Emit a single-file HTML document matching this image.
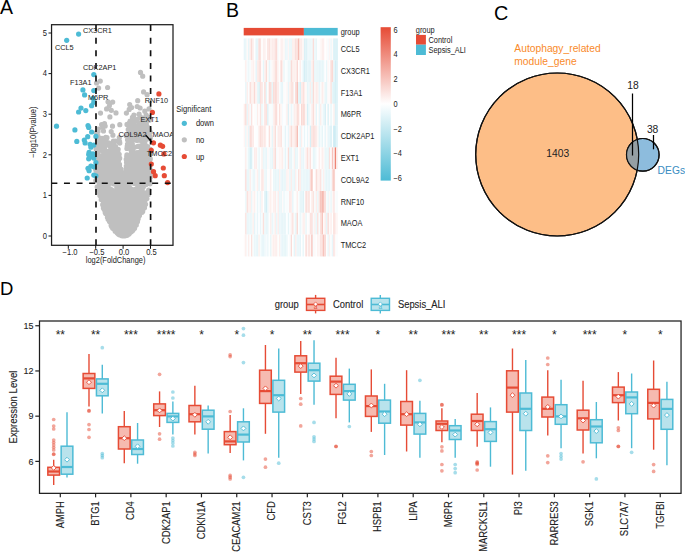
<!DOCTYPE html>
<html><head><meta charset="utf-8"><style>
html,body{margin:0;padding:0;background:#fff;overflow:hidden}
svg{display:block}
text{font-family:"Liberation Sans",sans-serif}
text[font-size="9.4"][fill="#222"],text[font-size="9"][fill="#222"],text[font-size="9.6"][fill="#222"]{stroke:#222;stroke-width:0.1px;paint-order:stroke}
</style></head><body><svg width="685" height="552" viewBox="0 0 685 552"><text x="0" y="14" font-size="19.5" font-family="Liberation Sans, sans-serif">A</text>
<text x="226" y="17" font-size="19.5" font-family="Liberation Sans, sans-serif">B</text>
<text x="494" y="19.7" font-size="19.8" font-family="Liberation Sans, sans-serif">C</text>
<text x="0" y="295" font-size="18.5" font-family="Liberation Sans, sans-serif">D</text>
<path d="M108.5,217.1a2.6,2.6 0 1,0 5.2,0a2.6,2.6 0 1,0 -5.2,0M122.2,234.6a2.6,2.6 0 1,0 5.2,0a2.6,2.6 0 1,0 -5.2,0M119.0,234.5a2.6,2.6 0 1,0 5.2,0a2.6,2.6 0 1,0 -5.2,0M120.5,203.1a2.6,2.6 0 1,0 5.2,0a2.6,2.6 0 1,0 -5.2,0M110.7,211.7a2.6,2.6 0 1,0 5.2,0a2.6,2.6 0 1,0 -5.2,0M118.6,230.7a2.6,2.6 0 1,0 5.2,0a2.6,2.6 0 1,0 -5.2,0M137.8,210.8a2.6,2.6 0 1,0 5.2,0a2.6,2.6 0 1,0 -5.2,0M126.0,219.1a2.6,2.6 0 1,0 5.2,0a2.6,2.6 0 1,0 -5.2,0M130.9,228.0a2.6,2.6 0 1,0 5.2,0a2.6,2.6 0 1,0 -5.2,0M129.4,218.5a2.6,2.6 0 1,0 5.2,0a2.6,2.6 0 1,0 -5.2,0M128.4,204.7a2.6,2.6 0 1,0 5.2,0a2.6,2.6 0 1,0 -5.2,0M118.9,229.3a2.6,2.6 0 1,0 5.2,0a2.6,2.6 0 1,0 -5.2,0M109.5,202.3a2.6,2.6 0 1,0 5.2,0a2.6,2.6 0 1,0 -5.2,0M129.1,213.7a2.6,2.6 0 1,0 5.2,0a2.6,2.6 0 1,0 -5.2,0M122.9,210.4a2.6,2.6 0 1,0 5.2,0a2.6,2.6 0 1,0 -5.2,0M127.3,191.1a2.6,2.6 0 1,0 5.2,0a2.6,2.6 0 1,0 -5.2,0M139.8,198.2a2.6,2.6 0 1,0 5.2,0a2.6,2.6 0 1,0 -5.2,0M120.8,227.9a2.6,2.6 0 1,0 5.2,0a2.6,2.6 0 1,0 -5.2,0M109.3,200.1a2.6,2.6 0 1,0 5.2,0a2.6,2.6 0 1,0 -5.2,0M128.4,215.6a2.6,2.6 0 1,0 5.2,0a2.6,2.6 0 1,0 -5.2,0M122.7,235.5a2.6,2.6 0 1,0 5.2,0a2.6,2.6 0 1,0 -5.2,0M122.3,234.9a2.6,2.6 0 1,0 5.2,0a2.6,2.6 0 1,0 -5.2,0M130.3,226.9a2.6,2.6 0 1,0 5.2,0a2.6,2.6 0 1,0 -5.2,0M118.3,218.7a2.6,2.6 0 1,0 5.2,0a2.6,2.6 0 1,0 -5.2,0M130.2,199.8a2.6,2.6 0 1,0 5.2,0a2.6,2.6 0 1,0 -5.2,0M100.2,184.4a2.6,2.6 0 1,0 5.2,0a2.6,2.6 0 1,0 -5.2,0M122.4,235.1a2.6,2.6 0 1,0 5.2,0a2.6,2.6 0 1,0 -5.2,0M104.8,217.3a2.6,2.6 0 1,0 5.2,0a2.6,2.6 0 1,0 -5.2,0M124.2,222.7a2.6,2.6 0 1,0 5.2,0a2.6,2.6 0 1,0 -5.2,0M122.7,228.9a2.6,2.6 0 1,0 5.2,0a2.6,2.6 0 1,0 -5.2,0M130.4,222.2a2.6,2.6 0 1,0 5.2,0a2.6,2.6 0 1,0 -5.2,0M117.8,233.6a2.6,2.6 0 1,0 5.2,0a2.6,2.6 0 1,0 -5.2,0M109.3,218.0a2.6,2.6 0 1,0 5.2,0a2.6,2.6 0 1,0 -5.2,0M121.2,214.1a2.6,2.6 0 1,0 5.2,0a2.6,2.6 0 1,0 -5.2,0M130.0,223.5a2.6,2.6 0 1,0 5.2,0a2.6,2.6 0 1,0 -5.2,0M126.9,231.5a2.6,2.6 0 1,0 5.2,0a2.6,2.6 0 1,0 -5.2,0M114.5,221.3a2.6,2.6 0 1,0 5.2,0a2.6,2.6 0 1,0 -5.2,0M129.4,198.0a2.6,2.6 0 1,0 5.2,0a2.6,2.6 0 1,0 -5.2,0M121.7,231.1a2.6,2.6 0 1,0 5.2,0a2.6,2.6 0 1,0 -5.2,0M107.9,217.0a2.6,2.6 0 1,0 5.2,0a2.6,2.6 0 1,0 -5.2,0M128.7,217.1a2.6,2.6 0 1,0 5.2,0a2.6,2.6 0 1,0 -5.2,0M120.4,228.0a2.6,2.6 0 1,0 5.2,0a2.6,2.6 0 1,0 -5.2,0M126.5,230.4a2.6,2.6 0 1,0 5.2,0a2.6,2.6 0 1,0 -5.2,0M124.0,225.3a2.6,2.6 0 1,0 5.2,0a2.6,2.6 0 1,0 -5.2,0M124.1,229.2a2.6,2.6 0 1,0 5.2,0a2.6,2.6 0 1,0 -5.2,0M132.7,189.4a2.6,2.6 0 1,0 5.2,0a2.6,2.6 0 1,0 -5.2,0M117.8,229.8a2.6,2.6 0 1,0 5.2,0a2.6,2.6 0 1,0 -5.2,0M129.3,189.3a2.6,2.6 0 1,0 5.2,0a2.6,2.6 0 1,0 -5.2,0M125.7,231.6a2.6,2.6 0 1,0 5.2,0a2.6,2.6 0 1,0 -5.2,0M121.3,231.8a2.6,2.6 0 1,0 5.2,0a2.6,2.6 0 1,0 -5.2,0M124.8,232.3a2.6,2.6 0 1,0 5.2,0a2.6,2.6 0 1,0 -5.2,0M106.5,214.8a2.6,2.6 0 1,0 5.2,0a2.6,2.6 0 1,0 -5.2,0M114.1,199.5a2.6,2.6 0 1,0 5.2,0a2.6,2.6 0 1,0 -5.2,0M118.1,223.7a2.6,2.6 0 1,0 5.2,0a2.6,2.6 0 1,0 -5.2,0M117.0,226.7a2.6,2.6 0 1,0 5.2,0a2.6,2.6 0 1,0 -5.2,0M126.0,230.9a2.6,2.6 0 1,0 5.2,0a2.6,2.6 0 1,0 -5.2,0M104.0,200.3a2.6,2.6 0 1,0 5.2,0a2.6,2.6 0 1,0 -5.2,0M113.5,192.7a2.6,2.6 0 1,0 5.2,0a2.6,2.6 0 1,0 -5.2,0M129.8,223.4a2.6,2.6 0 1,0 5.2,0a2.6,2.6 0 1,0 -5.2,0M120.4,229.9a2.6,2.6 0 1,0 5.2,0a2.6,2.6 0 1,0 -5.2,0M121.7,235.0a2.6,2.6 0 1,0 5.2,0a2.6,2.6 0 1,0 -5.2,0M127.3,215.4a2.6,2.6 0 1,0 5.2,0a2.6,2.6 0 1,0 -5.2,0M120.7,232.9a2.6,2.6 0 1,0 5.2,0a2.6,2.6 0 1,0 -5.2,0M127.5,211.7a2.6,2.6 0 1,0 5.2,0a2.6,2.6 0 1,0 -5.2,0M133.3,221.1a2.6,2.6 0 1,0 5.2,0a2.6,2.6 0 1,0 -5.2,0M113.1,224.8a2.6,2.6 0 1,0 5.2,0a2.6,2.6 0 1,0 -5.2,0M126.8,233.6a2.6,2.6 0 1,0 5.2,0a2.6,2.6 0 1,0 -5.2,0M112.9,230.6a2.6,2.6 0 1,0 5.2,0a2.6,2.6 0 1,0 -5.2,0M126.0,232.6a2.6,2.6 0 1,0 5.2,0a2.6,2.6 0 1,0 -5.2,0M126.3,224.3a2.6,2.6 0 1,0 5.2,0a2.6,2.6 0 1,0 -5.2,0M130.5,196.4a2.6,2.6 0 1,0 5.2,0a2.6,2.6 0 1,0 -5.2,0M129.9,228.6a2.6,2.6 0 1,0 5.2,0a2.6,2.6 0 1,0 -5.2,0M98.8,192.2a2.6,2.6 0 1,0 5.2,0a2.6,2.6 0 1,0 -5.2,0M113.3,230.8a2.6,2.6 0 1,0 5.2,0a2.6,2.6 0 1,0 -5.2,0M129.7,230.6a2.6,2.6 0 1,0 5.2,0a2.6,2.6 0 1,0 -5.2,0M136.6,185.1a2.6,2.6 0 1,0 5.2,0a2.6,2.6 0 1,0 -5.2,0M141.0,208.3a2.6,2.6 0 1,0 5.2,0a2.6,2.6 0 1,0 -5.2,0M138.6,203.6a2.6,2.6 0 1,0 5.2,0a2.6,2.6 0 1,0 -5.2,0M122.4,225.6a2.6,2.6 0 1,0 5.2,0a2.6,2.6 0 1,0 -5.2,0M126.7,187.4a2.6,2.6 0 1,0 5.2,0a2.6,2.6 0 1,0 -5.2,0M103.1,209.9a2.6,2.6 0 1,0 5.2,0a2.6,2.6 0 1,0 -5.2,0M106.5,198.3a2.6,2.6 0 1,0 5.2,0a2.6,2.6 0 1,0 -5.2,0M114.4,211.6a2.6,2.6 0 1,0 5.2,0a2.6,2.6 0 1,0 -5.2,0M125.8,223.1a2.6,2.6 0 1,0 5.2,0a2.6,2.6 0 1,0 -5.2,0M129.6,208.7a2.6,2.6 0 1,0 5.2,0a2.6,2.6 0 1,0 -5.2,0M118.0,226.9a2.6,2.6 0 1,0 5.2,0a2.6,2.6 0 1,0 -5.2,0M119.3,224.0a2.6,2.6 0 1,0 5.2,0a2.6,2.6 0 1,0 -5.2,0M122.0,212.3a2.6,2.6 0 1,0 5.2,0a2.6,2.6 0 1,0 -5.2,0M117.1,232.0a2.6,2.6 0 1,0 5.2,0a2.6,2.6 0 1,0 -5.2,0M131.1,223.1a2.6,2.6 0 1,0 5.2,0a2.6,2.6 0 1,0 -5.2,0M114.7,230.1a2.6,2.6 0 1,0 5.2,0a2.6,2.6 0 1,0 -5.2,0M121.7,205.7a2.6,2.6 0 1,0 5.2,0a2.6,2.6 0 1,0 -5.2,0M116.9,218.8a2.6,2.6 0 1,0 5.2,0a2.6,2.6 0 1,0 -5.2,0M103.0,190.1a2.6,2.6 0 1,0 5.2,0a2.6,2.6 0 1,0 -5.2,0M121.3,235.9a2.6,2.6 0 1,0 5.2,0a2.6,2.6 0 1,0 -5.2,0M131.7,196.1a2.6,2.6 0 1,0 5.2,0a2.6,2.6 0 1,0 -5.2,0M99.7,197.7a2.6,2.6 0 1,0 5.2,0a2.6,2.6 0 1,0 -5.2,0M138.0,197.8a2.6,2.6 0 1,0 5.2,0a2.6,2.6 0 1,0 -5.2,0M121.4,228.4a2.6,2.6 0 1,0 5.2,0a2.6,2.6 0 1,0 -5.2,0M115.1,225.9a2.6,2.6 0 1,0 5.2,0a2.6,2.6 0 1,0 -5.2,0M132.0,208.4a2.6,2.6 0 1,0 5.2,0a2.6,2.6 0 1,0 -5.2,0M108.7,211.6a2.6,2.6 0 1,0 5.2,0a2.6,2.6 0 1,0 -5.2,0M110.8,224.5a2.6,2.6 0 1,0 5.2,0a2.6,2.6 0 1,0 -5.2,0M119.8,213.8a2.6,2.6 0 1,0 5.2,0a2.6,2.6 0 1,0 -5.2,0M131.0,220.9a2.6,2.6 0 1,0 5.2,0a2.6,2.6 0 1,0 -5.2,0M121.1,231.1a2.6,2.6 0 1,0 5.2,0a2.6,2.6 0 1,0 -5.2,0M118.1,227.0a2.6,2.6 0 1,0 5.2,0a2.6,2.6 0 1,0 -5.2,0M121.7,207.6a2.6,2.6 0 1,0 5.2,0a2.6,2.6 0 1,0 -5.2,0M125.9,213.4a2.6,2.6 0 1,0 5.2,0a2.6,2.6 0 1,0 -5.2,0M135.4,207.8a2.6,2.6 0 1,0 5.2,0a2.6,2.6 0 1,0 -5.2,0M109.6,191.0a2.6,2.6 0 1,0 5.2,0a2.6,2.6 0 1,0 -5.2,0M124.0,200.5a2.6,2.6 0 1,0 5.2,0a2.6,2.6 0 1,0 -5.2,0M102.5,203.3a2.6,2.6 0 1,0 5.2,0a2.6,2.6 0 1,0 -5.2,0M135.1,203.2a2.6,2.6 0 1,0 5.2,0a2.6,2.6 0 1,0 -5.2,0M125.8,220.5a2.6,2.6 0 1,0 5.2,0a2.6,2.6 0 1,0 -5.2,0M122.1,235.2a2.6,2.6 0 1,0 5.2,0a2.6,2.6 0 1,0 -5.2,0M118.4,228.8a2.6,2.6 0 1,0 5.2,0a2.6,2.6 0 1,0 -5.2,0M120.1,229.4a2.6,2.6 0 1,0 5.2,0a2.6,2.6 0 1,0 -5.2,0M125.5,228.2a2.6,2.6 0 1,0 5.2,0a2.6,2.6 0 1,0 -5.2,0M125.3,221.4a2.6,2.6 0 1,0 5.2,0a2.6,2.6 0 1,0 -5.2,0M125.8,233.6a2.6,2.6 0 1,0 5.2,0a2.6,2.6 0 1,0 -5.2,0M117.5,225.5a2.6,2.6 0 1,0 5.2,0a2.6,2.6 0 1,0 -5.2,0M119.0,216.5a2.6,2.6 0 1,0 5.2,0a2.6,2.6 0 1,0 -5.2,0M108.2,215.8a2.6,2.6 0 1,0 5.2,0a2.6,2.6 0 1,0 -5.2,0M122.2,192.3a2.6,2.6 0 1,0 5.2,0a2.6,2.6 0 1,0 -5.2,0M126.1,216.8a2.6,2.6 0 1,0 5.2,0a2.6,2.6 0 1,0 -5.2,0M128.4,229.2a2.6,2.6 0 1,0 5.2,0a2.6,2.6 0 1,0 -5.2,0M130.2,201.6a2.6,2.6 0 1,0 5.2,0a2.6,2.6 0 1,0 -5.2,0M126.2,228.6a2.6,2.6 0 1,0 5.2,0a2.6,2.6 0 1,0 -5.2,0M122.0,217.9a2.6,2.6 0 1,0 5.2,0a2.6,2.6 0 1,0 -5.2,0M122.5,235.0a2.6,2.6 0 1,0 5.2,0a2.6,2.6 0 1,0 -5.2,0M115.4,210.3a2.6,2.6 0 1,0 5.2,0a2.6,2.6 0 1,0 -5.2,0M141.1,201.6a2.6,2.6 0 1,0 5.2,0a2.6,2.6 0 1,0 -5.2,0M112.6,231.3a2.6,2.6 0 1,0 5.2,0a2.6,2.6 0 1,0 -5.2,0M115.3,227.3a2.6,2.6 0 1,0 5.2,0a2.6,2.6 0 1,0 -5.2,0M104.1,188.8a2.6,2.6 0 1,0 5.2,0a2.6,2.6 0 1,0 -5.2,0M128.8,209.6a2.6,2.6 0 1,0 5.2,0a2.6,2.6 0 1,0 -5.2,0M141.1,194.8a2.6,2.6 0 1,0 5.2,0a2.6,2.6 0 1,0 -5.2,0M114.7,231.1a2.6,2.6 0 1,0 5.2,0a2.6,2.6 0 1,0 -5.2,0M104.9,209.4a2.6,2.6 0 1,0 5.2,0a2.6,2.6 0 1,0 -5.2,0M122.8,235.3a2.6,2.6 0 1,0 5.2,0a2.6,2.6 0 1,0 -5.2,0M132.6,222.8a2.6,2.6 0 1,0 5.2,0a2.6,2.6 0 1,0 -5.2,0M116.1,225.7a2.6,2.6 0 1,0 5.2,0a2.6,2.6 0 1,0 -5.2,0M132.5,217.6a2.6,2.6 0 1,0 5.2,0a2.6,2.6 0 1,0 -5.2,0M119.5,202.9a2.6,2.6 0 1,0 5.2,0a2.6,2.6 0 1,0 -5.2,0M134.1,209.8a2.6,2.6 0 1,0 5.2,0a2.6,2.6 0 1,0 -5.2,0M123.6,234.3a2.6,2.6 0 1,0 5.2,0a2.6,2.6 0 1,0 -5.2,0M97.6,190.8a2.6,2.6 0 1,0 5.2,0a2.6,2.6 0 1,0 -5.2,0M119.6,235.7a2.6,2.6 0 1,0 5.2,0a2.6,2.6 0 1,0 -5.2,0M124.0,228.2a2.6,2.6 0 1,0 5.2,0a2.6,2.6 0 1,0 -5.2,0M124.1,207.2a2.6,2.6 0 1,0 5.2,0a2.6,2.6 0 1,0 -5.2,0M111.6,223.5a2.6,2.6 0 1,0 5.2,0a2.6,2.6 0 1,0 -5.2,0M101.6,208.8a2.6,2.6 0 1,0 5.2,0a2.6,2.6 0 1,0 -5.2,0M134.0,208.8a2.6,2.6 0 1,0 5.2,0a2.6,2.6 0 1,0 -5.2,0M113.7,216.7a2.6,2.6 0 1,0 5.2,0a2.6,2.6 0 1,0 -5.2,0M133.9,216.1a2.6,2.6 0 1,0 5.2,0a2.6,2.6 0 1,0 -5.2,0M119.6,235.2a2.6,2.6 0 1,0 5.2,0a2.6,2.6 0 1,0 -5.2,0M124.1,200.6a2.6,2.6 0 1,0 5.2,0a2.6,2.6 0 1,0 -5.2,0M126.9,227.8a2.6,2.6 0 1,0 5.2,0a2.6,2.6 0 1,0 -5.2,0M130.7,213.0a2.6,2.6 0 1,0 5.2,0a2.6,2.6 0 1,0 -5.2,0M123.1,191.9a2.6,2.6 0 1,0 5.2,0a2.6,2.6 0 1,0 -5.2,0M123.1,233.2a2.6,2.6 0 1,0 5.2,0a2.6,2.6 0 1,0 -5.2,0M128.2,202.4a2.6,2.6 0 1,0 5.2,0a2.6,2.6 0 1,0 -5.2,0M121.0,236.0a2.6,2.6 0 1,0 5.2,0a2.6,2.6 0 1,0 -5.2,0M137.6,198.2a2.6,2.6 0 1,0 5.2,0a2.6,2.6 0 1,0 -5.2,0M122.9,231.4a2.6,2.6 0 1,0 5.2,0a2.6,2.6 0 1,0 -5.2,0M110.3,221.9a2.6,2.6 0 1,0 5.2,0a2.6,2.6 0 1,0 -5.2,0M126.2,229.9a2.6,2.6 0 1,0 5.2,0a2.6,2.6 0 1,0 -5.2,0M125.5,223.0a2.6,2.6 0 1,0 5.2,0a2.6,2.6 0 1,0 -5.2,0M132.7,207.4a2.6,2.6 0 1,0 5.2,0a2.6,2.6 0 1,0 -5.2,0M113.7,228.3a2.6,2.6 0 1,0 5.2,0a2.6,2.6 0 1,0 -5.2,0M120.0,213.3a2.6,2.6 0 1,0 5.2,0a2.6,2.6 0 1,0 -5.2,0M100.8,208.1a2.6,2.6 0 1,0 5.2,0a2.6,2.6 0 1,0 -5.2,0M129.2,215.1a2.6,2.6 0 1,0 5.2,0a2.6,2.6 0 1,0 -5.2,0M127.4,193.6a2.6,2.6 0 1,0 5.2,0a2.6,2.6 0 1,0 -5.2,0M117.9,219.7a2.6,2.6 0 1,0 5.2,0a2.6,2.6 0 1,0 -5.2,0M115.4,209.3a2.6,2.6 0 1,0 5.2,0a2.6,2.6 0 1,0 -5.2,0M128.4,229.4a2.6,2.6 0 1,0 5.2,0a2.6,2.6 0 1,0 -5.2,0M130.8,221.8a2.6,2.6 0 1,0 5.2,0a2.6,2.6 0 1,0 -5.2,0M119.0,231.8a2.6,2.6 0 1,0 5.2,0a2.6,2.6 0 1,0 -5.2,0M125.4,227.2a2.6,2.6 0 1,0 5.2,0a2.6,2.6 0 1,0 -5.2,0M108.0,221.7a2.6,2.6 0 1,0 5.2,0a2.6,2.6 0 1,0 -5.2,0M111.2,200.8a2.6,2.6 0 1,0 5.2,0a2.6,2.6 0 1,0 -5.2,0M130.1,229.1a2.6,2.6 0 1,0 5.2,0a2.6,2.6 0 1,0 -5.2,0M111.6,197.0a2.6,2.6 0 1,0 5.2,0a2.6,2.6 0 1,0 -5.2,0M119.5,234.9a2.6,2.6 0 1,0 5.2,0a2.6,2.6 0 1,0 -5.2,0M114.0,218.6a2.6,2.6 0 1,0 5.2,0a2.6,2.6 0 1,0 -5.2,0M126.9,228.8a2.6,2.6 0 1,0 5.2,0a2.6,2.6 0 1,0 -5.2,0M114.0,218.0a2.6,2.6 0 1,0 5.2,0a2.6,2.6 0 1,0 -5.2,0M122.4,222.1a2.6,2.6 0 1,0 5.2,0a2.6,2.6 0 1,0 -5.2,0M95.8,188.7a2.6,2.6 0 1,0 5.2,0a2.6,2.6 0 1,0 -5.2,0M113.2,224.9a2.6,2.6 0 1,0 5.2,0a2.6,2.6 0 1,0 -5.2,0M119.8,220.2a2.6,2.6 0 1,0 5.2,0a2.6,2.6 0 1,0 -5.2,0M119.2,184.0a2.6,2.6 0 1,0 5.2,0a2.6,2.6 0 1,0 -5.2,0M118.0,234.6a2.6,2.6 0 1,0 5.2,0a2.6,2.6 0 1,0 -5.2,0M127.7,183.3a2.6,2.6 0 1,0 5.2,0a2.6,2.6 0 1,0 -5.2,0M122.7,217.0a2.6,2.6 0 1,0 5.2,0a2.6,2.6 0 1,0 -5.2,0M118.2,226.6a2.6,2.6 0 1,0 5.2,0a2.6,2.6 0 1,0 -5.2,0M99.7,199.7a2.6,2.6 0 1,0 5.2,0a2.6,2.6 0 1,0 -5.2,0M140.8,186.8a2.6,2.6 0 1,0 5.2,0a2.6,2.6 0 1,0 -5.2,0M125.3,189.4a2.6,2.6 0 1,0 5.2,0a2.6,2.6 0 1,0 -5.2,0M124.9,218.5a2.6,2.6 0 1,0 5.2,0a2.6,2.6 0 1,0 -5.2,0M103.1,213.5a2.6,2.6 0 1,0 5.2,0a2.6,2.6 0 1,0 -5.2,0M117.8,234.8a2.6,2.6 0 1,0 5.2,0a2.6,2.6 0 1,0 -5.2,0M120.6,234.7a2.6,2.6 0 1,0 5.2,0a2.6,2.6 0 1,0 -5.2,0M124.2,229.6a2.6,2.6 0 1,0 5.2,0a2.6,2.6 0 1,0 -5.2,0M125.1,224.8a2.6,2.6 0 1,0 5.2,0a2.6,2.6 0 1,0 -5.2,0M125.5,231.2a2.6,2.6 0 1,0 5.2,0a2.6,2.6 0 1,0 -5.2,0M117.2,234.2a2.6,2.6 0 1,0 5.2,0a2.6,2.6 0 1,0 -5.2,0M110.4,207.2a2.6,2.6 0 1,0 5.2,0a2.6,2.6 0 1,0 -5.2,0M106.9,221.6a2.6,2.6 0 1,0 5.2,0a2.6,2.6 0 1,0 -5.2,0M109.0,198.0a2.6,2.6 0 1,0 5.2,0a2.6,2.6 0 1,0 -5.2,0M144.3,198.5a2.6,2.6 0 1,0 5.2,0a2.6,2.6 0 1,0 -5.2,0M142.3,200.9a2.6,2.6 0 1,0 5.2,0a2.6,2.6 0 1,0 -5.2,0M113.9,227.5a2.6,2.6 0 1,0 5.2,0a2.6,2.6 0 1,0 -5.2,0M125.9,223.9a2.6,2.6 0 1,0 5.2,0a2.6,2.6 0 1,0 -5.2,0M114.9,221.9a2.6,2.6 0 1,0 5.2,0a2.6,2.6 0 1,0 -5.2,0M130.9,212.2a2.6,2.6 0 1,0 5.2,0a2.6,2.6 0 1,0 -5.2,0M108.5,225.3a2.6,2.6 0 1,0 5.2,0a2.6,2.6 0 1,0 -5.2,0M104.4,183.6a2.6,2.6 0 1,0 5.2,0a2.6,2.6 0 1,0 -5.2,0M115.1,209.1a2.6,2.6 0 1,0 5.2,0a2.6,2.6 0 1,0 -5.2,0M134.6,192.8a2.6,2.6 0 1,0 5.2,0a2.6,2.6 0 1,0 -5.2,0M135.3,211.2a2.6,2.6 0 1,0 5.2,0a2.6,2.6 0 1,0 -5.2,0M135.0,214.3a2.6,2.6 0 1,0 5.2,0a2.6,2.6 0 1,0 -5.2,0M117.5,232.5a2.6,2.6 0 1,0 5.2,0a2.6,2.6 0 1,0 -5.2,0M104.0,203.6a2.6,2.6 0 1,0 5.2,0a2.6,2.6 0 1,0 -5.2,0M122.0,230.6a2.6,2.6 0 1,0 5.2,0a2.6,2.6 0 1,0 -5.2,0M121.4,234.9a2.6,2.6 0 1,0 5.2,0a2.6,2.6 0 1,0 -5.2,0M131.3,228.0a2.6,2.6 0 1,0 5.2,0a2.6,2.6 0 1,0 -5.2,0M111.6,205.4a2.6,2.6 0 1,0 5.2,0a2.6,2.6 0 1,0 -5.2,0M105.7,209.2a2.6,2.6 0 1,0 5.2,0a2.6,2.6 0 1,0 -5.2,0M102.8,205.5a2.6,2.6 0 1,0 5.2,0a2.6,2.6 0 1,0 -5.2,0M117.4,232.2a2.6,2.6 0 1,0 5.2,0a2.6,2.6 0 1,0 -5.2,0M140.1,211.4a2.6,2.6 0 1,0 5.2,0a2.6,2.6 0 1,0 -5.2,0M122.7,233.9a2.6,2.6 0 1,0 5.2,0a2.6,2.6 0 1,0 -5.2,0M119.0,222.6a2.6,2.6 0 1,0 5.2,0a2.6,2.6 0 1,0 -5.2,0M114.1,214.5a2.6,2.6 0 1,0 5.2,0a2.6,2.6 0 1,0 -5.2,0M110.1,223.0a2.6,2.6 0 1,0 5.2,0a2.6,2.6 0 1,0 -5.2,0M112.9,222.3a2.6,2.6 0 1,0 5.2,0a2.6,2.6 0 1,0 -5.2,0M123.1,230.0a2.6,2.6 0 1,0 5.2,0a2.6,2.6 0 1,0 -5.2,0M117.1,229.2a2.6,2.6 0 1,0 5.2,0a2.6,2.6 0 1,0 -5.2,0M115.8,233.5a2.6,2.6 0 1,0 5.2,0a2.6,2.6 0 1,0 -5.2,0M132.4,224.7a2.6,2.6 0 1,0 5.2,0a2.6,2.6 0 1,0 -5.2,0M125.8,225.6a2.6,2.6 0 1,0 5.2,0a2.6,2.6 0 1,0 -5.2,0M125.2,185.0a2.6,2.6 0 1,0 5.2,0a2.6,2.6 0 1,0 -5.2,0M120.7,235.0a2.6,2.6 0 1,0 5.2,0a2.6,2.6 0 1,0 -5.2,0M112.2,223.7a2.6,2.6 0 1,0 5.2,0a2.6,2.6 0 1,0 -5.2,0M117.9,234.5a2.6,2.6 0 1,0 5.2,0a2.6,2.6 0 1,0 -5.2,0M109.9,206.3a2.6,2.6 0 1,0 5.2,0a2.6,2.6 0 1,0 -5.2,0M118.3,228.1a2.6,2.6 0 1,0 5.2,0a2.6,2.6 0 1,0 -5.2,0M117.9,185.4a2.6,2.6 0 1,0 5.2,0a2.6,2.6 0 1,0 -5.2,0M129.5,199.8a2.6,2.6 0 1,0 5.2,0a2.6,2.6 0 1,0 -5.2,0M108.4,219.2a2.6,2.6 0 1,0 5.2,0a2.6,2.6 0 1,0 -5.2,0M133.0,219.5a2.6,2.6 0 1,0 5.2,0a2.6,2.6 0 1,0 -5.2,0M105.6,216.4a2.6,2.6 0 1,0 5.2,0a2.6,2.6 0 1,0 -5.2,0M123.7,211.8a2.6,2.6 0 1,0 5.2,0a2.6,2.6 0 1,0 -5.2,0M133.2,220.4a2.6,2.6 0 1,0 5.2,0a2.6,2.6 0 1,0 -5.2,0M117.6,235.0a2.6,2.6 0 1,0 5.2,0a2.6,2.6 0 1,0 -5.2,0M123.6,214.0a2.6,2.6 0 1,0 5.2,0a2.6,2.6 0 1,0 -5.2,0M124.6,231.0a2.6,2.6 0 1,0 5.2,0a2.6,2.6 0 1,0 -5.2,0M108.1,209.1a2.6,2.6 0 1,0 5.2,0a2.6,2.6 0 1,0 -5.2,0M117.7,219.7a2.6,2.6 0 1,0 5.2,0a2.6,2.6 0 1,0 -5.2,0M112.4,222.5a2.6,2.6 0 1,0 5.2,0a2.6,2.6 0 1,0 -5.2,0M117.0,196.9a2.6,2.6 0 1,0 5.2,0a2.6,2.6 0 1,0 -5.2,0M112.5,210.1a2.6,2.6 0 1,0 5.2,0a2.6,2.6 0 1,0 -5.2,0M123.5,234.5a2.6,2.6 0 1,0 5.2,0a2.6,2.6 0 1,0 -5.2,0M131.2,223.8a2.6,2.6 0 1,0 5.2,0a2.6,2.6 0 1,0 -5.2,0M118.5,220.9a2.6,2.6 0 1,0 5.2,0a2.6,2.6 0 1,0 -5.2,0M137.3,192.2a2.6,2.6 0 1,0 5.2,0a2.6,2.6 0 1,0 -5.2,0M123.2,235.5a2.6,2.6 0 1,0 5.2,0a2.6,2.6 0 1,0 -5.2,0M125.4,207.6a2.6,2.6 0 1,0 5.2,0a2.6,2.6 0 1,0 -5.2,0M118.0,223.4a2.6,2.6 0 1,0 5.2,0a2.6,2.6 0 1,0 -5.2,0M115.1,199.2a2.6,2.6 0 1,0 5.2,0a2.6,2.6 0 1,0 -5.2,0M128.2,220.5a2.6,2.6 0 1,0 5.2,0a2.6,2.6 0 1,0 -5.2,0M127.2,229.9a2.6,2.6 0 1,0 5.2,0a2.6,2.6 0 1,0 -5.2,0M104.8,198.8a2.6,2.6 0 1,0 5.2,0a2.6,2.6 0 1,0 -5.2,0M119.6,200.4a2.6,2.6 0 1,0 5.2,0a2.6,2.6 0 1,0 -5.2,0M123.7,230.6a2.6,2.6 0 1,0 5.2,0a2.6,2.6 0 1,0 -5.2,0M122.9,227.7a2.6,2.6 0 1,0 5.2,0a2.6,2.6 0 1,0 -5.2,0M127.1,229.9a2.6,2.6 0 1,0 5.2,0a2.6,2.6 0 1,0 -5.2,0M117.1,230.8a2.6,2.6 0 1,0 5.2,0a2.6,2.6 0 1,0 -5.2,0M124.4,187.3a2.6,2.6 0 1,0 5.2,0a2.6,2.6 0 1,0 -5.2,0M114.8,222.8a2.6,2.6 0 1,0 5.2,0a2.6,2.6 0 1,0 -5.2,0M146.1,190.1a2.6,2.6 0 1,0 5.2,0a2.6,2.6 0 1,0 -5.2,0M132.0,196.1a2.6,2.6 0 1,0 5.2,0a2.6,2.6 0 1,0 -5.2,0M131.1,216.1a2.6,2.6 0 1,0 5.2,0a2.6,2.6 0 1,0 -5.2,0M120.9,217.7a2.6,2.6 0 1,0 5.2,0a2.6,2.6 0 1,0 -5.2,0M117.1,215.2a2.6,2.6 0 1,0 5.2,0a2.6,2.6 0 1,0 -5.2,0M115.8,218.7a2.6,2.6 0 1,0 5.2,0a2.6,2.6 0 1,0 -5.2,0M120.9,192.4a2.6,2.6 0 1,0 5.2,0a2.6,2.6 0 1,0 -5.2,0M127.0,228.9a2.6,2.6 0 1,0 5.2,0a2.6,2.6 0 1,0 -5.2,0M115.9,199.9a2.6,2.6 0 1,0 5.2,0a2.6,2.6 0 1,0 -5.2,0M117.8,233.4a2.6,2.6 0 1,0 5.2,0a2.6,2.6 0 1,0 -5.2,0M116.1,217.3a2.6,2.6 0 1,0 5.2,0a2.6,2.6 0 1,0 -5.2,0M133.8,202.4a2.6,2.6 0 1,0 5.2,0a2.6,2.6 0 1,0 -5.2,0M100.1,186.7a2.6,2.6 0 1,0 5.2,0a2.6,2.6 0 1,0 -5.2,0M111.9,215.6a2.6,2.6 0 1,0 5.2,0a2.6,2.6 0 1,0 -5.2,0M140.1,208.4a2.6,2.6 0 1,0 5.2,0a2.6,2.6 0 1,0 -5.2,0M112.5,222.7a2.6,2.6 0 1,0 5.2,0a2.6,2.6 0 1,0 -5.2,0M118.7,216.4a2.6,2.6 0 1,0 5.2,0a2.6,2.6 0 1,0 -5.2,0M115.4,230.8a2.6,2.6 0 1,0 5.2,0a2.6,2.6 0 1,0 -5.2,0M125.5,230.7a2.6,2.6 0 1,0 5.2,0a2.6,2.6 0 1,0 -5.2,0M126.7,230.2a2.6,2.6 0 1,0 5.2,0a2.6,2.6 0 1,0 -5.2,0M116.8,233.8a2.6,2.6 0 1,0 5.2,0a2.6,2.6 0 1,0 -5.2,0M126.0,224.5a2.6,2.6 0 1,0 5.2,0a2.6,2.6 0 1,0 -5.2,0M140.3,184.4a2.6,2.6 0 1,0 5.2,0a2.6,2.6 0 1,0 -5.2,0M120.1,213.0a2.6,2.6 0 1,0 5.2,0a2.6,2.6 0 1,0 -5.2,0M113.6,212.8a2.6,2.6 0 1,0 5.2,0a2.6,2.6 0 1,0 -5.2,0M121.7,223.1a2.6,2.6 0 1,0 5.2,0a2.6,2.6 0 1,0 -5.2,0M118.0,208.8a2.6,2.6 0 1,0 5.2,0a2.6,2.6 0 1,0 -5.2,0M114.2,224.9a2.6,2.6 0 1,0 5.2,0a2.6,2.6 0 1,0 -5.2,0M105.9,191.1a2.6,2.6 0 1,0 5.2,0a2.6,2.6 0 1,0 -5.2,0M135.8,206.7a2.6,2.6 0 1,0 5.2,0a2.6,2.6 0 1,0 -5.2,0M109.3,218.8a2.6,2.6 0 1,0 5.2,0a2.6,2.6 0 1,0 -5.2,0M115.2,212.0a2.6,2.6 0 1,0 5.2,0a2.6,2.6 0 1,0 -5.2,0M119.9,235.0a2.6,2.6 0 1,0 5.2,0a2.6,2.6 0 1,0 -5.2,0M131.5,225.6a2.6,2.6 0 1,0 5.2,0a2.6,2.6 0 1,0 -5.2,0M127.7,230.8a2.6,2.6 0 1,0 5.2,0a2.6,2.6 0 1,0 -5.2,0M134.2,207.0a2.6,2.6 0 1,0 5.2,0a2.6,2.6 0 1,0 -5.2,0M120.7,234.4a2.6,2.6 0 1,0 5.2,0a2.6,2.6 0 1,0 -5.2,0M125.8,230.1a2.6,2.6 0 1,0 5.2,0a2.6,2.6 0 1,0 -5.2,0M123.8,235.4a2.6,2.6 0 1,0 5.2,0a2.6,2.6 0 1,0 -5.2,0M109.4,190.2a2.6,2.6 0 1,0 5.2,0a2.6,2.6 0 1,0 -5.2,0M131.9,215.1a2.6,2.6 0 1,0 5.2,0a2.6,2.6 0 1,0 -5.2,0M128.1,209.1a2.6,2.6 0 1,0 5.2,0a2.6,2.6 0 1,0 -5.2,0M112.3,222.2a2.6,2.6 0 1,0 5.2,0a2.6,2.6 0 1,0 -5.2,0M121.8,196.9a2.6,2.6 0 1,0 5.2,0a2.6,2.6 0 1,0 -5.2,0M116.4,215.1a2.6,2.6 0 1,0 5.2,0a2.6,2.6 0 1,0 -5.2,0M124.9,223.4a2.6,2.6 0 1,0 5.2,0a2.6,2.6 0 1,0 -5.2,0M137.2,209.0a2.6,2.6 0 1,0 5.2,0a2.6,2.6 0 1,0 -5.2,0M120.8,235.6a2.6,2.6 0 1,0 5.2,0a2.6,2.6 0 1,0 -5.2,0M121.7,210.6a2.6,2.6 0 1,0 5.2,0a2.6,2.6 0 1,0 -5.2,0M104.9,202.0a2.6,2.6 0 1,0 5.2,0a2.6,2.6 0 1,0 -5.2,0M116.5,230.2a2.6,2.6 0 1,0 5.2,0a2.6,2.6 0 1,0 -5.2,0M108.4,214.5a2.6,2.6 0 1,0 5.2,0a2.6,2.6 0 1,0 -5.2,0M98.6,199.4a2.6,2.6 0 1,0 5.2,0a2.6,2.6 0 1,0 -5.2,0M111.8,200.7a2.6,2.6 0 1,0 5.2,0a2.6,2.6 0 1,0 -5.2,0M118.7,234.5a2.6,2.6 0 1,0 5.2,0a2.6,2.6 0 1,0 -5.2,0M123.9,234.9a2.6,2.6 0 1,0 5.2,0a2.6,2.6 0 1,0 -5.2,0M112.8,223.7a2.6,2.6 0 1,0 5.2,0a2.6,2.6 0 1,0 -5.2,0M105.5,200.0a2.6,2.6 0 1,0 5.2,0a2.6,2.6 0 1,0 -5.2,0M124.1,226.4a2.6,2.6 0 1,0 5.2,0a2.6,2.6 0 1,0 -5.2,0M96.8,192.9a2.6,2.6 0 1,0 5.2,0a2.6,2.6 0 1,0 -5.2,0M124.8,204.0a2.6,2.6 0 1,0 5.2,0a2.6,2.6 0 1,0 -5.2,0M135.6,218.7a2.6,2.6 0 1,0 5.2,0a2.6,2.6 0 1,0 -5.2,0M127.2,210.2a2.6,2.6 0 1,0 5.2,0a2.6,2.6 0 1,0 -5.2,0M106.1,206.5a2.6,2.6 0 1,0 5.2,0a2.6,2.6 0 1,0 -5.2,0M124.2,235.3a2.6,2.6 0 1,0 5.2,0a2.6,2.6 0 1,0 -5.2,0M135.3,186.0a2.6,2.6 0 1,0 5.2,0a2.6,2.6 0 1,0 -5.2,0M110.2,222.2a2.6,2.6 0 1,0 5.2,0a2.6,2.6 0 1,0 -5.2,0M117.6,192.0a2.6,2.6 0 1,0 5.2,0a2.6,2.6 0 1,0 -5.2,0M122.5,235.8a2.6,2.6 0 1,0 5.2,0a2.6,2.6 0 1,0 -5.2,0M121.3,227.0a2.6,2.6 0 1,0 5.2,0a2.6,2.6 0 1,0 -5.2,0M118.8,232.0a2.6,2.6 0 1,0 5.2,0a2.6,2.6 0 1,0 -5.2,0M124.7,225.2a2.6,2.6 0 1,0 5.2,0a2.6,2.6 0 1,0 -5.2,0M104.5,212.8a2.6,2.6 0 1,0 5.2,0a2.6,2.6 0 1,0 -5.2,0M110.7,211.3a2.6,2.6 0 1,0 5.2,0a2.6,2.6 0 1,0 -5.2,0M129.7,226.3a2.6,2.6 0 1,0 5.2,0a2.6,2.6 0 1,0 -5.2,0M122.4,202.8a2.6,2.6 0 1,0 5.2,0a2.6,2.6 0 1,0 -5.2,0M112.6,217.2a2.6,2.6 0 1,0 5.2,0a2.6,2.6 0 1,0 -5.2,0M116.5,198.1a2.6,2.6 0 1,0 5.2,0a2.6,2.6 0 1,0 -5.2,0M101.6,209.5a2.6,2.6 0 1,0 5.2,0a2.6,2.6 0 1,0 -5.2,0M106.6,218.3a2.6,2.6 0 1,0 5.2,0a2.6,2.6 0 1,0 -5.2,0M123.1,183.9a2.6,2.6 0 1,0 5.2,0a2.6,2.6 0 1,0 -5.2,0M126.1,199.7a2.6,2.6 0 1,0 5.2,0a2.6,2.6 0 1,0 -5.2,0M110.2,211.6a2.6,2.6 0 1,0 5.2,0a2.6,2.6 0 1,0 -5.2,0M124.2,214.9a2.6,2.6 0 1,0 5.2,0a2.6,2.6 0 1,0 -5.2,0M128.9,229.7a2.6,2.6 0 1,0 5.2,0a2.6,2.6 0 1,0 -5.2,0M117.3,223.5a2.6,2.6 0 1,0 5.2,0a2.6,2.6 0 1,0 -5.2,0M123.7,219.8a2.6,2.6 0 1,0 5.2,0a2.6,2.6 0 1,0 -5.2,0M117.2,232.1a2.6,2.6 0 1,0 5.2,0a2.6,2.6 0 1,0 -5.2,0M118.2,190.2a2.6,2.6 0 1,0 5.2,0a2.6,2.6 0 1,0 -5.2,0M107.7,209.7a2.6,2.6 0 1,0 5.2,0a2.6,2.6 0 1,0 -5.2,0M112.8,219.4a2.6,2.6 0 1,0 5.2,0a2.6,2.6 0 1,0 -5.2,0M107.0,220.3a2.6,2.6 0 1,0 5.2,0a2.6,2.6 0 1,0 -5.2,0M109.0,226.6a2.6,2.6 0 1,0 5.2,0a2.6,2.6 0 1,0 -5.2,0M114.0,219.5a2.6,2.6 0 1,0 5.2,0a2.6,2.6 0 1,0 -5.2,0M124.3,211.7a2.6,2.6 0 1,0 5.2,0a2.6,2.6 0 1,0 -5.2,0M119.7,233.6a2.6,2.6 0 1,0 5.2,0a2.6,2.6 0 1,0 -5.2,0M123.9,231.6a2.6,2.6 0 1,0 5.2,0a2.6,2.6 0 1,0 -5.2,0M134.0,193.4a2.6,2.6 0 1,0 5.2,0a2.6,2.6 0 1,0 -5.2,0M98.5,185.4a2.6,2.6 0 1,0 5.2,0a2.6,2.6 0 1,0 -5.2,0M122.6,233.5a2.6,2.6 0 1,0 5.2,0a2.6,2.6 0 1,0 -5.2,0M147.4,183.8a2.6,2.6 0 1,0 5.2,0a2.6,2.6 0 1,0 -5.2,0M118.2,228.2a2.6,2.6 0 1,0 5.2,0a2.6,2.6 0 1,0 -5.2,0M129.5,203.2a2.6,2.6 0 1,0 5.2,0a2.6,2.6 0 1,0 -5.2,0M141.8,207.3a2.6,2.6 0 1,0 5.2,0a2.6,2.6 0 1,0 -5.2,0M119.9,219.3a2.6,2.6 0 1,0 5.2,0a2.6,2.6 0 1,0 -5.2,0M116.4,233.8a2.6,2.6 0 1,0 5.2,0a2.6,2.6 0 1,0 -5.2,0M139.7,184.7a2.6,2.6 0 1,0 5.2,0a2.6,2.6 0 1,0 -5.2,0M120.2,226.7a2.6,2.6 0 1,0 5.2,0a2.6,2.6 0 1,0 -5.2,0M105.2,209.8a2.6,2.6 0 1,0 5.2,0a2.6,2.6 0 1,0 -5.2,0M137.5,200.9a2.6,2.6 0 1,0 5.2,0a2.6,2.6 0 1,0 -5.2,0M118.9,234.9a2.6,2.6 0 1,0 5.2,0a2.6,2.6 0 1,0 -5.2,0M136.2,198.4a2.6,2.6 0 1,0 5.2,0a2.6,2.6 0 1,0 -5.2,0M116.4,226.5a2.6,2.6 0 1,0 5.2,0a2.6,2.6 0 1,0 -5.2,0M124.1,235.0a2.6,2.6 0 1,0 5.2,0a2.6,2.6 0 1,0 -5.2,0M120.8,228.4a2.6,2.6 0 1,0 5.2,0a2.6,2.6 0 1,0 -5.2,0M120.2,226.3a2.6,2.6 0 1,0 5.2,0a2.6,2.6 0 1,0 -5.2,0M112.0,226.9a2.6,2.6 0 1,0 5.2,0a2.6,2.6 0 1,0 -5.2,0M125.8,229.9a2.6,2.6 0 1,0 5.2,0a2.6,2.6 0 1,0 -5.2,0M110.9,199.2a2.6,2.6 0 1,0 5.2,0a2.6,2.6 0 1,0 -5.2,0M126.2,222.8a2.6,2.6 0 1,0 5.2,0a2.6,2.6 0 1,0 -5.2,0M119.4,229.8a2.6,2.6 0 1,0 5.2,0a2.6,2.6 0 1,0 -5.2,0M124.7,232.7a2.6,2.6 0 1,0 5.2,0a2.6,2.6 0 1,0 -5.2,0M127.0,233.2a2.6,2.6 0 1,0 5.2,0a2.6,2.6 0 1,0 -5.2,0M124.1,233.1a2.6,2.6 0 1,0 5.2,0a2.6,2.6 0 1,0 -5.2,0M127.0,208.4a2.6,2.6 0 1,0 5.2,0a2.6,2.6 0 1,0 -5.2,0M125.3,213.9a2.6,2.6 0 1,0 5.2,0a2.6,2.6 0 1,0 -5.2,0M127.0,232.8a2.6,2.6 0 1,0 5.2,0a2.6,2.6 0 1,0 -5.2,0M107.4,211.5a2.6,2.6 0 1,0 5.2,0a2.6,2.6 0 1,0 -5.2,0M125.8,198.5a2.6,2.6 0 1,0 5.2,0a2.6,2.6 0 1,0 -5.2,0M111.0,201.0a2.6,2.6 0 1,0 5.2,0a2.6,2.6 0 1,0 -5.2,0M117.4,229.0a2.6,2.6 0 1,0 5.2,0a2.6,2.6 0 1,0 -5.2,0M138.2,185.2a2.6,2.6 0 1,0 5.2,0a2.6,2.6 0 1,0 -5.2,0M140.0,203.0a2.6,2.6 0 1,0 5.2,0a2.6,2.6 0 1,0 -5.2,0M130.3,218.2a2.6,2.6 0 1,0 5.2,0a2.6,2.6 0 1,0 -5.2,0M136.5,207.4a2.6,2.6 0 1,0 5.2,0a2.6,2.6 0 1,0 -5.2,0M117.7,232.5a2.6,2.6 0 1,0 5.2,0a2.6,2.6 0 1,0 -5.2,0M107.9,191.6a2.6,2.6 0 1,0 5.2,0a2.6,2.6 0 1,0 -5.2,0M117.0,219.7a2.6,2.6 0 1,0 5.2,0a2.6,2.6 0 1,0 -5.2,0M128.9,228.9a2.6,2.6 0 1,0 5.2,0a2.6,2.6 0 1,0 -5.2,0M115.7,233.9a2.6,2.6 0 1,0 5.2,0a2.6,2.6 0 1,0 -5.2,0M122.0,232.2a2.6,2.6 0 1,0 5.2,0a2.6,2.6 0 1,0 -5.2,0M120.6,229.4a2.6,2.6 0 1,0 5.2,0a2.6,2.6 0 1,0 -5.2,0M110.2,224.9a2.6,2.6 0 1,0 5.2,0a2.6,2.6 0 1,0 -5.2,0M114.1,211.6a2.6,2.6 0 1,0 5.2,0a2.6,2.6 0 1,0 -5.2,0M103.7,185.7a2.6,2.6 0 1,0 5.2,0a2.6,2.6 0 1,0 -5.2,0M116.6,227.9a2.6,2.6 0 1,0 5.2,0a2.6,2.6 0 1,0 -5.2,0M118.1,203.2a2.6,2.6 0 1,0 5.2,0a2.6,2.6 0 1,0 -5.2,0M125.6,197.5a2.6,2.6 0 1,0 5.2,0a2.6,2.6 0 1,0 -5.2,0M118.2,227.7a2.6,2.6 0 1,0 5.2,0a2.6,2.6 0 1,0 -5.2,0M139.8,207.1a2.6,2.6 0 1,0 5.2,0a2.6,2.6 0 1,0 -5.2,0M141.2,208.0a2.6,2.6 0 1,0 5.2,0a2.6,2.6 0 1,0 -5.2,0M131.2,204.5a2.6,2.6 0 1,0 5.2,0a2.6,2.6 0 1,0 -5.2,0M124.7,226.6a2.6,2.6 0 1,0 5.2,0a2.6,2.6 0 1,0 -5.2,0M130.8,203.9a2.6,2.6 0 1,0 5.2,0a2.6,2.6 0 1,0 -5.2,0M120.2,225.7a2.6,2.6 0 1,0 5.2,0a2.6,2.6 0 1,0 -5.2,0M124.3,218.5a2.6,2.6 0 1,0 5.2,0a2.6,2.6 0 1,0 -5.2,0M117.3,232.6a2.6,2.6 0 1,0 5.2,0a2.6,2.6 0 1,0 -5.2,0M120.9,227.3a2.6,2.6 0 1,0 5.2,0a2.6,2.6 0 1,0 -5.2,0M104.4,210.7a2.6,2.6 0 1,0 5.2,0a2.6,2.6 0 1,0 -5.2,0M112.5,215.6a2.6,2.6 0 1,0 5.2,0a2.6,2.6 0 1,0 -5.2,0M123.0,214.8a2.6,2.6 0 1,0 5.2,0a2.6,2.6 0 1,0 -5.2,0M117.5,232.1a2.6,2.6 0 1,0 5.2,0a2.6,2.6 0 1,0 -5.2,0M107.3,211.8a2.6,2.6 0 1,0 5.2,0a2.6,2.6 0 1,0 -5.2,0M131.4,218.3a2.6,2.6 0 1,0 5.2,0a2.6,2.6 0 1,0 -5.2,0M108.3,212.6a2.6,2.6 0 1,0 5.2,0a2.6,2.6 0 1,0 -5.2,0M125.4,221.5a2.6,2.6 0 1,0 5.2,0a2.6,2.6 0 1,0 -5.2,0M107.7,216.4a2.6,2.6 0 1,0 5.2,0a2.6,2.6 0 1,0 -5.2,0M108.2,211.1a2.6,2.6 0 1,0 5.2,0a2.6,2.6 0 1,0 -5.2,0M116.2,225.4a2.6,2.6 0 1,0 5.2,0a2.6,2.6 0 1,0 -5.2,0M125.8,204.7a2.6,2.6 0 1,0 5.2,0a2.6,2.6 0 1,0 -5.2,0M130.8,221.9a2.6,2.6 0 1,0 5.2,0a2.6,2.6 0 1,0 -5.2,0M112.4,227.1a2.6,2.6 0 1,0 5.2,0a2.6,2.6 0 1,0 -5.2,0M132.3,204.4a2.6,2.6 0 1,0 5.2,0a2.6,2.6 0 1,0 -5.2,0M121.2,234.4a2.6,2.6 0 1,0 5.2,0a2.6,2.6 0 1,0 -5.2,0M121.8,235.0a2.6,2.6 0 1,0 5.2,0a2.6,2.6 0 1,0 -5.2,0M120.2,235.8a2.6,2.6 0 1,0 5.2,0a2.6,2.6 0 1,0 -5.2,0M116.7,230.6a2.6,2.6 0 1,0 5.2,0a2.6,2.6 0 1,0 -5.2,0M126.0,234.1a2.6,2.6 0 1,0 5.2,0a2.6,2.6 0 1,0 -5.2,0M114.7,233.1a2.6,2.6 0 1,0 5.2,0a2.6,2.6 0 1,0 -5.2,0M130.1,226.5a2.6,2.6 0 1,0 5.2,0a2.6,2.6 0 1,0 -5.2,0M114.7,224.9a2.6,2.6 0 1,0 5.2,0a2.6,2.6 0 1,0 -5.2,0M124.3,226.7a2.6,2.6 0 1,0 5.2,0a2.6,2.6 0 1,0 -5.2,0M130.9,220.4a2.6,2.6 0 1,0 5.2,0a2.6,2.6 0 1,0 -5.2,0M111.6,229.3a2.6,2.6 0 1,0 5.2,0a2.6,2.6 0 1,0 -5.2,0M120.8,216.6a2.6,2.6 0 1,0 5.2,0a2.6,2.6 0 1,0 -5.2,0M145.8,194.0a2.6,2.6 0 1,0 5.2,0a2.6,2.6 0 1,0 -5.2,0M123.3,233.3a2.6,2.6 0 1,0 5.2,0a2.6,2.6 0 1,0 -5.2,0M119.7,228.1a2.6,2.6 0 1,0 5.2,0a2.6,2.6 0 1,0 -5.2,0M118.6,187.2a2.6,2.6 0 1,0 5.2,0a2.6,2.6 0 1,0 -5.2,0M114.6,230.5a2.6,2.6 0 1,0 5.2,0a2.6,2.6 0 1,0 -5.2,0M109.9,202.1a2.6,2.6 0 1,0 5.2,0a2.6,2.6 0 1,0 -5.2,0M130.0,223.2a2.6,2.6 0 1,0 5.2,0a2.6,2.6 0 1,0 -5.2,0M105.6,206.9a2.6,2.6 0 1,0 5.2,0a2.6,2.6 0 1,0 -5.2,0M120.6,192.5a2.6,2.6 0 1,0 5.2,0a2.6,2.6 0 1,0 -5.2,0M94.6,186.9a2.6,2.6 0 1,0 5.2,0a2.6,2.6 0 1,0 -5.2,0M122.1,230.9a2.6,2.6 0 1,0 5.2,0a2.6,2.6 0 1,0 -5.2,0M118.1,217.4a2.6,2.6 0 1,0 5.2,0a2.6,2.6 0 1,0 -5.2,0M113.2,217.8a2.6,2.6 0 1,0 5.2,0a2.6,2.6 0 1,0 -5.2,0M116.3,218.8a2.6,2.6 0 1,0 5.2,0a2.6,2.6 0 1,0 -5.2,0M134.9,216.3a2.6,2.6 0 1,0 5.2,0a2.6,2.6 0 1,0 -5.2,0M109.7,191.5a2.6,2.6 0 1,0 5.2,0a2.6,2.6 0 1,0 -5.2,0M124.5,212.5a2.6,2.6 0 1,0 5.2,0a2.6,2.6 0 1,0 -5.2,0M126.6,232.1a2.6,2.6 0 1,0 5.2,0a2.6,2.6 0 1,0 -5.2,0M102.5,209.0a2.6,2.6 0 1,0 5.2,0a2.6,2.6 0 1,0 -5.2,0M115.4,216.7a2.6,2.6 0 1,0 5.2,0a2.6,2.6 0 1,0 -5.2,0M117.3,234.0a2.6,2.6 0 1,0 5.2,0a2.6,2.6 0 1,0 -5.2,0M130.3,194.9a2.6,2.6 0 1,0 5.2,0a2.6,2.6 0 1,0 -5.2,0M121.0,226.9a2.6,2.6 0 1,0 5.2,0a2.6,2.6 0 1,0 -5.2,0M105.7,215.5a2.6,2.6 0 1,0 5.2,0a2.6,2.6 0 1,0 -5.2,0M123.2,229.3a2.6,2.6 0 1,0 5.2,0a2.6,2.6 0 1,0 -5.2,0M126.7,207.2a2.6,2.6 0 1,0 5.2,0a2.6,2.6 0 1,0 -5.2,0M105.7,218.7a2.6,2.6 0 1,0 5.2,0a2.6,2.6 0 1,0 -5.2,0M141.9,207.8a2.6,2.6 0 1,0 5.2,0a2.6,2.6 0 1,0 -5.2,0M118.8,231.9a2.6,2.6 0 1,0 5.2,0a2.6,2.6 0 1,0 -5.2,0M124.0,233.5a2.6,2.6 0 1,0 5.2,0a2.6,2.6 0 1,0 -5.2,0M115.2,223.0a2.6,2.6 0 1,0 5.2,0a2.6,2.6 0 1,0 -5.2,0M123.6,235.5a2.6,2.6 0 1,0 5.2,0a2.6,2.6 0 1,0 -5.2,0M118.9,227.2a2.6,2.6 0 1,0 5.2,0a2.6,2.6 0 1,0 -5.2,0M127.9,230.8a2.6,2.6 0 1,0 5.2,0a2.6,2.6 0 1,0 -5.2,0M126.7,232.9a2.6,2.6 0 1,0 5.2,0a2.6,2.6 0 1,0 -5.2,0M135.1,199.3a2.6,2.6 0 1,0 5.2,0a2.6,2.6 0 1,0 -5.2,0M121.6,235.6a2.6,2.6 0 1,0 5.2,0a2.6,2.6 0 1,0 -5.2,0M102.6,209.5a2.6,2.6 0 1,0 5.2,0a2.6,2.6 0 1,0 -5.2,0M115.4,216.3a2.6,2.6 0 1,0 5.2,0a2.6,2.6 0 1,0 -5.2,0M114.2,187.7a2.6,2.6 0 1,0 5.2,0a2.6,2.6 0 1,0 -5.2,0M113.2,230.5a2.6,2.6 0 1,0 5.2,0a2.6,2.6 0 1,0 -5.2,0M138.6,205.3a2.6,2.6 0 1,0 5.2,0a2.6,2.6 0 1,0 -5.2,0M123.6,225.5a2.6,2.6 0 1,0 5.2,0a2.6,2.6 0 1,0 -5.2,0M113.5,193.1a2.6,2.6 0 1,0 5.2,0a2.6,2.6 0 1,0 -5.2,0M115.1,206.5a2.6,2.6 0 1,0 5.2,0a2.6,2.6 0 1,0 -5.2,0M127.3,209.0a2.6,2.6 0 1,0 5.2,0a2.6,2.6 0 1,0 -5.2,0M114.3,195.3a2.6,2.6 0 1,0 5.2,0a2.6,2.6 0 1,0 -5.2,0M127.6,228.6a2.6,2.6 0 1,0 5.2,0a2.6,2.6 0 1,0 -5.2,0M117.0,234.6a2.6,2.6 0 1,0 5.2,0a2.6,2.6 0 1,0 -5.2,0M108.6,194.1a2.6,2.6 0 1,0 5.2,0a2.6,2.6 0 1,0 -5.2,0M103.1,184.8a2.6,2.6 0 1,0 5.2,0a2.6,2.6 0 1,0 -5.2,0M110.1,206.2a2.6,2.6 0 1,0 5.2,0a2.6,2.6 0 1,0 -5.2,0M111.6,223.8a2.6,2.6 0 1,0 5.2,0a2.6,2.6 0 1,0 -5.2,0M130.7,207.8a2.6,2.6 0 1,0 5.2,0a2.6,2.6 0 1,0 -5.2,0M106.8,219.8a2.6,2.6 0 1,0 5.2,0a2.6,2.6 0 1,0 -5.2,0M123.5,233.2a2.6,2.6 0 1,0 5.2,0a2.6,2.6 0 1,0 -5.2,0M124.7,231.8a2.6,2.6 0 1,0 5.2,0a2.6,2.6 0 1,0 -5.2,0M123.1,233.7a2.6,2.6 0 1,0 5.2,0a2.6,2.6 0 1,0 -5.2,0M124.1,234.1a2.6,2.6 0 1,0 5.2,0a2.6,2.6 0 1,0 -5.2,0M125.0,221.1a2.6,2.6 0 1,0 5.2,0a2.6,2.6 0 1,0 -5.2,0M133.0,216.6a2.6,2.6 0 1,0 5.2,0a2.6,2.6 0 1,0 -5.2,0M123.1,217.8a2.6,2.6 0 1,0 5.2,0a2.6,2.6 0 1,0 -5.2,0M121.4,231.6a2.6,2.6 0 1,0 5.2,0a2.6,2.6 0 1,0 -5.2,0M106.2,212.4a2.6,2.6 0 1,0 5.2,0a2.6,2.6 0 1,0 -5.2,0M98.4,192.3a2.6,2.6 0 1,0 5.2,0a2.6,2.6 0 1,0 -5.2,0M113.8,228.3a2.6,2.6 0 1,0 5.2,0a2.6,2.6 0 1,0 -5.2,0M111.4,184.0a2.6,2.6 0 1,0 5.2,0a2.6,2.6 0 1,0 -5.2,0M121.3,190.5a2.6,2.6 0 1,0 5.2,0a2.6,2.6 0 1,0 -5.2,0M114.2,200.6a2.6,2.6 0 1,0 5.2,0a2.6,2.6 0 1,0 -5.2,0M129.8,222.0a2.6,2.6 0 1,0 5.2,0a2.6,2.6 0 1,0 -5.2,0M120.7,231.0a2.6,2.6 0 1,0 5.2,0a2.6,2.6 0 1,0 -5.2,0M120.5,193.1a2.6,2.6 0 1,0 5.2,0a2.6,2.6 0 1,0 -5.2,0M110.6,221.6a2.6,2.6 0 1,0 5.2,0a2.6,2.6 0 1,0 -5.2,0M108.1,218.1a2.6,2.6 0 1,0 5.2,0a2.6,2.6 0 1,0 -5.2,0M134.1,213.1a2.6,2.6 0 1,0 5.2,0a2.6,2.6 0 1,0 -5.2,0M132.2,220.7a2.6,2.6 0 1,0 5.2,0a2.6,2.6 0 1,0 -5.2,0M120.3,230.2a2.6,2.6 0 1,0 5.2,0a2.6,2.6 0 1,0 -5.2,0M97.2,193.0a2.6,2.6 0 1,0 5.2,0a2.6,2.6 0 1,0 -5.2,0M123.8,216.3a2.6,2.6 0 1,0 5.2,0a2.6,2.6 0 1,0 -5.2,0M134.2,217.2a2.6,2.6 0 1,0 5.2,0a2.6,2.6 0 1,0 -5.2,0M119.0,229.4a2.6,2.6 0 1,0 5.2,0a2.6,2.6 0 1,0 -5.2,0M121.4,236.0a2.6,2.6 0 1,0 5.2,0a2.6,2.6 0 1,0 -5.2,0M113.0,215.0a2.6,2.6 0 1,0 5.2,0a2.6,2.6 0 1,0 -5.2,0M134.9,201.7a2.6,2.6 0 1,0 5.2,0a2.6,2.6 0 1,0 -5.2,0M124.0,220.6a2.6,2.6 0 1,0 5.2,0a2.6,2.6 0 1,0 -5.2,0M112.9,208.1a2.6,2.6 0 1,0 5.2,0a2.6,2.6 0 1,0 -5.2,0M130.8,217.8a2.6,2.6 0 1,0 5.2,0a2.6,2.6 0 1,0 -5.2,0M118.0,229.7a2.6,2.6 0 1,0 5.2,0a2.6,2.6 0 1,0 -5.2,0M126.0,232.7a2.6,2.6 0 1,0 5.2,0a2.6,2.6 0 1,0 -5.2,0M119.6,235.4a2.6,2.6 0 1,0 5.2,0a2.6,2.6 0 1,0 -5.2,0M122.5,207.8a2.6,2.6 0 1,0 5.2,0a2.6,2.6 0 1,0 -5.2,0M136.0,197.1a2.6,2.6 0 1,0 5.2,0a2.6,2.6 0 1,0 -5.2,0M114.4,212.6a2.6,2.6 0 1,0 5.2,0a2.6,2.6 0 1,0 -5.2,0M129.5,230.0a2.6,2.6 0 1,0 5.2,0a2.6,2.6 0 1,0 -5.2,0M121.9,195.1a2.6,2.6 0 1,0 5.2,0a2.6,2.6 0 1,0 -5.2,0M125.4,231.4a2.6,2.6 0 1,0 5.2,0a2.6,2.6 0 1,0 -5.2,0M110.6,226.4a2.6,2.6 0 1,0 5.2,0a2.6,2.6 0 1,0 -5.2,0M130.7,190.7a2.6,2.6 0 1,0 5.2,0a2.6,2.6 0 1,0 -5.2,0M115.1,223.0a2.6,2.6 0 1,0 5.2,0a2.6,2.6 0 1,0 -5.2,0M125.6,230.4a2.6,2.6 0 1,0 5.2,0a2.6,2.6 0 1,0 -5.2,0M120.8,234.0a2.6,2.6 0 1,0 5.2,0a2.6,2.6 0 1,0 -5.2,0M105.7,184.7a2.6,2.6 0 1,0 5.2,0a2.6,2.6 0 1,0 -5.2,0M130.1,230.5a2.6,2.6 0 1,0 5.2,0a2.6,2.6 0 1,0 -5.2,0M129.1,228.8a2.6,2.6 0 1,0 5.2,0a2.6,2.6 0 1,0 -5.2,0M132.0,196.2a2.6,2.6 0 1,0 5.2,0a2.6,2.6 0 1,0 -5.2,0M122.5,201.5a2.6,2.6 0 1,0 5.2,0a2.6,2.6 0 1,0 -5.2,0M124.8,234.8a2.6,2.6 0 1,0 5.2,0a2.6,2.6 0 1,0 -5.2,0M119.4,207.3a2.6,2.6 0 1,0 5.2,0a2.6,2.6 0 1,0 -5.2,0M114.2,201.0a2.6,2.6 0 1,0 5.2,0a2.6,2.6 0 1,0 -5.2,0M130.8,226.7a2.6,2.6 0 1,0 5.2,0a2.6,2.6 0 1,0 -5.2,0M111.8,215.5a2.6,2.6 0 1,0 5.2,0a2.6,2.6 0 1,0 -5.2,0M123.1,207.0a2.6,2.6 0 1,0 5.2,0a2.6,2.6 0 1,0 -5.2,0M127.3,218.8a2.6,2.6 0 1,0 5.2,0a2.6,2.6 0 1,0 -5.2,0M112.1,221.7a2.6,2.6 0 1,0 5.2,0a2.6,2.6 0 1,0 -5.2,0M130.2,223.4a2.6,2.6 0 1,0 5.2,0a2.6,2.6 0 1,0 -5.2,0M139.5,212.3a2.6,2.6 0 1,0 5.2,0a2.6,2.6 0 1,0 -5.2,0M119.6,232.6a2.6,2.6 0 1,0 5.2,0a2.6,2.6 0 1,0 -5.2,0M114.9,230.9a2.6,2.6 0 1,0 5.2,0a2.6,2.6 0 1,0 -5.2,0M118.9,234.1a2.6,2.6 0 1,0 5.2,0a2.6,2.6 0 1,0 -5.2,0M107.5,213.2a2.6,2.6 0 1,0 5.2,0a2.6,2.6 0 1,0 -5.2,0M110.7,227.1a2.6,2.6 0 1,0 5.2,0a2.6,2.6 0 1,0 -5.2,0M121.6,212.2a2.6,2.6 0 1,0 5.2,0a2.6,2.6 0 1,0 -5.2,0M102.3,200.0a2.6,2.6 0 1,0 5.2,0a2.6,2.6 0 1,0 -5.2,0M115.1,223.9a2.6,2.6 0 1,0 5.2,0a2.6,2.6 0 1,0 -5.2,0M122.9,234.4a2.6,2.6 0 1,0 5.2,0a2.6,2.6 0 1,0 -5.2,0M118.3,229.9a2.6,2.6 0 1,0 5.2,0a2.6,2.6 0 1,0 -5.2,0M103.5,200.6a2.6,2.6 0 1,0 5.2,0a2.6,2.6 0 1,0 -5.2,0M141.2,194.3a2.6,2.6 0 1,0 5.2,0a2.6,2.6 0 1,0 -5.2,0M111.1,228.7a2.6,2.6 0 1,0 5.2,0a2.6,2.6 0 1,0 -5.2,0M115.3,226.1a2.6,2.6 0 1,0 5.2,0a2.6,2.6 0 1,0 -5.2,0M126.0,231.9a2.6,2.6 0 1,0 5.2,0a2.6,2.6 0 1,0 -5.2,0M118.9,231.8a2.6,2.6 0 1,0 5.2,0a2.6,2.6 0 1,0 -5.2,0M124.7,212.4a2.6,2.6 0 1,0 5.2,0a2.6,2.6 0 1,0 -5.2,0M130.3,199.4a2.6,2.6 0 1,0 5.2,0a2.6,2.6 0 1,0 -5.2,0M106.7,205.8a2.6,2.6 0 1,0 5.2,0a2.6,2.6 0 1,0 -5.2,0M122.4,235.8a2.6,2.6 0 1,0 5.2,0a2.6,2.6 0 1,0 -5.2,0M116.7,234.7a2.6,2.6 0 1,0 5.2,0a2.6,2.6 0 1,0 -5.2,0M137.4,203.4a2.6,2.6 0 1,0 5.2,0a2.6,2.6 0 1,0 -5.2,0M127.2,226.7a2.6,2.6 0 1,0 5.2,0a2.6,2.6 0 1,0 -5.2,0M125.5,232.0a2.6,2.6 0 1,0 5.2,0a2.6,2.6 0 1,0 -5.2,0M128.0,205.0a2.6,2.6 0 1,0 5.2,0a2.6,2.6 0 1,0 -5.2,0M122.9,203.7a2.6,2.6 0 1,0 5.2,0a2.6,2.6 0 1,0 -5.2,0M119.4,229.5a2.6,2.6 0 1,0 5.2,0a2.6,2.6 0 1,0 -5.2,0M109.6,203.7a2.6,2.6 0 1,0 5.2,0a2.6,2.6 0 1,0 -5.2,0M113.5,227.4a2.6,2.6 0 1,0 5.2,0a2.6,2.6 0 1,0 -5.2,0M140.3,207.9a2.6,2.6 0 1,0 5.2,0a2.6,2.6 0 1,0 -5.2,0M116.3,201.8a2.6,2.6 0 1,0 5.2,0a2.6,2.6 0 1,0 -5.2,0M126.9,209.2a2.6,2.6 0 1,0 5.2,0a2.6,2.6 0 1,0 -5.2,0M139.4,185.7a2.6,2.6 0 1,0 5.2,0a2.6,2.6 0 1,0 -5.2,0M115.4,232.1a2.6,2.6 0 1,0 5.2,0a2.6,2.6 0 1,0 -5.2,0M116.5,232.0a2.6,2.6 0 1,0 5.2,0a2.6,2.6 0 1,0 -5.2,0M128.1,214.1a2.6,2.6 0 1,0 5.2,0a2.6,2.6 0 1,0 -5.2,0M114.7,225.5a2.6,2.6 0 1,0 5.2,0a2.6,2.6 0 1,0 -5.2,0M117.5,231.8a2.6,2.6 0 1,0 5.2,0a2.6,2.6 0 1,0 -5.2,0M133.3,209.5a2.6,2.6 0 1,0 5.2,0a2.6,2.6 0 1,0 -5.2,0M122.4,226.4a2.6,2.6 0 1,0 5.2,0a2.6,2.6 0 1,0 -5.2,0M126.2,228.1a2.6,2.6 0 1,0 5.2,0a2.6,2.6 0 1,0 -5.2,0M110.9,227.9a2.6,2.6 0 1,0 5.2,0a2.6,2.6 0 1,0 -5.2,0M117.0,226.2a2.6,2.6 0 1,0 5.2,0a2.6,2.6 0 1,0 -5.2,0M138.1,188.4a2.6,2.6 0 1,0 5.2,0a2.6,2.6 0 1,0 -5.2,0M117.4,230.6a2.6,2.6 0 1,0 5.2,0a2.6,2.6 0 1,0 -5.2,0M125.2,229.7a2.6,2.6 0 1,0 5.2,0a2.6,2.6 0 1,0 -5.2,0M103.2,205.0a2.6,2.6 0 1,0 5.2,0a2.6,2.6 0 1,0 -5.2,0M126.1,205.6a2.6,2.6 0 1,0 5.2,0a2.6,2.6 0 1,0 -5.2,0M105.2,213.2a2.6,2.6 0 1,0 5.2,0a2.6,2.6 0 1,0 -5.2,0M107.0,218.8a2.6,2.6 0 1,0 5.2,0a2.6,2.6 0 1,0 -5.2,0M116.9,222.7a2.6,2.6 0 1,0 5.2,0a2.6,2.6 0 1,0 -5.2,0M118.8,220.7a2.6,2.6 0 1,0 5.2,0a2.6,2.6 0 1,0 -5.2,0M126.5,222.6a2.6,2.6 0 1,0 5.2,0a2.6,2.6 0 1,0 -5.2,0M124.1,228.0a2.6,2.6 0 1,0 5.2,0a2.6,2.6 0 1,0 -5.2,0M127.0,221.4a2.6,2.6 0 1,0 5.2,0a2.6,2.6 0 1,0 -5.2,0M119.7,230.4a2.6,2.6 0 1,0 5.2,0a2.6,2.6 0 1,0 -5.2,0M95.2,189.7a2.6,2.6 0 1,0 5.2,0a2.6,2.6 0 1,0 -5.2,0M124.4,233.4a2.6,2.6 0 1,0 5.2,0a2.6,2.6 0 1,0 -5.2,0M121.6,235.2a2.6,2.6 0 1,0 5.2,0a2.6,2.6 0 1,0 -5.2,0M125.8,226.4a2.6,2.6 0 1,0 5.2,0a2.6,2.6 0 1,0 -5.2,0M119.0,232.1a2.6,2.6 0 1,0 5.2,0a2.6,2.6 0 1,0 -5.2,0M106.1,199.2a2.6,2.6 0 1,0 5.2,0a2.6,2.6 0 1,0 -5.2,0M109.1,224.5a2.6,2.6 0 1,0 5.2,0a2.6,2.6 0 1,0 -5.2,0M122.2,233.8a2.6,2.6 0 1,0 5.2,0a2.6,2.6 0 1,0 -5.2,0M115.6,230.4a2.6,2.6 0 1,0 5.2,0a2.6,2.6 0 1,0 -5.2,0M97.3,195.4a2.6,2.6 0 1,0 5.2,0a2.6,2.6 0 1,0 -5.2,0M117.4,229.7a2.6,2.6 0 1,0 5.2,0a2.6,2.6 0 1,0 -5.2,0M112.2,223.5a2.6,2.6 0 1,0 5.2,0a2.6,2.6 0 1,0 -5.2,0M121.5,229.8a2.6,2.6 0 1,0 5.2,0a2.6,2.6 0 1,0 -5.2,0M131.0,210.2a2.6,2.6 0 1,0 5.2,0a2.6,2.6 0 1,0 -5.2,0M103.6,213.5a2.6,2.6 0 1,0 5.2,0a2.6,2.6 0 1,0 -5.2,0M120.5,233.8a2.6,2.6 0 1,0 5.2,0a2.6,2.6 0 1,0 -5.2,0M135.4,183.6a2.6,2.6 0 1,0 5.2,0a2.6,2.6 0 1,0 -5.2,0M122.0,235.2a2.6,2.6 0 1,0 5.2,0a2.6,2.6 0 1,0 -5.2,0M115.6,233.4a2.6,2.6 0 1,0 5.2,0a2.6,2.6 0 1,0 -5.2,0M118.8,235.2a2.6,2.6 0 1,0 5.2,0a2.6,2.6 0 1,0 -5.2,0M107.2,198.6a2.6,2.6 0 1,0 5.2,0a2.6,2.6 0 1,0 -5.2,0M115.9,232.8a2.6,2.6 0 1,0 5.2,0a2.6,2.6 0 1,0 -5.2,0M115.8,233.2a2.6,2.6 0 1,0 5.2,0a2.6,2.6 0 1,0 -5.2,0M135.4,204.5a2.6,2.6 0 1,0 5.2,0a2.6,2.6 0 1,0 -5.2,0M116.7,234.0a2.6,2.6 0 1,0 5.2,0a2.6,2.6 0 1,0 -5.2,0M117.5,229.4a2.6,2.6 0 1,0 5.2,0a2.6,2.6 0 1,0 -5.2,0M105.4,209.2a2.6,2.6 0 1,0 5.2,0a2.6,2.6 0 1,0 -5.2,0M124.2,231.7a2.6,2.6 0 1,0 5.2,0a2.6,2.6 0 1,0 -5.2,0M132.0,202.7a2.6,2.6 0 1,0 5.2,0a2.6,2.6 0 1,0 -5.2,0M109.8,206.2a2.6,2.6 0 1,0 5.2,0a2.6,2.6 0 1,0 -5.2,0M108.0,189.2a2.6,2.6 0 1,0 5.2,0a2.6,2.6 0 1,0 -5.2,0M119.3,234.8a2.6,2.6 0 1,0 5.2,0a2.6,2.6 0 1,0 -5.2,0M126.7,229.8a2.6,2.6 0 1,0 5.2,0a2.6,2.6 0 1,0 -5.2,0M128.9,214.2a2.6,2.6 0 1,0 5.2,0a2.6,2.6 0 1,0 -5.2,0M131.1,198.5a2.6,2.6 0 1,0 5.2,0a2.6,2.6 0 1,0 -5.2,0M124.9,235.0a2.6,2.6 0 1,0 5.2,0a2.6,2.6 0 1,0 -5.2,0M133.1,209.9a2.6,2.6 0 1,0 5.2,0a2.6,2.6 0 1,0 -5.2,0M117.2,192.1a2.6,2.6 0 1,0 5.2,0a2.6,2.6 0 1,0 -5.2,0M136.3,211.8a2.6,2.6 0 1,0 5.2,0a2.6,2.6 0 1,0 -5.2,0M111.6,226.7a2.6,2.6 0 1,0 5.2,0a2.6,2.6 0 1,0 -5.2,0M122.3,228.7a2.6,2.6 0 1,0 5.2,0a2.6,2.6 0 1,0 -5.2,0M121.8,234.4a2.6,2.6 0 1,0 5.2,0a2.6,2.6 0 1,0 -5.2,0M113.1,224.9a2.6,2.6 0 1,0 5.2,0a2.6,2.6 0 1,0 -5.2,0M128.6,231.0a2.6,2.6 0 1,0 5.2,0a2.6,2.6 0 1,0 -5.2,0M124.5,235.2a2.6,2.6 0 1,0 5.2,0a2.6,2.6 0 1,0 -5.2,0M124.9,231.0a2.6,2.6 0 1,0 5.2,0a2.6,2.6 0 1,0 -5.2,0M121.0,214.9a2.6,2.6 0 1,0 5.2,0a2.6,2.6 0 1,0 -5.2,0M106.8,221.1a2.6,2.6 0 1,0 5.2,0a2.6,2.6 0 1,0 -5.2,0M120.5,232.6a2.6,2.6 0 1,0 5.2,0a2.6,2.6 0 1,0 -5.2,0M129.6,216.6a2.6,2.6 0 1,0 5.2,0a2.6,2.6 0 1,0 -5.2,0M118.9,234.1a2.6,2.6 0 1,0 5.2,0a2.6,2.6 0 1,0 -5.2,0M122.1,234.6a2.6,2.6 0 1,0 5.2,0a2.6,2.6 0 1,0 -5.2,0M118.3,215.7a2.6,2.6 0 1,0 5.2,0a2.6,2.6 0 1,0 -5.2,0M123.9,231.0a2.6,2.6 0 1,0 5.2,0a2.6,2.6 0 1,0 -5.2,0M123.9,227.6a2.6,2.6 0 1,0 5.2,0a2.6,2.6 0 1,0 -5.2,0M123.0,235.2a2.6,2.6 0 1,0 5.2,0a2.6,2.6 0 1,0 -5.2,0M102.6,212.5a2.6,2.6 0 1,0 5.2,0a2.6,2.6 0 1,0 -5.2,0M137.2,200.5a2.6,2.6 0 1,0 5.2,0a2.6,2.6 0 1,0 -5.2,0M114.9,227.3a2.6,2.6 0 1,0 5.2,0a2.6,2.6 0 1,0 -5.2,0M105.8,205.7a2.6,2.6 0 1,0 5.2,0a2.6,2.6 0 1,0 -5.2,0M125.8,229.9a2.6,2.6 0 1,0 5.2,0a2.6,2.6 0 1,0 -5.2,0M112.5,221.9a2.6,2.6 0 1,0 5.2,0a2.6,2.6 0 1,0 -5.2,0M144.3,192.6a2.6,2.6 0 1,0 5.2,0a2.6,2.6 0 1,0 -5.2,0M132.5,225.8a2.6,2.6 0 1,0 5.2,0a2.6,2.6 0 1,0 -5.2,0M124.9,224.8a2.6,2.6 0 1,0 5.2,0a2.6,2.6 0 1,0 -5.2,0M109.9,224.1a2.6,2.6 0 1,0 5.2,0a2.6,2.6 0 1,0 -5.2,0M109.8,217.1a2.6,2.6 0 1,0 5.2,0a2.6,2.6 0 1,0 -5.2,0M127.5,227.0a2.6,2.6 0 1,0 5.2,0a2.6,2.6 0 1,0 -5.2,0M132.0,228.2a2.6,2.6 0 1,0 5.2,0a2.6,2.6 0 1,0 -5.2,0M115.7,226.2a2.6,2.6 0 1,0 5.2,0a2.6,2.6 0 1,0 -5.2,0M120.7,232.6a2.6,2.6 0 1,0 5.2,0a2.6,2.6 0 1,0 -5.2,0M123.4,228.1a2.6,2.6 0 1,0 5.2,0a2.6,2.6 0 1,0 -5.2,0M121.8,233.7a2.6,2.6 0 1,0 5.2,0a2.6,2.6 0 1,0 -5.2,0M130.7,211.2a2.6,2.6 0 1,0 5.2,0a2.6,2.6 0 1,0 -5.2,0M124.8,187.8a2.6,2.6 0 1,0 5.2,0a2.6,2.6 0 1,0 -5.2,0M117.0,200.9a2.6,2.6 0 1,0 5.2,0a2.6,2.6 0 1,0 -5.2,0M131.3,217.5a2.6,2.6 0 1,0 5.2,0a2.6,2.6 0 1,0 -5.2,0M98.9,197.2a2.6,2.6 0 1,0 5.2,0a2.6,2.6 0 1,0 -5.2,0M128.3,200.6a2.6,2.6 0 1,0 5.2,0a2.6,2.6 0 1,0 -5.2,0M112.4,227.6a2.6,2.6 0 1,0 5.2,0a2.6,2.6 0 1,0 -5.2,0M115.9,231.6a2.6,2.6 0 1,0 5.2,0a2.6,2.6 0 1,0 -5.2,0M124.9,231.8a2.6,2.6 0 1,0 5.2,0a2.6,2.6 0 1,0 -5.2,0M104.6,208.0a2.6,2.6 0 1,0 5.2,0a2.6,2.6 0 1,0 -5.2,0M128.2,226.3a2.6,2.6 0 1,0 5.2,0a2.6,2.6 0 1,0 -5.2,0M128.0,231.5a2.6,2.6 0 1,0 5.2,0a2.6,2.6 0 1,0 -5.2,0M116.9,190.7a2.6,2.6 0 1,0 5.2,0a2.6,2.6 0 1,0 -5.2,0M127.5,223.8a2.6,2.6 0 1,0 5.2,0a2.6,2.6 0 1,0 -5.2,0M108.3,198.6a2.6,2.6 0 1,0 5.2,0a2.6,2.6 0 1,0 -5.2,0M117.2,189.5a2.6,2.6 0 1,0 5.2,0a2.6,2.6 0 1,0 -5.2,0M139.6,207.8a2.6,2.6 0 1,0 5.2,0a2.6,2.6 0 1,0 -5.2,0M114.8,212.7a2.6,2.6 0 1,0 5.2,0a2.6,2.6 0 1,0 -5.2,0M103.1,196.3a2.6,2.6 0 1,0 5.2,0a2.6,2.6 0 1,0 -5.2,0M100.5,193.0a2.6,2.6 0 1,0 5.2,0a2.6,2.6 0 1,0 -5.2,0M126.3,204.7a2.6,2.6 0 1,0 5.2,0a2.6,2.6 0 1,0 -5.2,0M116.7,214.8a2.6,2.6 0 1,0 5.2,0a2.6,2.6 0 1,0 -5.2,0M117.0,225.4a2.6,2.6 0 1,0 5.2,0a2.6,2.6 0 1,0 -5.2,0M103.4,205.5a2.6,2.6 0 1,0 5.2,0a2.6,2.6 0 1,0 -5.2,0M119.0,233.9a2.6,2.6 0 1,0 5.2,0a2.6,2.6 0 1,0 -5.2,0M113.5,231.7a2.6,2.6 0 1,0 5.2,0a2.6,2.6 0 1,0 -5.2,0M128.2,202.6a2.6,2.6 0 1,0 5.2,0a2.6,2.6 0 1,0 -5.2,0M119.8,228.6a2.6,2.6 0 1,0 5.2,0a2.6,2.6 0 1,0 -5.2,0M103.8,195.7a2.6,2.6 0 1,0 5.2,0a2.6,2.6 0 1,0 -5.2,0M108.9,204.9a2.6,2.6 0 1,0 5.2,0a2.6,2.6 0 1,0 -5.2,0M124.9,220.6a2.6,2.6 0 1,0 5.2,0a2.6,2.6 0 1,0 -5.2,0M120.7,236.0a2.6,2.6 0 1,0 5.2,0a2.6,2.6 0 1,0 -5.2,0M137.1,202.0a2.6,2.6 0 1,0 5.2,0a2.6,2.6 0 1,0 -5.2,0M131.4,214.6a2.6,2.6 0 1,0 5.2,0a2.6,2.6 0 1,0 -5.2,0M112.4,222.9a2.6,2.6 0 1,0 5.2,0a2.6,2.6 0 1,0 -5.2,0M112.6,225.3a2.6,2.6 0 1,0 5.2,0a2.6,2.6 0 1,0 -5.2,0M128.5,192.3a2.6,2.6 0 1,0 5.2,0a2.6,2.6 0 1,0 -5.2,0M110.6,221.4a2.6,2.6 0 1,0 5.2,0a2.6,2.6 0 1,0 -5.2,0M128.2,218.8a2.6,2.6 0 1,0 5.2,0a2.6,2.6 0 1,0 -5.2,0M127.8,224.2a2.6,2.6 0 1,0 5.2,0a2.6,2.6 0 1,0 -5.2,0M123.9,235.3a2.6,2.6 0 1,0 5.2,0a2.6,2.6 0 1,0 -5.2,0M126.1,230.4a2.6,2.6 0 1,0 5.2,0a2.6,2.6 0 1,0 -5.2,0M127.4,230.7a2.6,2.6 0 1,0 5.2,0a2.6,2.6 0 1,0 -5.2,0M121.8,234.1a2.6,2.6 0 1,0 5.2,0a2.6,2.6 0 1,0 -5.2,0M120.3,234.9a2.6,2.6 0 1,0 5.2,0a2.6,2.6 0 1,0 -5.2,0M120.7,209.7a2.6,2.6 0 1,0 5.2,0a2.6,2.6 0 1,0 -5.2,0M129.1,228.0a2.6,2.6 0 1,0 5.2,0a2.6,2.6 0 1,0 -5.2,0M112.1,223.5a2.6,2.6 0 1,0 5.2,0a2.6,2.6 0 1,0 -5.2,0M130.8,219.6a2.6,2.6 0 1,0 5.2,0a2.6,2.6 0 1,0 -5.2,0M127.3,225.1a2.6,2.6 0 1,0 5.2,0a2.6,2.6 0 1,0 -5.2,0M136.6,203.8a2.6,2.6 0 1,0 5.2,0a2.6,2.6 0 1,0 -5.2,0M128.7,231.8a2.6,2.6 0 1,0 5.2,0a2.6,2.6 0 1,0 -5.2,0M132.3,210.6a2.6,2.6 0 1,0 5.2,0a2.6,2.6 0 1,0 -5.2,0M124.6,223.4a2.6,2.6 0 1,0 5.2,0a2.6,2.6 0 1,0 -5.2,0M116.8,194.7a2.6,2.6 0 1,0 5.2,0a2.6,2.6 0 1,0 -5.2,0M124.4,234.7a2.6,2.6 0 1,0 5.2,0a2.6,2.6 0 1,0 -5.2,0M139.7,189.9a2.6,2.6 0 1,0 5.2,0a2.6,2.6 0 1,0 -5.2,0M127.8,203.5a2.6,2.6 0 1,0 5.2,0a2.6,2.6 0 1,0 -5.2,0M120.1,235.5a2.6,2.6 0 1,0 5.2,0a2.6,2.6 0 1,0 -5.2,0M115.3,217.5a2.6,2.6 0 1,0 5.2,0a2.6,2.6 0 1,0 -5.2,0M119.4,233.7a2.6,2.6 0 1,0 5.2,0a2.6,2.6 0 1,0 -5.2,0M128.1,229.0a2.6,2.6 0 1,0 5.2,0a2.6,2.6 0 1,0 -5.2,0M144.7,192.8a2.6,2.6 0 1,0 5.2,0a2.6,2.6 0 1,0 -5.2,0M123.7,209.2a2.6,2.6 0 1,0 5.2,0a2.6,2.6 0 1,0 -5.2,0M114.8,232.4a2.6,2.6 0 1,0 5.2,0a2.6,2.6 0 1,0 -5.2,0M111.7,205.1a2.6,2.6 0 1,0 5.2,0a2.6,2.6 0 1,0 -5.2,0M108.9,214.3a2.6,2.6 0 1,0 5.2,0a2.6,2.6 0 1,0 -5.2,0M136.0,215.3a2.6,2.6 0 1,0 5.2,0a2.6,2.6 0 1,0 -5.2,0M143.0,204.3a2.6,2.6 0 1,0 5.2,0a2.6,2.6 0 1,0 -5.2,0M124.3,229.2a2.6,2.6 0 1,0 5.2,0a2.6,2.6 0 1,0 -5.2,0M133.2,194.0a2.6,2.6 0 1,0 5.2,0a2.6,2.6 0 1,0 -5.2,0M121.4,230.6a2.6,2.6 0 1,0 5.2,0a2.6,2.6 0 1,0 -5.2,0M116.4,222.3a2.6,2.6 0 1,0 5.2,0a2.6,2.6 0 1,0 -5.2,0M126.7,217.1a2.6,2.6 0 1,0 5.2,0a2.6,2.6 0 1,0 -5.2,0M107.8,207.9a2.6,2.6 0 1,0 5.2,0a2.6,2.6 0 1,0 -5.2,0M130.1,213.9a2.6,2.6 0 1,0 5.2,0a2.6,2.6 0 1,0 -5.2,0M121.6,235.6a2.6,2.6 0 1,0 5.2,0a2.6,2.6 0 1,0 -5.2,0M116.9,221.4a2.6,2.6 0 1,0 5.2,0a2.6,2.6 0 1,0 -5.2,0M132.2,220.5a2.6,2.6 0 1,0 5.2,0a2.6,2.6 0 1,0 -5.2,0M119.3,235.7a2.6,2.6 0 1,0 5.2,0a2.6,2.6 0 1,0 -5.2,0M124.5,232.6a2.6,2.6 0 1,0 5.2,0a2.6,2.6 0 1,0 -5.2,0M121.0,236.0a2.6,2.6 0 1,0 5.2,0a2.6,2.6 0 1,0 -5.2,0M118.2,234.7a2.6,2.6 0 1,0 5.2,0a2.6,2.6 0 1,0 -5.2,0M110.1,224.6a2.6,2.6 0 1,0 5.2,0a2.6,2.6 0 1,0 -5.2,0M121.5,202.5a2.6,2.6 0 1,0 5.2,0a2.6,2.6 0 1,0 -5.2,0M124.2,222.9a2.6,2.6 0 1,0 5.2,0a2.6,2.6 0 1,0 -5.2,0M127.3,206.2a2.6,2.6 0 1,0 5.2,0a2.6,2.6 0 1,0 -5.2,0M121.4,230.1a2.6,2.6 0 1,0 5.2,0a2.6,2.6 0 1,0 -5.2,0M111.2,214.2a2.6,2.6 0 1,0 5.2,0a2.6,2.6 0 1,0 -5.2,0M119.8,231.1a2.6,2.6 0 1,0 5.2,0a2.6,2.6 0 1,0 -5.2,0M132.9,213.8a2.6,2.6 0 1,0 5.2,0a2.6,2.6 0 1,0 -5.2,0M134.9,221.6a2.6,2.6 0 1,0 5.2,0a2.6,2.6 0 1,0 -5.2,0M136.0,200.6a2.6,2.6 0 1,0 5.2,0a2.6,2.6 0 1,0 -5.2,0M122.8,234.7a2.6,2.6 0 1,0 5.2,0a2.6,2.6 0 1,0 -5.2,0M127.0,224.1a2.6,2.6 0 1,0 5.2,0a2.6,2.6 0 1,0 -5.2,0M128.8,207.6a2.6,2.6 0 1,0 5.2,0a2.6,2.6 0 1,0 -5.2,0M119.2,217.4a2.6,2.6 0 1,0 5.2,0a2.6,2.6 0 1,0 -5.2,0M123.6,228.8a2.6,2.6 0 1,0 5.2,0a2.6,2.6 0 1,0 -5.2,0M124.2,229.3a2.6,2.6 0 1,0 5.2,0a2.6,2.6 0 1,0 -5.2,0M126.3,230.7a2.6,2.6 0 1,0 5.2,0a2.6,2.6 0 1,0 -5.2,0M108.5,201.0a2.6,2.6 0 1,0 5.2,0a2.6,2.6 0 1,0 -5.2,0M131.9,195.5a2.6,2.6 0 1,0 5.2,0a2.6,2.6 0 1,0 -5.2,0M130.9,223.3a2.6,2.6 0 1,0 5.2,0a2.6,2.6 0 1,0 -5.2,0M129.7,217.9a2.6,2.6 0 1,0 5.2,0a2.6,2.6 0 1,0 -5.2,0M133.7,219.9a2.6,2.6 0 1,0 5.2,0a2.6,2.6 0 1,0 -5.2,0M99.1,192.6a2.6,2.6 0 1,0 5.2,0a2.6,2.6 0 1,0 -5.2,0M118.9,203.7a2.6,2.6 0 1,0 5.2,0a2.6,2.6 0 1,0 -5.2,0M117.4,228.0a2.6,2.6 0 1,0 5.2,0a2.6,2.6 0 1,0 -5.2,0M137.6,207.0a2.6,2.6 0 1,0 5.2,0a2.6,2.6 0 1,0 -5.2,0M110.1,228.2a2.6,2.6 0 1,0 5.2,0a2.6,2.6 0 1,0 -5.2,0M124.5,234.6a2.6,2.6 0 1,0 5.2,0a2.6,2.6 0 1,0 -5.2,0M107.1,191.7a2.6,2.6 0 1,0 5.2,0a2.6,2.6 0 1,0 -5.2,0M130.9,215.2a2.6,2.6 0 1,0 5.2,0a2.6,2.6 0 1,0 -5.2,0M122.7,233.7a2.6,2.6 0 1,0 5.2,0a2.6,2.6 0 1,0 -5.2,0M137.3,197.3a2.6,2.6 0 1,0 5.2,0a2.6,2.6 0 1,0 -5.2,0M138.8,194.2a2.6,2.6 0 1,0 5.2,0a2.6,2.6 0 1,0 -5.2,0M119.8,235.6a2.6,2.6 0 1,0 5.2,0a2.6,2.6 0 1,0 -5.2,0M117.9,233.2a2.6,2.6 0 1,0 5.2,0a2.6,2.6 0 1,0 -5.2,0M122.5,218.2a2.6,2.6 0 1,0 5.2,0a2.6,2.6 0 1,0 -5.2,0M107.3,221.8a2.6,2.6 0 1,0 5.2,0a2.6,2.6 0 1,0 -5.2,0M110.9,197.1a2.6,2.6 0 1,0 5.2,0a2.6,2.6 0 1,0 -5.2,0M114.2,192.5a2.6,2.6 0 1,0 5.2,0a2.6,2.6 0 1,0 -5.2,0M126.4,234.0a2.6,2.6 0 1,0 5.2,0a2.6,2.6 0 1,0 -5.2,0M120.5,222.5a2.6,2.6 0 1,0 5.2,0a2.6,2.6 0 1,0 -5.2,0M131.4,213.1a2.6,2.6 0 1,0 5.2,0a2.6,2.6 0 1,0 -5.2,0M106.1,208.1a2.6,2.6 0 1,0 5.2,0a2.6,2.6 0 1,0 -5.2,0M123.7,231.9a2.6,2.6 0 1,0 5.2,0a2.6,2.6 0 1,0 -5.2,0M126.7,202.3a2.6,2.6 0 1,0 5.2,0a2.6,2.6 0 1,0 -5.2,0M113.2,204.1a2.6,2.6 0 1,0 5.2,0a2.6,2.6 0 1,0 -5.2,0M121.5,221.9a2.6,2.6 0 1,0 5.2,0a2.6,2.6 0 1,0 -5.2,0M120.6,197.1a2.6,2.6 0 1,0 5.2,0a2.6,2.6 0 1,0 -5.2,0M134.6,219.5a2.6,2.6 0 1,0 5.2,0a2.6,2.6 0 1,0 -5.2,0M118.5,228.6a2.6,2.6 0 1,0 5.2,0a2.6,2.6 0 1,0 -5.2,0M126.2,200.8a2.6,2.6 0 1,0 5.2,0a2.6,2.6 0 1,0 -5.2,0M134.0,214.9a2.6,2.6 0 1,0 5.2,0a2.6,2.6 0 1,0 -5.2,0M108.2,220.5a2.6,2.6 0 1,0 5.2,0a2.6,2.6 0 1,0 -5.2,0M119.7,207.4a2.6,2.6 0 1,0 5.2,0a2.6,2.6 0 1,0 -5.2,0M107.4,193.7a2.6,2.6 0 1,0 5.2,0a2.6,2.6 0 1,0 -5.2,0M128.5,219.9a2.6,2.6 0 1,0 5.2,0a2.6,2.6 0 1,0 -5.2,0M119.7,234.2a2.6,2.6 0 1,0 5.2,0a2.6,2.6 0 1,0 -5.2,0M116.5,231.9a2.6,2.6 0 1,0 5.2,0a2.6,2.6 0 1,0 -5.2,0M118.4,234.9a2.6,2.6 0 1,0 5.2,0a2.6,2.6 0 1,0 -5.2,0M108.8,218.7a2.6,2.6 0 1,0 5.2,0a2.6,2.6 0 1,0 -5.2,0M120.9,235.1a2.6,2.6 0 1,0 5.2,0a2.6,2.6 0 1,0 -5.2,0M121.6,226.1a2.6,2.6 0 1,0 5.2,0a2.6,2.6 0 1,0 -5.2,0M123.0,218.9a2.6,2.6 0 1,0 5.2,0a2.6,2.6 0 1,0 -5.2,0M125.3,214.3a2.6,2.6 0 1,0 5.2,0a2.6,2.6 0 1,0 -5.2,0M122.3,214.5a2.6,2.6 0 1,0 5.2,0a2.6,2.6 0 1,0 -5.2,0M130.1,225.2a2.6,2.6 0 1,0 5.2,0a2.6,2.6 0 1,0 -5.2,0M112.4,195.1a2.6,2.6 0 1,0 5.2,0a2.6,2.6 0 1,0 -5.2,0M121.8,226.6a2.6,2.6 0 1,0 5.2,0a2.6,2.6 0 1,0 -5.2,0M118.8,215.9a2.6,2.6 0 1,0 5.2,0a2.6,2.6 0 1,0 -5.2,0M117.0,224.9a2.6,2.6 0 1,0 5.2,0a2.6,2.6 0 1,0 -5.2,0M123.5,234.3a2.6,2.6 0 1,0 5.2,0a2.6,2.6 0 1,0 -5.2,0M114.9,195.0a2.6,2.6 0 1,0 5.2,0a2.6,2.6 0 1,0 -5.2,0M109.2,210.4a2.6,2.6 0 1,0 5.2,0a2.6,2.6 0 1,0 -5.2,0M132.5,199.6a2.6,2.6 0 1,0 5.2,0a2.6,2.6 0 1,0 -5.2,0M110.9,222.6a2.6,2.6 0 1,0 5.2,0a2.6,2.6 0 1,0 -5.2,0M113.4,222.9a2.6,2.6 0 1,0 5.2,0a2.6,2.6 0 1,0 -5.2,0M120.6,236.0a2.6,2.6 0 1,0 5.2,0a2.6,2.6 0 1,0 -5.2,0M114.9,221.6a2.6,2.6 0 1,0 5.2,0a2.6,2.6 0 1,0 -5.2,0M106.4,209.9a2.6,2.6 0 1,0 5.2,0a2.6,2.6 0 1,0 -5.2,0M118.7,233.1a2.6,2.6 0 1,0 5.2,0a2.6,2.6 0 1,0 -5.2,0M139.9,202.3a2.6,2.6 0 1,0 5.2,0a2.6,2.6 0 1,0 -5.2,0M124.4,228.0a2.6,2.6 0 1,0 5.2,0a2.6,2.6 0 1,0 -5.2,0M143.5,184.6a2.6,2.6 0 1,0 5.2,0a2.6,2.6 0 1,0 -5.2,0M101.9,207.3a2.6,2.6 0 1,0 5.2,0a2.6,2.6 0 1,0 -5.2,0M125.9,231.4a2.6,2.6 0 1,0 5.2,0a2.6,2.6 0 1,0 -5.2,0M122.4,206.0a2.6,2.6 0 1,0 5.2,0a2.6,2.6 0 1,0 -5.2,0M107.2,196.1a2.6,2.6 0 1,0 5.2,0a2.6,2.6 0 1,0 -5.2,0M126.0,232.7a2.6,2.6 0 1,0 5.2,0a2.6,2.6 0 1,0 -5.2,0M120.4,231.6a2.6,2.6 0 1,0 5.2,0a2.6,2.6 0 1,0 -5.2,0M103.9,203.4a2.6,2.6 0 1,0 5.2,0a2.6,2.6 0 1,0 -5.2,0M122.9,191.7a2.6,2.6 0 1,0 5.2,0a2.6,2.6 0 1,0 -5.2,0M134.3,215.8a2.6,2.6 0 1,0 5.2,0a2.6,2.6 0 1,0 -5.2,0M117.1,215.5a2.6,2.6 0 1,0 5.2,0a2.6,2.6 0 1,0 -5.2,0M123.6,235.0a2.6,2.6 0 1,0 5.2,0a2.6,2.6 0 1,0 -5.2,0M110.4,228.0a2.6,2.6 0 1,0 5.2,0a2.6,2.6 0 1,0 -5.2,0M128.4,214.1a2.6,2.6 0 1,0 5.2,0a2.6,2.6 0 1,0 -5.2,0M111.0,219.6a2.6,2.6 0 1,0 5.2,0a2.6,2.6 0 1,0 -5.2,0M114.8,203.7a2.6,2.6 0 1,0 5.2,0a2.6,2.6 0 1,0 -5.2,0M122.0,235.5a2.6,2.6 0 1,0 5.2,0a2.6,2.6 0 1,0 -5.2,0M121.7,209.1a2.6,2.6 0 1,0 5.2,0a2.6,2.6 0 1,0 -5.2,0M123.1,232.6a2.6,2.6 0 1,0 5.2,0a2.6,2.6 0 1,0 -5.2,0M119.0,224.1a2.6,2.6 0 1,0 5.2,0a2.6,2.6 0 1,0 -5.2,0M117.9,233.5a2.6,2.6 0 1,0 5.2,0a2.6,2.6 0 1,0 -5.2,0M125.0,206.7a2.6,2.6 0 1,0 5.2,0a2.6,2.6 0 1,0 -5.2,0M127.2,211.3a2.6,2.6 0 1,0 5.2,0a2.6,2.6 0 1,0 -5.2,0M126.7,207.9a2.6,2.6 0 1,0 5.2,0a2.6,2.6 0 1,0 -5.2,0M115.0,230.6a2.6,2.6 0 1,0 5.2,0a2.6,2.6 0 1,0 -5.2,0M122.2,234.6a2.6,2.6 0 1,0 5.2,0a2.6,2.6 0 1,0 -5.2,0M120.1,230.6a2.6,2.6 0 1,0 5.2,0a2.6,2.6 0 1,0 -5.2,0M132.9,213.6a2.6,2.6 0 1,0 5.2,0a2.6,2.6 0 1,0 -5.2,0M124.0,230.7a2.6,2.6 0 1,0 5.2,0a2.6,2.6 0 1,0 -5.2,0M130.4,227.1a2.6,2.6 0 1,0 5.2,0a2.6,2.6 0 1,0 -5.2,0M130.9,217.5a2.6,2.6 0 1,0 5.2,0a2.6,2.6 0 1,0 -5.2,0M99.3,188.2a2.6,2.6 0 1,0 5.2,0a2.6,2.6 0 1,0 -5.2,0M130.3,195.5a2.6,2.6 0 1,0 5.2,0a2.6,2.6 0 1,0 -5.2,0M120.6,226.1a2.6,2.6 0 1,0 5.2,0a2.6,2.6 0 1,0 -5.2,0M116.3,190.4a2.6,2.6 0 1,0 5.2,0a2.6,2.6 0 1,0 -5.2,0M122.3,219.7a2.6,2.6 0 1,0 5.2,0a2.6,2.6 0 1,0 -5.2,0M121.2,229.9a2.6,2.6 0 1,0 5.2,0a2.6,2.6 0 1,0 -5.2,0M122.4,224.0a2.6,2.6 0 1,0 5.2,0a2.6,2.6 0 1,0 -5.2,0M128.6,222.0a2.6,2.6 0 1,0 5.2,0a2.6,2.6 0 1,0 -5.2,0M135.9,197.7a2.6,2.6 0 1,0 5.2,0a2.6,2.6 0 1,0 -5.2,0M124.2,194.8a2.6,2.6 0 1,0 5.2,0a2.6,2.6 0 1,0 -5.2,0M114.2,219.5a2.6,2.6 0 1,0 5.2,0a2.6,2.6 0 1,0 -5.2,0M117.4,211.8a2.6,2.6 0 1,0 5.2,0a2.6,2.6 0 1,0 -5.2,0M113.7,191.2a2.6,2.6 0 1,0 5.2,0a2.6,2.6 0 1,0 -5.2,0M109.7,202.3a2.6,2.6 0 1,0 5.2,0a2.6,2.6 0 1,0 -5.2,0M116.3,214.2a2.6,2.6 0 1,0 5.2,0a2.6,2.6 0 1,0 -5.2,0M115.0,229.7a2.6,2.6 0 1,0 5.2,0a2.6,2.6 0 1,0 -5.2,0M129.0,224.1a2.6,2.6 0 1,0 5.2,0a2.6,2.6 0 1,0 -5.2,0M126.1,215.4a2.6,2.6 0 1,0 5.2,0a2.6,2.6 0 1,0 -5.2,0M120.3,188.5a2.6,2.6 0 1,0 5.2,0a2.6,2.6 0 1,0 -5.2,0M127.3,231.6a2.6,2.6 0 1,0 5.2,0a2.6,2.6 0 1,0 -5.2,0M125.5,232.6a2.6,2.6 0 1,0 5.2,0a2.6,2.6 0 1,0 -5.2,0M130.3,219.4a2.6,2.6 0 1,0 5.2,0a2.6,2.6 0 1,0 -5.2,0M113.2,227.4a2.6,2.6 0 1,0 5.2,0a2.6,2.6 0 1,0 -5.2,0M119.4,225.4a2.6,2.6 0 1,0 5.2,0a2.6,2.6 0 1,0 -5.2,0M122.8,230.3a2.6,2.6 0 1,0 5.2,0a2.6,2.6 0 1,0 -5.2,0M116.6,200.0a2.6,2.6 0 1,0 5.2,0a2.6,2.6 0 1,0 -5.2,0M106.8,194.5a2.6,2.6 0 1,0 5.2,0a2.6,2.6 0 1,0 -5.2,0M128.6,227.7a2.6,2.6 0 1,0 5.2,0a2.6,2.6 0 1,0 -5.2,0M121.0,234.8a2.6,2.6 0 1,0 5.2,0a2.6,2.6 0 1,0 -5.2,0M145.8,194.5a2.6,2.6 0 1,0 5.2,0a2.6,2.6 0 1,0 -5.2,0M120.6,220.0a2.6,2.6 0 1,0 5.2,0a2.6,2.6 0 1,0 -5.2,0M123.5,218.8a2.6,2.6 0 1,0 5.2,0a2.6,2.6 0 1,0 -5.2,0M141.2,208.2a2.6,2.6 0 1,0 5.2,0a2.6,2.6 0 1,0 -5.2,0M126.6,227.9a2.6,2.6 0 1,0 5.2,0a2.6,2.6 0 1,0 -5.2,0M116.3,208.1a2.6,2.6 0 1,0 5.2,0a2.6,2.6 0 1,0 -5.2,0M108.3,212.3a2.6,2.6 0 1,0 5.2,0a2.6,2.6 0 1,0 -5.2,0M121.7,234.6a2.6,2.6 0 1,0 5.2,0a2.6,2.6 0 1,0 -5.2,0M119.6,225.3a2.6,2.6 0 1,0 5.2,0a2.6,2.6 0 1,0 -5.2,0M129.7,226.4a2.6,2.6 0 1,0 5.2,0a2.6,2.6 0 1,0 -5.2,0M121.1,236.0a2.6,2.6 0 1,0 5.2,0a2.6,2.6 0 1,0 -5.2,0M137.7,194.1a2.6,2.6 0 1,0 5.2,0a2.6,2.6 0 1,0 -5.2,0M107.6,221.8a2.6,2.6 0 1,0 5.2,0a2.6,2.6 0 1,0 -5.2,0M141.6,184.7a2.6,2.6 0 1,0 5.2,0a2.6,2.6 0 1,0 -5.2,0M131.7,225.8a2.6,2.6 0 1,0 5.2,0a2.6,2.6 0 1,0 -5.2,0M122.3,230.6a2.6,2.6 0 1,0 5.2,0a2.6,2.6 0 1,0 -5.2,0M129.3,223.2a2.6,2.6 0 1,0 5.2,0a2.6,2.6 0 1,0 -5.2,0M133.9,220.6a2.6,2.6 0 1,0 5.2,0a2.6,2.6 0 1,0 -5.2,0M115.7,229.4a2.6,2.6 0 1,0 5.2,0a2.6,2.6 0 1,0 -5.2,0M121.5,234.7a2.6,2.6 0 1,0 5.2,0a2.6,2.6 0 1,0 -5.2,0M122.7,233.8a2.6,2.6 0 1,0 5.2,0a2.6,2.6 0 1,0 -5.2,0M119.7,230.0a2.6,2.6 0 1,0 5.2,0a2.6,2.6 0 1,0 -5.2,0M134.0,212.3a2.6,2.6 0 1,0 5.2,0a2.6,2.6 0 1,0 -5.2,0M118.0,228.5a2.6,2.6 0 1,0 5.2,0a2.6,2.6 0 1,0 -5.2,0M141.8,195.0a2.6,2.6 0 1,0 5.2,0a2.6,2.6 0 1,0 -5.2,0M119.8,233.2a2.6,2.6 0 1,0 5.2,0a2.6,2.6 0 1,0 -5.2,0M119.5,200.1a2.6,2.6 0 1,0 5.2,0a2.6,2.6 0 1,0 -5.2,0M118.8,235.4a2.6,2.6 0 1,0 5.2,0a2.6,2.6 0 1,0 -5.2,0M102.4,202.2a2.6,2.6 0 1,0 5.2,0a2.6,2.6 0 1,0 -5.2,0M118.5,198.4a2.6,2.6 0 1,0 5.2,0a2.6,2.6 0 1,0 -5.2,0M129.7,205.3a2.6,2.6 0 1,0 5.2,0a2.6,2.6 0 1,0 -5.2,0M120.5,215.6a2.6,2.6 0 1,0 5.2,0a2.6,2.6 0 1,0 -5.2,0M135.1,190.6a2.6,2.6 0 1,0 5.2,0a2.6,2.6 0 1,0 -5.2,0M99.1,198.4a2.6,2.6 0 1,0 5.2,0a2.6,2.6 0 1,0 -5.2,0M115.9,232.5a2.6,2.6 0 1,0 5.2,0a2.6,2.6 0 1,0 -5.2,0M118.5,234.0a2.6,2.6 0 1,0 5.2,0a2.6,2.6 0 1,0 -5.2,0M132.1,183.5a2.6,2.6 0 1,0 5.2,0a2.6,2.6 0 1,0 -5.2,0M110.0,212.9a2.6,2.6 0 1,0 5.2,0a2.6,2.6 0 1,0 -5.2,0M109.1,211.5a2.6,2.6 0 1,0 5.2,0a2.6,2.6 0 1,0 -5.2,0M126.8,230.7a2.6,2.6 0 1,0 5.2,0a2.6,2.6 0 1,0 -5.2,0M125.8,224.3a2.6,2.6 0 1,0 5.2,0a2.6,2.6 0 1,0 -5.2,0M114.7,210.7a2.6,2.6 0 1,0 5.2,0a2.6,2.6 0 1,0 -5.2,0M122.1,229.3a2.6,2.6 0 1,0 5.2,0a2.6,2.6 0 1,0 -5.2,0M122.0,221.8a2.6,2.6 0 1,0 5.2,0a2.6,2.6 0 1,0 -5.2,0M126.0,191.9a2.6,2.6 0 1,0 5.2,0a2.6,2.6 0 1,0 -5.2,0M117.0,229.4a2.6,2.6 0 1,0 5.2,0a2.6,2.6 0 1,0 -5.2,0M130.2,214.4a2.6,2.6 0 1,0 5.2,0a2.6,2.6 0 1,0 -5.2,0M115.7,232.6a2.6,2.6 0 1,0 5.2,0a2.6,2.6 0 1,0 -5.2,0M108.9,224.5a2.6,2.6 0 1,0 5.2,0a2.6,2.6 0 1,0 -5.2,0M114.0,228.1a2.6,2.6 0 1,0 5.2,0a2.6,2.6 0 1,0 -5.2,0M122.3,220.7a2.6,2.6 0 1,0 5.2,0a2.6,2.6 0 1,0 -5.2,0M121.3,218.7a2.6,2.6 0 1,0 5.2,0a2.6,2.6 0 1,0 -5.2,0M105.8,211.5a2.6,2.6 0 1,0 5.2,0a2.6,2.6 0 1,0 -5.2,0M127.8,224.4a2.6,2.6 0 1,0 5.2,0a2.6,2.6 0 1,0 -5.2,0M121.3,216.7a2.6,2.6 0 1,0 5.2,0a2.6,2.6 0 1,0 -5.2,0M122.6,234.1a2.6,2.6 0 1,0 5.2,0a2.6,2.6 0 1,0 -5.2,0M104.4,191.3a2.6,2.6 0 1,0 5.2,0a2.6,2.6 0 1,0 -5.2,0M128.3,210.9a2.6,2.6 0 1,0 5.2,0a2.6,2.6 0 1,0 -5.2,0M116.9,217.5a2.6,2.6 0 1,0 5.2,0a2.6,2.6 0 1,0 -5.2,0M105.2,208.4a2.6,2.6 0 1,0 5.2,0a2.6,2.6 0 1,0 -5.2,0M113.7,215.5a2.6,2.6 0 1,0 5.2,0a2.6,2.6 0 1,0 -5.2,0M133.7,224.9a2.6,2.6 0 1,0 5.2,0a2.6,2.6 0 1,0 -5.2,0M126.8,229.4a2.6,2.6 0 1,0 5.2,0a2.6,2.6 0 1,0 -5.2,0M108.5,208.8a2.6,2.6 0 1,0 5.2,0a2.6,2.6 0 1,0 -5.2,0M121.9,222.5a2.6,2.6 0 1,0 5.2,0a2.6,2.6 0 1,0 -5.2,0M125.0,234.5a2.6,2.6 0 1,0 5.2,0a2.6,2.6 0 1,0 -5.2,0M112.7,223.4a2.6,2.6 0 1,0 5.2,0a2.6,2.6 0 1,0 -5.2,0M129.6,215.6a2.6,2.6 0 1,0 5.2,0a2.6,2.6 0 1,0 -5.2,0M125.3,213.4a2.6,2.6 0 1,0 5.2,0a2.6,2.6 0 1,0 -5.2,0M113.8,225.2a2.6,2.6 0 1,0 5.2,0a2.6,2.6 0 1,0 -5.2,0M120.7,233.8a2.6,2.6 0 1,0 5.2,0a2.6,2.6 0 1,0 -5.2,0M130.7,229.4a2.6,2.6 0 1,0 5.2,0a2.6,2.6 0 1,0 -5.2,0M115.1,217.2a2.6,2.6 0 1,0 5.2,0a2.6,2.6 0 1,0 -5.2,0M121.5,220.3a2.6,2.6 0 1,0 5.2,0a2.6,2.6 0 1,0 -5.2,0M112.7,221.9a2.6,2.6 0 1,0 5.2,0a2.6,2.6 0 1,0 -5.2,0M119.7,232.3a2.6,2.6 0 1,0 5.2,0a2.6,2.6 0 1,0 -5.2,0M124.7,233.0a2.6,2.6 0 1,0 5.2,0a2.6,2.6 0 1,0 -5.2,0M120.5,235.7a2.6,2.6 0 1,0 5.2,0a2.6,2.6 0 1,0 -5.2,0M114.5,205.0a2.6,2.6 0 1,0 5.2,0a2.6,2.6 0 1,0 -5.2,0M106.3,214.6a2.6,2.6 0 1,0 5.2,0a2.6,2.6 0 1,0 -5.2,0M119.6,235.8a2.6,2.6 0 1,0 5.2,0a2.6,2.6 0 1,0 -5.2,0M118.9,226.0a2.6,2.6 0 1,0 5.2,0a2.6,2.6 0 1,0 -5.2,0M118.1,233.3a2.6,2.6 0 1,0 5.2,0a2.6,2.6 0 1,0 -5.2,0M108.6,222.4a2.6,2.6 0 1,0 5.2,0a2.6,2.6 0 1,0 -5.2,0M125.7,189.7a2.6,2.6 0 1,0 5.2,0a2.6,2.6 0 1,0 -5.2,0M132.0,206.2a2.6,2.6 0 1,0 5.2,0a2.6,2.6 0 1,0 -5.2,0M119.1,220.5a2.6,2.6 0 1,0 5.2,0a2.6,2.6 0 1,0 -5.2,0M130.9,224.0a2.6,2.6 0 1,0 5.2,0a2.6,2.6 0 1,0 -5.2,0M112.3,210.9a2.6,2.6 0 1,0 5.2,0a2.6,2.6 0 1,0 -5.2,0M114.8,227.7a2.6,2.6 0 1,0 5.2,0a2.6,2.6 0 1,0 -5.2,0M125.2,218.2a2.6,2.6 0 1,0 5.2,0a2.6,2.6 0 1,0 -5.2,0M118.7,235.3a2.6,2.6 0 1,0 5.2,0a2.6,2.6 0 1,0 -5.2,0M120.7,231.5a2.6,2.6 0 1,0 5.2,0a2.6,2.6 0 1,0 -5.2,0M119.6,231.5a2.6,2.6 0 1,0 5.2,0a2.6,2.6 0 1,0 -5.2,0M134.6,221.9a2.6,2.6 0 1,0 5.2,0a2.6,2.6 0 1,0 -5.2,0M118.8,235.3a2.6,2.6 0 1,0 5.2,0a2.6,2.6 0 1,0 -5.2,0M114.9,212.6a2.6,2.6 0 1,0 5.2,0a2.6,2.6 0 1,0 -5.2,0M119.7,187.5a2.6,2.6 0 1,0 5.2,0a2.6,2.6 0 1,0 -5.2,0M118.3,228.6a2.6,2.6 0 1,0 5.2,0a2.6,2.6 0 1,0 -5.2,0M123.2,223.6a2.6,2.6 0 1,0 5.2,0a2.6,2.6 0 1,0 -5.2,0M133.6,219.8a2.6,2.6 0 1,0 5.2,0a2.6,2.6 0 1,0 -5.2,0M114.6,227.5a2.6,2.6 0 1,0 5.2,0a2.6,2.6 0 1,0 -5.2,0M121.6,234.4a2.6,2.6 0 1,0 5.2,0a2.6,2.6 0 1,0 -5.2,0M123.7,195.3a2.6,2.6 0 1,0 5.2,0a2.6,2.6 0 1,0 -5.2,0M136.9,215.4a2.6,2.6 0 1,0 5.2,0a2.6,2.6 0 1,0 -5.2,0M119.8,227.9a2.6,2.6 0 1,0 5.2,0a2.6,2.6 0 1,0 -5.2,0M122.3,190.9a2.6,2.6 0 1,0 5.2,0a2.6,2.6 0 1,0 -5.2,0M120.1,234.0a2.6,2.6 0 1,0 5.2,0a2.6,2.6 0 1,0 -5.2,0M129.7,229.3a2.6,2.6 0 1,0 5.2,0a2.6,2.6 0 1,0 -5.2,0M123.8,190.7a2.6,2.6 0 1,0 5.2,0a2.6,2.6 0 1,0 -5.2,0M113.0,223.3a2.6,2.6 0 1,0 5.2,0a2.6,2.6 0 1,0 -5.2,0M118.2,204.0a2.6,2.6 0 1,0 5.2,0a2.6,2.6 0 1,0 -5.2,0M111.7,194.3a2.6,2.6 0 1,0 5.2,0a2.6,2.6 0 1,0 -5.2,0M106.0,190.5a2.6,2.6 0 1,0 5.2,0a2.6,2.6 0 1,0 -5.2,0M125.0,214.8a2.6,2.6 0 1,0 5.2,0a2.6,2.6 0 1,0 -5.2,0M104.6,205.8a2.6,2.6 0 1,0 5.2,0a2.6,2.6 0 1,0 -5.2,0M120.5,234.3a2.6,2.6 0 1,0 5.2,0a2.6,2.6 0 1,0 -5.2,0M128.3,219.9a2.6,2.6 0 1,0 5.2,0a2.6,2.6 0 1,0 -5.2,0M122.6,233.0a2.6,2.6 0 1,0 5.2,0a2.6,2.6 0 1,0 -5.2,0M116.9,233.8a2.6,2.6 0 1,0 5.2,0a2.6,2.6 0 1,0 -5.2,0M125.7,233.0a2.6,2.6 0 1,0 5.2,0a2.6,2.6 0 1,0 -5.2,0M113.6,216.4a2.6,2.6 0 1,0 5.2,0a2.6,2.6 0 1,0 -5.2,0M130.1,220.8a2.6,2.6 0 1,0 5.2,0a2.6,2.6 0 1,0 -5.2,0M106.9,218.3a2.6,2.6 0 1,0 5.2,0a2.6,2.6 0 1,0 -5.2,0M119.6,234.4a2.6,2.6 0 1,0 5.2,0a2.6,2.6 0 1,0 -5.2,0M105.5,219.3a2.6,2.6 0 1,0 5.2,0a2.6,2.6 0 1,0 -5.2,0M130.0,225.2a2.6,2.6 0 1,0 5.2,0a2.6,2.6 0 1,0 -5.2,0M114.2,229.2a2.6,2.6 0 1,0 5.2,0a2.6,2.6 0 1,0 -5.2,0M120.5,218.7a2.6,2.6 0 1,0 5.2,0a2.6,2.6 0 1,0 -5.2,0M128.4,223.4a2.6,2.6 0 1,0 5.2,0a2.6,2.6 0 1,0 -5.2,0M117.7,230.6a2.6,2.6 0 1,0 5.2,0a2.6,2.6 0 1,0 -5.2,0M110.7,223.6a2.6,2.6 0 1,0 5.2,0a2.6,2.6 0 1,0 -5.2,0M114.4,224.6a2.6,2.6 0 1,0 5.2,0a2.6,2.6 0 1,0 -5.2,0M120.9,231.5a2.6,2.6 0 1,0 5.2,0a2.6,2.6 0 1,0 -5.2,0M124.3,217.5a2.6,2.6 0 1,0 5.2,0a2.6,2.6 0 1,0 -5.2,0M118.0,231.9a2.6,2.6 0 1,0 5.2,0a2.6,2.6 0 1,0 -5.2,0M100.1,204.7a2.6,2.6 0 1,0 5.2,0a2.6,2.6 0 1,0 -5.2,0M131.7,217.6a2.6,2.6 0 1,0 5.2,0a2.6,2.6 0 1,0 -5.2,0M119.0,229.3a2.6,2.6 0 1,0 5.2,0a2.6,2.6 0 1,0 -5.2,0M111.3,225.5a2.6,2.6 0 1,0 5.2,0a2.6,2.6 0 1,0 -5.2,0M117.8,233.8a2.6,2.6 0 1,0 5.2,0a2.6,2.6 0 1,0 -5.2,0M113.1,215.9a2.6,2.6 0 1,0 5.2,0a2.6,2.6 0 1,0 -5.2,0M114.9,226.0a2.6,2.6 0 1,0 5.2,0a2.6,2.6 0 1,0 -5.2,0M123.1,232.0a2.6,2.6 0 1,0 5.2,0a2.6,2.6 0 1,0 -5.2,0M129.5,214.7a2.6,2.6 0 1,0 5.2,0a2.6,2.6 0 1,0 -5.2,0M111.6,219.5a2.6,2.6 0 1,0 5.2,0a2.6,2.6 0 1,0 -5.2,0M100.7,203.3a2.6,2.6 0 1,0 5.2,0a2.6,2.6 0 1,0 -5.2,0M119.6,231.1a2.6,2.6 0 1,0 5.2,0a2.6,2.6 0 1,0 -5.2,0M128.9,214.6a2.6,2.6 0 1,0 5.2,0a2.6,2.6 0 1,0 -5.2,0M141.4,184.8a2.6,2.6 0 1,0 5.2,0a2.6,2.6 0 1,0 -5.2,0M124.6,232.2a2.6,2.6 0 1,0 5.2,0a2.6,2.6 0 1,0 -5.2,0M127.0,211.9a2.6,2.6 0 1,0 5.2,0a2.6,2.6 0 1,0 -5.2,0M117.8,198.9a2.6,2.6 0 1,0 5.2,0a2.6,2.6 0 1,0 -5.2,0M134.8,208.9a2.6,2.6 0 1,0 5.2,0a2.6,2.6 0 1,0 -5.2,0M133.5,201.7a2.6,2.6 0 1,0 5.2,0a2.6,2.6 0 1,0 -5.2,0M115.7,205.4a2.6,2.6 0 1,0 5.2,0a2.6,2.6 0 1,0 -5.2,0M122.2,212.7a2.6,2.6 0 1,0 5.2,0a2.6,2.6 0 1,0 -5.2,0M116.4,201.8a2.6,2.6 0 1,0 5.2,0a2.6,2.6 0 1,0 -5.2,0M128.5,203.9a2.6,2.6 0 1,0 5.2,0a2.6,2.6 0 1,0 -5.2,0M106.8,214.2a2.6,2.6 0 1,0 5.2,0a2.6,2.6 0 1,0 -5.2,0M122.0,206.5a2.6,2.6 0 1,0 5.2,0a2.6,2.6 0 1,0 -5.2,0M116.7,227.9a2.6,2.6 0 1,0 5.2,0a2.6,2.6 0 1,0 -5.2,0M126.1,229.0a2.6,2.6 0 1,0 5.2,0a2.6,2.6 0 1,0 -5.2,0M118.1,184.7a2.6,2.6 0 1,0 5.2,0a2.6,2.6 0 1,0 -5.2,0M110.8,206.6a2.6,2.6 0 1,0 5.2,0a2.6,2.6 0 1,0 -5.2,0M126.8,206.9a2.6,2.6 0 1,0 5.2,0a2.6,2.6 0 1,0 -5.2,0M118.1,227.9a2.6,2.6 0 1,0 5.2,0a2.6,2.6 0 1,0 -5.2,0M115.6,227.1a2.6,2.6 0 1,0 5.2,0a2.6,2.6 0 1,0 -5.2,0M123.1,232.5a2.6,2.6 0 1,0 5.2,0a2.6,2.6 0 1,0 -5.2,0M110.0,225.2a2.6,2.6 0 1,0 5.2,0a2.6,2.6 0 1,0 -5.2,0M123.6,221.4a2.6,2.6 0 1,0 5.2,0a2.6,2.6 0 1,0 -5.2,0M121.3,235.8a2.6,2.6 0 1,0 5.2,0a2.6,2.6 0 1,0 -5.2,0M119.8,223.5a2.6,2.6 0 1,0 5.2,0a2.6,2.6 0 1,0 -5.2,0M110.6,209.4a2.6,2.6 0 1,0 5.2,0a2.6,2.6 0 1,0 -5.2,0M111.5,202.5a2.6,2.6 0 1,0 5.2,0a2.6,2.6 0 1,0 -5.2,0M120.7,234.4a2.6,2.6 0 1,0 5.2,0a2.6,2.6 0 1,0 -5.2,0M127.8,228.0a2.6,2.6 0 1,0 5.2,0a2.6,2.6 0 1,0 -5.2,0M95.7,169.0a2.6,2.6 0 1,0 5.2,0a2.6,2.6 0 1,0 -5.2,0M110.3,143.2a2.6,2.6 0 1,0 5.2,0a2.6,2.6 0 1,0 -5.2,0M112.1,150.0a2.6,2.6 0 1,0 5.2,0a2.6,2.6 0 1,0 -5.2,0M133.4,165.2a2.6,2.6 0 1,0 5.2,0a2.6,2.6 0 1,0 -5.2,0M104.4,137.7a2.6,2.6 0 1,0 5.2,0a2.6,2.6 0 1,0 -5.2,0M129.1,142.0a2.6,2.6 0 1,0 5.2,0a2.6,2.6 0 1,0 -5.2,0M101.9,166.1a2.6,2.6 0 1,0 5.2,0a2.6,2.6 0 1,0 -5.2,0M134.2,166.9a2.6,2.6 0 1,0 5.2,0a2.6,2.6 0 1,0 -5.2,0M141.4,177.9a2.6,2.6 0 1,0 5.2,0a2.6,2.6 0 1,0 -5.2,0M97.7,179.7a2.6,2.6 0 1,0 5.2,0a2.6,2.6 0 1,0 -5.2,0M127.1,169.9a2.6,2.6 0 1,0 5.2,0a2.6,2.6 0 1,0 -5.2,0M93.6,175.6a2.6,2.6 0 1,0 5.2,0a2.6,2.6 0 1,0 -5.2,0M121.3,180.9a2.6,2.6 0 1,0 5.2,0a2.6,2.6 0 1,0 -5.2,0M102.0,151.6a2.6,2.6 0 1,0 5.2,0a2.6,2.6 0 1,0 -5.2,0M103.1,137.3a2.6,2.6 0 1,0 5.2,0a2.6,2.6 0 1,0 -5.2,0M103.2,154.3a2.6,2.6 0 1,0 5.2,0a2.6,2.6 0 1,0 -5.2,0M95.6,141.0a2.6,2.6 0 1,0 5.2,0a2.6,2.6 0 1,0 -5.2,0M101.6,143.5a2.6,2.6 0 1,0 5.2,0a2.6,2.6 0 1,0 -5.2,0M126.6,156.4a2.6,2.6 0 1,0 5.2,0a2.6,2.6 0 1,0 -5.2,0M102.0,162.6a2.6,2.6 0 1,0 5.2,0a2.6,2.6 0 1,0 -5.2,0M133.9,169.9a2.6,2.6 0 1,0 5.2,0a2.6,2.6 0 1,0 -5.2,0M105.2,163.8a2.6,2.6 0 1,0 5.2,0a2.6,2.6 0 1,0 -5.2,0M104.1,171.4a2.6,2.6 0 1,0 5.2,0a2.6,2.6 0 1,0 -5.2,0M140.3,177.2a2.6,2.6 0 1,0 5.2,0a2.6,2.6 0 1,0 -5.2,0M136.8,163.8a2.6,2.6 0 1,0 5.2,0a2.6,2.6 0 1,0 -5.2,0M114.8,155.7a2.6,2.6 0 1,0 5.2,0a2.6,2.6 0 1,0 -5.2,0M104.6,159.5a2.6,2.6 0 1,0 5.2,0a2.6,2.6 0 1,0 -5.2,0M128.9,151.5a2.6,2.6 0 1,0 5.2,0a2.6,2.6 0 1,0 -5.2,0M97.5,170.8a2.6,2.6 0 1,0 5.2,0a2.6,2.6 0 1,0 -5.2,0M107.6,183.2a2.6,2.6 0 1,0 5.2,0a2.6,2.6 0 1,0 -5.2,0M131.8,175.6a2.6,2.6 0 1,0 5.2,0a2.6,2.6 0 1,0 -5.2,0M99.3,172.6a2.6,2.6 0 1,0 5.2,0a2.6,2.6 0 1,0 -5.2,0M136.9,161.1a2.6,2.6 0 1,0 5.2,0a2.6,2.6 0 1,0 -5.2,0M116.5,168.5a2.6,2.6 0 1,0 5.2,0a2.6,2.6 0 1,0 -5.2,0M94.1,155.8a2.6,2.6 0 1,0 5.2,0a2.6,2.6 0 1,0 -5.2,0M94.9,175.2a2.6,2.6 0 1,0 5.2,0a2.6,2.6 0 1,0 -5.2,0M145.8,165.1a2.6,2.6 0 1,0 5.2,0a2.6,2.6 0 1,0 -5.2,0M130.6,183.1a2.6,2.6 0 1,0 5.2,0a2.6,2.6 0 1,0 -5.2,0M145.7,154.3a2.6,2.6 0 1,0 5.2,0a2.6,2.6 0 1,0 -5.2,0M94.9,143.8a2.6,2.6 0 1,0 5.2,0a2.6,2.6 0 1,0 -5.2,0M99.7,144.2a2.6,2.6 0 1,0 5.2,0a2.6,2.6 0 1,0 -5.2,0M103.1,143.2a2.6,2.6 0 1,0 5.2,0a2.6,2.6 0 1,0 -5.2,0M133.2,176.3a2.6,2.6 0 1,0 5.2,0a2.6,2.6 0 1,0 -5.2,0M134.1,135.9a2.6,2.6 0 1,0 5.2,0a2.6,2.6 0 1,0 -5.2,0M106.2,161.2a2.6,2.6 0 1,0 5.2,0a2.6,2.6 0 1,0 -5.2,0M126.4,176.7a2.6,2.6 0 1,0 5.2,0a2.6,2.6 0 1,0 -5.2,0M100.3,180.1a2.6,2.6 0 1,0 5.2,0a2.6,2.6 0 1,0 -5.2,0M108.9,180.8a2.6,2.6 0 1,0 5.2,0a2.6,2.6 0 1,0 -5.2,0M114.7,156.9a2.6,2.6 0 1,0 5.2,0a2.6,2.6 0 1,0 -5.2,0M131.8,157.3a2.6,2.6 0 1,0 5.2,0a2.6,2.6 0 1,0 -5.2,0M113.9,148.6a2.6,2.6 0 1,0 5.2,0a2.6,2.6 0 1,0 -5.2,0M99.7,155.8a2.6,2.6 0 1,0 5.2,0a2.6,2.6 0 1,0 -5.2,0M135.8,162.7a2.6,2.6 0 1,0 5.2,0a2.6,2.6 0 1,0 -5.2,0M112.5,177.5a2.6,2.6 0 1,0 5.2,0a2.6,2.6 0 1,0 -5.2,0M103.0,151.7a2.6,2.6 0 1,0 5.2,0a2.6,2.6 0 1,0 -5.2,0M96.8,183.1a2.6,2.6 0 1,0 5.2,0a2.6,2.6 0 1,0 -5.2,0M130.1,155.7a2.6,2.6 0 1,0 5.2,0a2.6,2.6 0 1,0 -5.2,0M94.1,177.4a2.6,2.6 0 1,0 5.2,0a2.6,2.6 0 1,0 -5.2,0M146.5,177.6a2.6,2.6 0 1,0 5.2,0a2.6,2.6 0 1,0 -5.2,0M110.8,141.1a2.6,2.6 0 1,0 5.2,0a2.6,2.6 0 1,0 -5.2,0M132.1,139.7a2.6,2.6 0 1,0 5.2,0a2.6,2.6 0 1,0 -5.2,0M134.5,152.5a2.6,2.6 0 1,0 5.2,0a2.6,2.6 0 1,0 -5.2,0M125.9,175.0a2.6,2.6 0 1,0 5.2,0a2.6,2.6 0 1,0 -5.2,0M100.7,165.0a2.6,2.6 0 1,0 5.2,0a2.6,2.6 0 1,0 -5.2,0M138.4,170.3a2.6,2.6 0 1,0 5.2,0a2.6,2.6 0 1,0 -5.2,0M98.0,179.1a2.6,2.6 0 1,0 5.2,0a2.6,2.6 0 1,0 -5.2,0M114.5,174.7a2.6,2.6 0 1,0 5.2,0a2.6,2.6 0 1,0 -5.2,0M130.3,181.2a2.6,2.6 0 1,0 5.2,0a2.6,2.6 0 1,0 -5.2,0M128.9,136.5a2.6,2.6 0 1,0 5.2,0a2.6,2.6 0 1,0 -5.2,0M126.6,174.7a2.6,2.6 0 1,0 5.2,0a2.6,2.6 0 1,0 -5.2,0M123.6,168.6a2.6,2.6 0 1,0 5.2,0a2.6,2.6 0 1,0 -5.2,0M123.1,174.3a2.6,2.6 0 1,0 5.2,0a2.6,2.6 0 1,0 -5.2,0M115.4,156.2a2.6,2.6 0 1,0 5.2,0a2.6,2.6 0 1,0 -5.2,0M132.7,160.6a2.6,2.6 0 1,0 5.2,0a2.6,2.6 0 1,0 -5.2,0M97.9,149.9a2.6,2.6 0 1,0 5.2,0a2.6,2.6 0 1,0 -5.2,0M107.0,182.8a2.6,2.6 0 1,0 5.2,0a2.6,2.6 0 1,0 -5.2,0M124.8,175.9a2.6,2.6 0 1,0 5.2,0a2.6,2.6 0 1,0 -5.2,0M110.1,158.9a2.6,2.6 0 1,0 5.2,0a2.6,2.6 0 1,0 -5.2,0M143.2,160.0a2.6,2.6 0 1,0 5.2,0a2.6,2.6 0 1,0 -5.2,0M124.6,146.4a2.6,2.6 0 1,0 5.2,0a2.6,2.6 0 1,0 -5.2,0M94.5,180.5a2.6,2.6 0 1,0 5.2,0a2.6,2.6 0 1,0 -5.2,0M101.4,169.3a2.6,2.6 0 1,0 5.2,0a2.6,2.6 0 1,0 -5.2,0M127.9,167.9a2.6,2.6 0 1,0 5.2,0a2.6,2.6 0 1,0 -5.2,0M106.9,163.0a2.6,2.6 0 1,0 5.2,0a2.6,2.6 0 1,0 -5.2,0M93.2,170.1a2.6,2.6 0 1,0 5.2,0a2.6,2.6 0 1,0 -5.2,0M143.6,151.6a2.6,2.6 0 1,0 5.2,0a2.6,2.6 0 1,0 -5.2,0M131.6,179.6a2.6,2.6 0 1,0 5.2,0a2.6,2.6 0 1,0 -5.2,0M115.1,181.2a2.6,2.6 0 1,0 5.2,0a2.6,2.6 0 1,0 -5.2,0M108.4,171.7a2.6,2.6 0 1,0 5.2,0a2.6,2.6 0 1,0 -5.2,0M101.3,180.1a2.6,2.6 0 1,0 5.2,0a2.6,2.6 0 1,0 -5.2,0M110.3,168.4a2.6,2.6 0 1,0 5.2,0a2.6,2.6 0 1,0 -5.2,0M143.4,159.9a2.6,2.6 0 1,0 5.2,0a2.6,2.6 0 1,0 -5.2,0M141.8,180.3a2.6,2.6 0 1,0 5.2,0a2.6,2.6 0 1,0 -5.2,0M99.6,165.4a2.6,2.6 0 1,0 5.2,0a2.6,2.6 0 1,0 -5.2,0M107.9,161.0a2.6,2.6 0 1,0 5.2,0a2.6,2.6 0 1,0 -5.2,0M115.9,160.5a2.6,2.6 0 1,0 5.2,0a2.6,2.6 0 1,0 -5.2,0M97.7,182.2a2.6,2.6 0 1,0 5.2,0a2.6,2.6 0 1,0 -5.2,0M111.1,149.4a2.6,2.6 0 1,0 5.2,0a2.6,2.6 0 1,0 -5.2,0M115.4,152.4a2.6,2.6 0 1,0 5.2,0a2.6,2.6 0 1,0 -5.2,0M130.4,172.3a2.6,2.6 0 1,0 5.2,0a2.6,2.6 0 1,0 -5.2,0M138.9,164.9a2.6,2.6 0 1,0 5.2,0a2.6,2.6 0 1,0 -5.2,0M106.1,151.4a2.6,2.6 0 1,0 5.2,0a2.6,2.6 0 1,0 -5.2,0M126.8,145.8a2.6,2.6 0 1,0 5.2,0a2.6,2.6 0 1,0 -5.2,0M94.5,174.3a2.6,2.6 0 1,0 5.2,0a2.6,2.6 0 1,0 -5.2,0M110.7,149.6a2.6,2.6 0 1,0 5.2,0a2.6,2.6 0 1,0 -5.2,0M138.7,167.0a2.6,2.6 0 1,0 5.2,0a2.6,2.6 0 1,0 -5.2,0M128.8,137.9a2.6,2.6 0 1,0 5.2,0a2.6,2.6 0 1,0 -5.2,0M96.0,143.0a2.6,2.6 0 1,0 5.2,0a2.6,2.6 0 1,0 -5.2,0M117.0,169.8a2.6,2.6 0 1,0 5.2,0a2.6,2.6 0 1,0 -5.2,0M117.0,169.8a2.6,2.6 0 1,0 5.2,0a2.6,2.6 0 1,0 -5.2,0M116.9,164.3a2.6,2.6 0 1,0 5.2,0a2.6,2.6 0 1,0 -5.2,0M126.1,137.4a2.6,2.6 0 1,0 5.2,0a2.6,2.6 0 1,0 -5.2,0M118.4,178.2a2.6,2.6 0 1,0 5.2,0a2.6,2.6 0 1,0 -5.2,0M99.8,161.3a2.6,2.6 0 1,0 5.2,0a2.6,2.6 0 1,0 -5.2,0M103.9,156.4a2.6,2.6 0 1,0 5.2,0a2.6,2.6 0 1,0 -5.2,0M131.5,152.5a2.6,2.6 0 1,0 5.2,0a2.6,2.6 0 1,0 -5.2,0M115.4,180.9a2.6,2.6 0 1,0 5.2,0a2.6,2.6 0 1,0 -5.2,0M135.3,158.8a2.6,2.6 0 1,0 5.2,0a2.6,2.6 0 1,0 -5.2,0M143.6,165.9a2.6,2.6 0 1,0 5.2,0a2.6,2.6 0 1,0 -5.2,0M103.4,170.6a2.6,2.6 0 1,0 5.2,0a2.6,2.6 0 1,0 -5.2,0M135.3,136.7a2.6,2.6 0 1,0 5.2,0a2.6,2.6 0 1,0 -5.2,0M140.2,179.6a2.6,2.6 0 1,0 5.2,0a2.6,2.6 0 1,0 -5.2,0M130.9,153.1a2.6,2.6 0 1,0 5.2,0a2.6,2.6 0 1,0 -5.2,0M137.1,175.9a2.6,2.6 0 1,0 5.2,0a2.6,2.6 0 1,0 -5.2,0M99.4,138.3a2.6,2.6 0 1,0 5.2,0a2.6,2.6 0 1,0 -5.2,0M111.3,163.6a2.6,2.6 0 1,0 5.2,0a2.6,2.6 0 1,0 -5.2,0M104.8,165.7a2.6,2.6 0 1,0 5.2,0a2.6,2.6 0 1,0 -5.2,0M115.4,174.3a2.6,2.6 0 1,0 5.2,0a2.6,2.6 0 1,0 -5.2,0M115.1,162.0a2.6,2.6 0 1,0 5.2,0a2.6,2.6 0 1,0 -5.2,0M129.7,143.9a2.6,2.6 0 1,0 5.2,0a2.6,2.6 0 1,0 -5.2,0M103.0,180.8a2.6,2.6 0 1,0 5.2,0a2.6,2.6 0 1,0 -5.2,0M116.2,155.8a2.6,2.6 0 1,0 5.2,0a2.6,2.6 0 1,0 -5.2,0M128.5,178.1a2.6,2.6 0 1,0 5.2,0a2.6,2.6 0 1,0 -5.2,0M133.5,175.2a2.6,2.6 0 1,0 5.2,0a2.6,2.6 0 1,0 -5.2,0M98.0,144.5a2.6,2.6 0 1,0 5.2,0a2.6,2.6 0 1,0 -5.2,0M107.1,180.7a2.6,2.6 0 1,0 5.2,0a2.6,2.6 0 1,0 -5.2,0M104.4,151.8a2.6,2.6 0 1,0 5.2,0a2.6,2.6 0 1,0 -5.2,0M124.0,181.2a2.6,2.6 0 1,0 5.2,0a2.6,2.6 0 1,0 -5.2,0M103.0,163.2a2.6,2.6 0 1,0 5.2,0a2.6,2.6 0 1,0 -5.2,0M141.6,157.6a2.6,2.6 0 1,0 5.2,0a2.6,2.6 0 1,0 -5.2,0M120.6,178.1a2.6,2.6 0 1,0 5.2,0a2.6,2.6 0 1,0 -5.2,0M128.0,147.7a2.6,2.6 0 1,0 5.2,0a2.6,2.6 0 1,0 -5.2,0M112.1,175.3a2.6,2.6 0 1,0 5.2,0a2.6,2.6 0 1,0 -5.2,0M125.6,164.7a2.6,2.6 0 1,0 5.2,0a2.6,2.6 0 1,0 -5.2,0M107.5,174.6a2.6,2.6 0 1,0 5.2,0a2.6,2.6 0 1,0 -5.2,0M96.9,150.0a2.6,2.6 0 1,0 5.2,0a2.6,2.6 0 1,0 -5.2,0M112.9,174.2a2.6,2.6 0 1,0 5.2,0a2.6,2.6 0 1,0 -5.2,0M114.2,173.7a2.6,2.6 0 1,0 5.2,0a2.6,2.6 0 1,0 -5.2,0M120.3,182.8a2.6,2.6 0 1,0 5.2,0a2.6,2.6 0 1,0 -5.2,0M117.0,141.6a2.6,2.6 0 1,0 5.2,0a2.6,2.6 0 1,0 -5.2,0M128.2,182.1a2.6,2.6 0 1,0 5.2,0a2.6,2.6 0 1,0 -5.2,0M107.4,171.6a2.6,2.6 0 1,0 5.2,0a2.6,2.6 0 1,0 -5.2,0M93.6,156.4a2.6,2.6 0 1,0 5.2,0a2.6,2.6 0 1,0 -5.2,0M117.4,170.9a2.6,2.6 0 1,0 5.2,0a2.6,2.6 0 1,0 -5.2,0M147.7,158.9a2.6,2.6 0 1,0 5.2,0a2.6,2.6 0 1,0 -5.2,0M106.5,169.6a2.6,2.6 0 1,0 5.2,0a2.6,2.6 0 1,0 -5.2,0M98.9,142.9a2.6,2.6 0 1,0 5.2,0a2.6,2.6 0 1,0 -5.2,0M134.9,177.6a2.6,2.6 0 1,0 5.2,0a2.6,2.6 0 1,0 -5.2,0M112.5,182.6a2.6,2.6 0 1,0 5.2,0a2.6,2.6 0 1,0 -5.2,0M98.5,179.8a2.6,2.6 0 1,0 5.2,0a2.6,2.6 0 1,0 -5.2,0M141.3,162.5a2.6,2.6 0 1,0 5.2,0a2.6,2.6 0 1,0 -5.2,0M129.8,159.2a2.6,2.6 0 1,0 5.2,0a2.6,2.6 0 1,0 -5.2,0M107.2,145.8a2.6,2.6 0 1,0 5.2,0a2.6,2.6 0 1,0 -5.2,0M147.5,137.8a2.6,2.6 0 1,0 5.2,0a2.6,2.6 0 1,0 -5.2,0M105.8,168.0a2.6,2.6 0 1,0 5.2,0a2.6,2.6 0 1,0 -5.2,0M95.6,146.4a2.6,2.6 0 1,0 5.2,0a2.6,2.6 0 1,0 -5.2,0M115.9,167.8a2.6,2.6 0 1,0 5.2,0a2.6,2.6 0 1,0 -5.2,0M108.1,169.3a2.6,2.6 0 1,0 5.2,0a2.6,2.6 0 1,0 -5.2,0M108.3,178.6a2.6,2.6 0 1,0 5.2,0a2.6,2.6 0 1,0 -5.2,0M107.3,143.6a2.6,2.6 0 1,0 5.2,0a2.6,2.6 0 1,0 -5.2,0M101.5,170.8a2.6,2.6 0 1,0 5.2,0a2.6,2.6 0 1,0 -5.2,0M105.6,156.4a2.6,2.6 0 1,0 5.2,0a2.6,2.6 0 1,0 -5.2,0M126.8,162.8a2.6,2.6 0 1,0 5.2,0a2.6,2.6 0 1,0 -5.2,0M136.3,134.7a2.6,2.6 0 1,0 5.2,0a2.6,2.6 0 1,0 -5.2,0M123.1,174.0a2.6,2.6 0 1,0 5.2,0a2.6,2.6 0 1,0 -5.2,0M105.0,161.2a2.6,2.6 0 1,0 5.2,0a2.6,2.6 0 1,0 -5.2,0M124.3,148.5a2.6,2.6 0 1,0 5.2,0a2.6,2.6 0 1,0 -5.2,0M117.9,176.4a2.6,2.6 0 1,0 5.2,0a2.6,2.6 0 1,0 -5.2,0M139.8,146.4a2.6,2.6 0 1,0 5.2,0a2.6,2.6 0 1,0 -5.2,0M137.5,160.9a2.6,2.6 0 1,0 5.2,0a2.6,2.6 0 1,0 -5.2,0M112.3,179.6a2.6,2.6 0 1,0 5.2,0a2.6,2.6 0 1,0 -5.2,0M142.9,136.8a2.6,2.6 0 1,0 5.2,0a2.6,2.6 0 1,0 -5.2,0M147.0,167.6a2.6,2.6 0 1,0 5.2,0a2.6,2.6 0 1,0 -5.2,0M101.9,164.7a2.6,2.6 0 1,0 5.2,0a2.6,2.6 0 1,0 -5.2,0M98.7,148.8a2.6,2.6 0 1,0 5.2,0a2.6,2.6 0 1,0 -5.2,0M137.7,137.1a2.6,2.6 0 1,0 5.2,0a2.6,2.6 0 1,0 -5.2,0M136.6,174.4a2.6,2.6 0 1,0 5.2,0a2.6,2.6 0 1,0 -5.2,0M106.7,178.5a2.6,2.6 0 1,0 5.2,0a2.6,2.6 0 1,0 -5.2,0M139.8,151.1a2.6,2.6 0 1,0 5.2,0a2.6,2.6 0 1,0 -5.2,0M110.7,154.8a2.6,2.6 0 1,0 5.2,0a2.6,2.6 0 1,0 -5.2,0M146.0,166.0a2.6,2.6 0 1,0 5.2,0a2.6,2.6 0 1,0 -5.2,0M104.6,156.4a2.6,2.6 0 1,0 5.2,0a2.6,2.6 0 1,0 -5.2,0M127.4,138.5a2.6,2.6 0 1,0 5.2,0a2.6,2.6 0 1,0 -5.2,0M143.0,145.3a2.6,2.6 0 1,0 5.2,0a2.6,2.6 0 1,0 -5.2,0M132.5,160.4a2.6,2.6 0 1,0 5.2,0a2.6,2.6 0 1,0 -5.2,0M112.6,141.0a2.6,2.6 0 1,0 5.2,0a2.6,2.6 0 1,0 -5.2,0M128.8,140.7a2.6,2.6 0 1,0 5.2,0a2.6,2.6 0 1,0 -5.2,0M139.3,149.6a2.6,2.6 0 1,0 5.2,0a2.6,2.6 0 1,0 -5.2,0M133.5,179.1a2.6,2.6 0 1,0 5.2,0a2.6,2.6 0 1,0 -5.2,0M114.6,160.7a2.6,2.6 0 1,0 5.2,0a2.6,2.6 0 1,0 -5.2,0M128.1,158.4a2.6,2.6 0 1,0 5.2,0a2.6,2.6 0 1,0 -5.2,0M106.0,142.9a2.6,2.6 0 1,0 5.2,0a2.6,2.6 0 1,0 -5.2,0M138.2,162.9a2.6,2.6 0 1,0 5.2,0a2.6,2.6 0 1,0 -5.2,0M113.8,158.2a2.6,2.6 0 1,0 5.2,0a2.6,2.6 0 1,0 -5.2,0M137.4,152.7a2.6,2.6 0 1,0 5.2,0a2.6,2.6 0 1,0 -5.2,0M113.1,180.3a2.6,2.6 0 1,0 5.2,0a2.6,2.6 0 1,0 -5.2,0M124.6,181.3a2.6,2.6 0 1,0 5.2,0a2.6,2.6 0 1,0 -5.2,0M122.8,182.2a2.6,2.6 0 1,0 5.2,0a2.6,2.6 0 1,0 -5.2,0M125.1,179.5a2.6,2.6 0 1,0 5.2,0a2.6,2.6 0 1,0 -5.2,0M113.8,174.0a2.6,2.6 0 1,0 5.2,0a2.6,2.6 0 1,0 -5.2,0M131.9,181.6a2.6,2.6 0 1,0 5.2,0a2.6,2.6 0 1,0 -5.2,0M125.2,159.0a2.6,2.6 0 1,0 5.2,0a2.6,2.6 0 1,0 -5.2,0M93.8,160.2a2.6,2.6 0 1,0 5.2,0a2.6,2.6 0 1,0 -5.2,0M127.9,165.6a2.6,2.6 0 1,0 5.2,0a2.6,2.6 0 1,0 -5.2,0M145.3,182.9a2.6,2.6 0 1,0 5.2,0a2.6,2.6 0 1,0 -5.2,0M97.8,162.7a2.6,2.6 0 1,0 5.2,0a2.6,2.6 0 1,0 -5.2,0M138.4,178.8a2.6,2.6 0 1,0 5.2,0a2.6,2.6 0 1,0 -5.2,0M114.4,183.0a2.6,2.6 0 1,0 5.2,0a2.6,2.6 0 1,0 -5.2,0M101.1,148.1a2.6,2.6 0 1,0 5.2,0a2.6,2.6 0 1,0 -5.2,0M116.6,140.8a2.6,2.6 0 1,0 5.2,0a2.6,2.6 0 1,0 -5.2,0M101.3,180.7a2.6,2.6 0 1,0 5.2,0a2.6,2.6 0 1,0 -5.2,0M143.3,155.8a2.6,2.6 0 1,0 5.2,0a2.6,2.6 0 1,0 -5.2,0M109.9,181.4a2.6,2.6 0 1,0 5.2,0a2.6,2.6 0 1,0 -5.2,0M104.6,159.7a2.6,2.6 0 1,0 5.2,0a2.6,2.6 0 1,0 -5.2,0M95.3,157.6a2.6,2.6 0 1,0 5.2,0a2.6,2.6 0 1,0 -5.2,0M134.2,159.5a2.6,2.6 0 1,0 5.2,0a2.6,2.6 0 1,0 -5.2,0M110.3,135.2a2.6,2.6 0 1,0 5.2,0a2.6,2.6 0 1,0 -5.2,0M144.8,158.1a2.6,2.6 0 1,0 5.2,0a2.6,2.6 0 1,0 -5.2,0M145.0,177.4a2.6,2.6 0 1,0 5.2,0a2.6,2.6 0 1,0 -5.2,0M133.6,139.3a2.6,2.6 0 1,0 5.2,0a2.6,2.6 0 1,0 -5.2,0M119.2,172.3a2.6,2.6 0 1,0 5.2,0a2.6,2.6 0 1,0 -5.2,0M115.2,161.8a2.6,2.6 0 1,0 5.2,0a2.6,2.6 0 1,0 -5.2,0M108.3,166.7a2.6,2.6 0 1,0 5.2,0a2.6,2.6 0 1,0 -5.2,0M144.6,147.4a2.6,2.6 0 1,0 5.2,0a2.6,2.6 0 1,0 -5.2,0M115.3,180.3a2.6,2.6 0 1,0 5.2,0a2.6,2.6 0 1,0 -5.2,0M132.6,169.4a2.6,2.6 0 1,0 5.2,0a2.6,2.6 0 1,0 -5.2,0M131.2,166.2a2.6,2.6 0 1,0 5.2,0a2.6,2.6 0 1,0 -5.2,0M131.1,158.9a2.6,2.6 0 1,0 5.2,0a2.6,2.6 0 1,0 -5.2,0M142.5,141.0a2.6,2.6 0 1,0 5.2,0a2.6,2.6 0 1,0 -5.2,0M96.2,172.2a2.6,2.6 0 1,0 5.2,0a2.6,2.6 0 1,0 -5.2,0M116.2,170.4a2.6,2.6 0 1,0 5.2,0a2.6,2.6 0 1,0 -5.2,0M126.5,155.1a2.6,2.6 0 1,0 5.2,0a2.6,2.6 0 1,0 -5.2,0M118.4,175.8a2.6,2.6 0 1,0 5.2,0a2.6,2.6 0 1,0 -5.2,0M125.8,163.1a2.6,2.6 0 1,0 5.2,0a2.6,2.6 0 1,0 -5.2,0M113.6,171.4a2.6,2.6 0 1,0 5.2,0a2.6,2.6 0 1,0 -5.2,0M111.1,157.6a2.6,2.6 0 1,0 5.2,0a2.6,2.6 0 1,0 -5.2,0M136.2,159.8a2.6,2.6 0 1,0 5.2,0a2.6,2.6 0 1,0 -5.2,0M116.6,154.3a2.6,2.6 0 1,0 5.2,0a2.6,2.6 0 1,0 -5.2,0M109.7,166.8a2.6,2.6 0 1,0 5.2,0a2.6,2.6 0 1,0 -5.2,0M121.7,174.8a2.6,2.6 0 1,0 5.2,0a2.6,2.6 0 1,0 -5.2,0M110.2,182.7a2.6,2.6 0 1,0 5.2,0a2.6,2.6 0 1,0 -5.2,0M111.9,158.7a2.6,2.6 0 1,0 5.2,0a2.6,2.6 0 1,0 -5.2,0M121.5,175.2a2.6,2.6 0 1,0 5.2,0a2.6,2.6 0 1,0 -5.2,0M126.4,183.1a2.6,2.6 0 1,0 5.2,0a2.6,2.6 0 1,0 -5.2,0M116.5,169.1a2.6,2.6 0 1,0 5.2,0a2.6,2.6 0 1,0 -5.2,0M94.9,173.3a2.6,2.6 0 1,0 5.2,0a2.6,2.6 0 1,0 -5.2,0M95.6,154.5a2.6,2.6 0 1,0 5.2,0a2.6,2.6 0 1,0 -5.2,0M106.2,172.3a2.6,2.6 0 1,0 5.2,0a2.6,2.6 0 1,0 -5.2,0M112.0,169.4a2.6,2.6 0 1,0 5.2,0a2.6,2.6 0 1,0 -5.2,0M106.3,152.2a2.6,2.6 0 1,0 5.2,0a2.6,2.6 0 1,0 -5.2,0M112.1,155.0a2.6,2.6 0 1,0 5.2,0a2.6,2.6 0 1,0 -5.2,0M109.3,177.6a2.6,2.6 0 1,0 5.2,0a2.6,2.6 0 1,0 -5.2,0M109.9,159.5a2.6,2.6 0 1,0 5.2,0a2.6,2.6 0 1,0 -5.2,0M143.8,139.3a2.6,2.6 0 1,0 5.2,0a2.6,2.6 0 1,0 -5.2,0M141.4,140.9a2.6,2.6 0 1,0 5.2,0a2.6,2.6 0 1,0 -5.2,0M141.3,144.8a2.6,2.6 0 1,0 5.2,0a2.6,2.6 0 1,0 -5.2,0M113.3,172.9a2.6,2.6 0 1,0 5.2,0a2.6,2.6 0 1,0 -5.2,0M139.9,137.4a2.6,2.6 0 1,0 5.2,0a2.6,2.6 0 1,0 -5.2,0M134.3,176.1a2.6,2.6 0 1,0 5.2,0a2.6,2.6 0 1,0 -5.2,0M114.2,168.0a2.6,2.6 0 1,0 5.2,0a2.6,2.6 0 1,0 -5.2,0M130.2,179.3a2.6,2.6 0 1,0 5.2,0a2.6,2.6 0 1,0 -5.2,0M101.1,160.5a2.6,2.6 0 1,0 5.2,0a2.6,2.6 0 1,0 -5.2,0M137.2,152.3a2.6,2.6 0 1,0 5.2,0a2.6,2.6 0 1,0 -5.2,0M130.9,154.2a2.6,2.6 0 1,0 5.2,0a2.6,2.6 0 1,0 -5.2,0M132.1,183.0a2.6,2.6 0 1,0 5.2,0a2.6,2.6 0 1,0 -5.2,0M125.7,135.8a2.6,2.6 0 1,0 5.2,0a2.6,2.6 0 1,0 -5.2,0M105.6,171.8a2.6,2.6 0 1,0 5.2,0a2.6,2.6 0 1,0 -5.2,0M111.2,151.3a2.6,2.6 0 1,0 5.2,0a2.6,2.6 0 1,0 -5.2,0M124.9,139.7a2.6,2.6 0 1,0 5.2,0a2.6,2.6 0 1,0 -5.2,0M129.3,149.0a2.6,2.6 0 1,0 5.2,0a2.6,2.6 0 1,0 -5.2,0M104.6,162.5a2.6,2.6 0 1,0 5.2,0a2.6,2.6 0 1,0 -5.2,0M140.8,161.8a2.6,2.6 0 1,0 5.2,0a2.6,2.6 0 1,0 -5.2,0M99.2,178.2a2.6,2.6 0 1,0 5.2,0a2.6,2.6 0 1,0 -5.2,0M94.7,168.8a2.6,2.6 0 1,0 5.2,0a2.6,2.6 0 1,0 -5.2,0M143.5,146.5a2.6,2.6 0 1,0 5.2,0a2.6,2.6 0 1,0 -5.2,0M109.0,154.6a2.6,2.6 0 1,0 5.2,0a2.6,2.6 0 1,0 -5.2,0M110.6,155.5a2.6,2.6 0 1,0 5.2,0a2.6,2.6 0 1,0 -5.2,0M134.1,154.6a2.6,2.6 0 1,0 5.2,0a2.6,2.6 0 1,0 -5.2,0M125.8,170.2a2.6,2.6 0 1,0 5.2,0a2.6,2.6 0 1,0 -5.2,0M95.4,136.0a2.6,2.6 0 1,0 5.2,0a2.6,2.6 0 1,0 -5.2,0M117.3,170.7a2.6,2.6 0 1,0 5.2,0a2.6,2.6 0 1,0 -5.2,0M144.2,176.6a2.6,2.6 0 1,0 5.2,0a2.6,2.6 0 1,0 -5.2,0M95.5,155.3a2.6,2.6 0 1,0 5.2,0a2.6,2.6 0 1,0 -5.2,0M120.4,177.3a2.6,2.6 0 1,0 5.2,0a2.6,2.6 0 1,0 -5.2,0M138.0,136.3a2.6,2.6 0 1,0 5.2,0a2.6,2.6 0 1,0 -5.2,0M106.7,160.0a2.6,2.6 0 1,0 5.2,0a2.6,2.6 0 1,0 -5.2,0M103.3,179.1a2.6,2.6 0 1,0 5.2,0a2.6,2.6 0 1,0 -5.2,0M141.1,182.4a2.6,2.6 0 1,0 5.2,0a2.6,2.6 0 1,0 -5.2,0M131.5,158.7a2.6,2.6 0 1,0 5.2,0a2.6,2.6 0 1,0 -5.2,0M147.3,181.8a2.6,2.6 0 1,0 5.2,0a2.6,2.6 0 1,0 -5.2,0M113.7,181.4a2.6,2.6 0 1,0 5.2,0a2.6,2.6 0 1,0 -5.2,0M102.6,167.5a2.6,2.6 0 1,0 5.2,0a2.6,2.6 0 1,0 -5.2,0M94.1,166.0a2.6,2.6 0 1,0 5.2,0a2.6,2.6 0 1,0 -5.2,0M137.0,146.1a2.6,2.6 0 1,0 5.2,0a2.6,2.6 0 1,0 -5.2,0M104.6,178.7a2.6,2.6 0 1,0 5.2,0a2.6,2.6 0 1,0 -5.2,0M140.2,143.6a2.6,2.6 0 1,0 5.2,0a2.6,2.6 0 1,0 -5.2,0M104.9,167.9a2.6,2.6 0 1,0 5.2,0a2.6,2.6 0 1,0 -5.2,0M110.1,144.6a2.6,2.6 0 1,0 5.2,0a2.6,2.6 0 1,0 -5.2,0M140.5,177.9a2.6,2.6 0 1,0 5.2,0a2.6,2.6 0 1,0 -5.2,0M105.1,181.6a2.6,2.6 0 1,0 5.2,0a2.6,2.6 0 1,0 -5.2,0M101.1,166.5a2.6,2.6 0 1,0 5.2,0a2.6,2.6 0 1,0 -5.2,0M108.7,175.5a2.6,2.6 0 1,0 5.2,0a2.6,2.6 0 1,0 -5.2,0M130.9,164.6a2.6,2.6 0 1,0 5.2,0a2.6,2.6 0 1,0 -5.2,0M100.0,146.6a2.6,2.6 0 1,0 5.2,0a2.6,2.6 0 1,0 -5.2,0M128.8,142.5a2.6,2.6 0 1,0 5.2,0a2.6,2.6 0 1,0 -5.2,0M102.6,180.2a2.6,2.6 0 1,0 5.2,0a2.6,2.6 0 1,0 -5.2,0M121.0,173.9a2.6,2.6 0 1,0 5.2,0a2.6,2.6 0 1,0 -5.2,0M137.7,172.0a2.6,2.6 0 1,0 5.2,0a2.6,2.6 0 1,0 -5.2,0M111.1,177.1a2.6,2.6 0 1,0 5.2,0a2.6,2.6 0 1,0 -5.2,0M95.3,165.1a2.6,2.6 0 1,0 5.2,0a2.6,2.6 0 1,0 -5.2,0M97.1,181.4a2.6,2.6 0 1,0 5.2,0a2.6,2.6 0 1,0 -5.2,0M104.0,176.2a2.6,2.6 0 1,0 5.2,0a2.6,2.6 0 1,0 -5.2,0M109.3,181.0a2.6,2.6 0 1,0 5.2,0a2.6,2.6 0 1,0 -5.2,0M116.9,165.6a2.6,2.6 0 1,0 5.2,0a2.6,2.6 0 1,0 -5.2,0M100.0,138.8a2.6,2.6 0 1,0 5.2,0a2.6,2.6 0 1,0 -5.2,0M139.9,177.9a2.6,2.6 0 1,0 5.2,0a2.6,2.6 0 1,0 -5.2,0M102.5,142.4a2.6,2.6 0 1,0 5.2,0a2.6,2.6 0 1,0 -5.2,0M116.0,171.6a2.6,2.6 0 1,0 5.2,0a2.6,2.6 0 1,0 -5.2,0M128.7,150.9a2.6,2.6 0 1,0 5.2,0a2.6,2.6 0 1,0 -5.2,0M128.8,145.2a2.6,2.6 0 1,0 5.2,0a2.6,2.6 0 1,0 -5.2,0M109.3,158.5a2.6,2.6 0 1,0 5.2,0a2.6,2.6 0 1,0 -5.2,0M111.2,152.5a2.6,2.6 0 1,0 5.2,0a2.6,2.6 0 1,0 -5.2,0M115.8,157.2a2.6,2.6 0 1,0 5.2,0a2.6,2.6 0 1,0 -5.2,0M136.8,139.5a2.6,2.6 0 1,0 5.2,0a2.6,2.6 0 1,0 -5.2,0M96.0,149.1a2.6,2.6 0 1,0 5.2,0a2.6,2.6 0 1,0 -5.2,0M114.8,167.2a2.6,2.6 0 1,0 5.2,0a2.6,2.6 0 1,0 -5.2,0M106.9,172.6a2.6,2.6 0 1,0 5.2,0a2.6,2.6 0 1,0 -5.2,0M141.4,177.7a2.6,2.6 0 1,0 5.2,0a2.6,2.6 0 1,0 -5.2,0M105.6,163.0a2.6,2.6 0 1,0 5.2,0a2.6,2.6 0 1,0 -5.2,0M97.9,175.0a2.6,2.6 0 1,0 5.2,0a2.6,2.6 0 1,0 -5.2,0M101.8,174.8a2.6,2.6 0 1,0 5.2,0a2.6,2.6 0 1,0 -5.2,0M105.2,142.7a2.6,2.6 0 1,0 5.2,0a2.6,2.6 0 1,0 -5.2,0M132.9,153.6a2.6,2.6 0 1,0 5.2,0a2.6,2.6 0 1,0 -5.2,0M128.0,161.8a2.6,2.6 0 1,0 5.2,0a2.6,2.6 0 1,0 -5.2,0M126.5,145.2a2.6,2.6 0 1,0 5.2,0a2.6,2.6 0 1,0 -5.2,0M95.4,162.4a2.6,2.6 0 1,0 5.2,0a2.6,2.6 0 1,0 -5.2,0M146.0,168.3a2.6,2.6 0 1,0 5.2,0a2.6,2.6 0 1,0 -5.2,0M106.0,154.4a2.6,2.6 0 1,0 5.2,0a2.6,2.6 0 1,0 -5.2,0M109.4,158.4a2.6,2.6 0 1,0 5.2,0a2.6,2.6 0 1,0 -5.2,0M94.1,175.8a2.6,2.6 0 1,0 5.2,0a2.6,2.6 0 1,0 -5.2,0M143.6,171.5a2.6,2.6 0 1,0 5.2,0a2.6,2.6 0 1,0 -5.2,0M132.5,160.7a2.6,2.6 0 1,0 5.2,0a2.6,2.6 0 1,0 -5.2,0M112.1,175.4a2.6,2.6 0 1,0 5.2,0a2.6,2.6 0 1,0 -5.2,0M134.4,140.4a2.6,2.6 0 1,0 5.2,0a2.6,2.6 0 1,0 -5.2,0M121.0,181.7a2.6,2.6 0 1,0 5.2,0a2.6,2.6 0 1,0 -5.2,0M117.2,143.1a2.6,2.6 0 1,0 5.2,0a2.6,2.6 0 1,0 -5.2,0M137.6,136.0a2.6,2.6 0 1,0 5.2,0a2.6,2.6 0 1,0 -5.2,0M107.3,158.0a2.6,2.6 0 1,0 5.2,0a2.6,2.6 0 1,0 -5.2,0M138.5,175.7a2.6,2.6 0 1,0 5.2,0a2.6,2.6 0 1,0 -5.2,0M131.9,147.3a2.6,2.6 0 1,0 5.2,0a2.6,2.6 0 1,0 -5.2,0M134.8,166.3a2.6,2.6 0 1,0 5.2,0a2.6,2.6 0 1,0 -5.2,0M112.0,152.9a2.6,2.6 0 1,0 5.2,0a2.6,2.6 0 1,0 -5.2,0M135.1,171.3a2.6,2.6 0 1,0 5.2,0a2.6,2.6 0 1,0 -5.2,0M98.1,175.3a2.6,2.6 0 1,0 5.2,0a2.6,2.6 0 1,0 -5.2,0M134.9,137.8a2.6,2.6 0 1,0 5.2,0a2.6,2.6 0 1,0 -5.2,0M93.2,180.6a2.6,2.6 0 1,0 5.2,0a2.6,2.6 0 1,0 -5.2,0M98.7,181.2a2.6,2.6 0 1,0 5.2,0a2.6,2.6 0 1,0 -5.2,0M93.5,148.9a2.6,2.6 0 1,0 5.2,0a2.6,2.6 0 1,0 -5.2,0M115.6,149.3a2.6,2.6 0 1,0 5.2,0a2.6,2.6 0 1,0 -5.2,0M145.4,171.8a2.6,2.6 0 1,0 5.2,0a2.6,2.6 0 1,0 -5.2,0M103.6,169.2a2.6,2.6 0 1,0 5.2,0a2.6,2.6 0 1,0 -5.2,0M94.5,154.2a2.6,2.6 0 1,0 5.2,0a2.6,2.6 0 1,0 -5.2,0M97.5,158.8a2.6,2.6 0 1,0 5.2,0a2.6,2.6 0 1,0 -5.2,0M132.5,156.3a2.6,2.6 0 1,0 5.2,0a2.6,2.6 0 1,0 -5.2,0M129.2,166.5a2.6,2.6 0 1,0 5.2,0a2.6,2.6 0 1,0 -5.2,0M146.8,136.0a2.6,2.6 0 1,0 5.2,0a2.6,2.6 0 1,0 -5.2,0M144.9,178.0a2.6,2.6 0 1,0 5.2,0a2.6,2.6 0 1,0 -5.2,0M127.5,157.2a2.6,2.6 0 1,0 5.2,0a2.6,2.6 0 1,0 -5.2,0M142.1,175.9a2.6,2.6 0 1,0 5.2,0a2.6,2.6 0 1,0 -5.2,0M123.5,170.8a2.6,2.6 0 1,0 5.2,0a2.6,2.6 0 1,0 -5.2,0M94.3,172.3a2.6,2.6 0 1,0 5.2,0a2.6,2.6 0 1,0 -5.2,0M135.3,146.3a2.6,2.6 0 1,0 5.2,0a2.6,2.6 0 1,0 -5.2,0M99.5,159.8a2.6,2.6 0 1,0 5.2,0a2.6,2.6 0 1,0 -5.2,0M102.4,171.0a2.6,2.6 0 1,0 5.2,0a2.6,2.6 0 1,0 -5.2,0M110.2,161.9a2.6,2.6 0 1,0 5.2,0a2.6,2.6 0 1,0 -5.2,0M142.7,165.4a2.6,2.6 0 1,0 5.2,0a2.6,2.6 0 1,0 -5.2,0M100.7,161.5a2.6,2.6 0 1,0 5.2,0a2.6,2.6 0 1,0 -5.2,0M147.6,174.7a2.6,2.6 0 1,0 5.2,0a2.6,2.6 0 1,0 -5.2,0M118.3,169.2a2.6,2.6 0 1,0 5.2,0a2.6,2.6 0 1,0 -5.2,0M113.1,165.5a2.6,2.6 0 1,0 5.2,0a2.6,2.6 0 1,0 -5.2,0M131.7,180.4a2.6,2.6 0 1,0 5.2,0a2.6,2.6 0 1,0 -5.2,0M121.6,182.7a2.6,2.6 0 1,0 5.2,0a2.6,2.6 0 1,0 -5.2,0M141.1,159.1a2.6,2.6 0 1,0 5.2,0a2.6,2.6 0 1,0 -5.2,0M115.5,175.8a2.6,2.6 0 1,0 5.2,0a2.6,2.6 0 1,0 -5.2,0M138.4,147.7a2.6,2.6 0 1,0 5.2,0a2.6,2.6 0 1,0 -5.2,0M115.8,182.4a2.6,2.6 0 1,0 5.2,0a2.6,2.6 0 1,0 -5.2,0M100.4,175.2a2.6,2.6 0 1,0 5.2,0a2.6,2.6 0 1,0 -5.2,0M96.2,157.3a2.6,2.6 0 1,0 5.2,0a2.6,2.6 0 1,0 -5.2,0M122.3,178.6a2.6,2.6 0 1,0 5.2,0a2.6,2.6 0 1,0 -5.2,0M143.3,167.2a2.6,2.6 0 1,0 5.2,0a2.6,2.6 0 1,0 -5.2,0M94.2,172.3a2.6,2.6 0 1,0 5.2,0a2.6,2.6 0 1,0 -5.2,0M135.3,173.5a2.6,2.6 0 1,0 5.2,0a2.6,2.6 0 1,0 -5.2,0M132.9,174.8a2.6,2.6 0 1,0 5.2,0a2.6,2.6 0 1,0 -5.2,0M144.2,136.3a2.6,2.6 0 1,0 5.2,0a2.6,2.6 0 1,0 -5.2,0M136.9,171.4a2.6,2.6 0 1,0 5.2,0a2.6,2.6 0 1,0 -5.2,0M94.5,179.1a2.6,2.6 0 1,0 5.2,0a2.6,2.6 0 1,0 -5.2,0M141.6,140.5a2.6,2.6 0 1,0 5.2,0a2.6,2.6 0 1,0 -5.2,0M107.3,177.7a2.6,2.6 0 1,0 5.2,0a2.6,2.6 0 1,0 -5.2,0M141.6,151.5a2.6,2.6 0 1,0 5.2,0a2.6,2.6 0 1,0 -5.2,0M102.8,155.8a2.6,2.6 0 1,0 5.2,0a2.6,2.6 0 1,0 -5.2,0M145.9,152.6a2.6,2.6 0 1,0 5.2,0a2.6,2.6 0 1,0 -5.2,0M147.6,149.4a2.6,2.6 0 1,0 5.2,0a2.6,2.6 0 1,0 -5.2,0M109.1,176.9a2.6,2.6 0 1,0 5.2,0a2.6,2.6 0 1,0 -5.2,0M135.0,182.0a2.6,2.6 0 1,0 5.2,0a2.6,2.6 0 1,0 -5.2,0M135.6,166.7a2.6,2.6 0 1,0 5.2,0a2.6,2.6 0 1,0 -5.2,0M96.7,166.1a2.6,2.6 0 1,0 5.2,0a2.6,2.6 0 1,0 -5.2,0M130.2,174.7a2.6,2.6 0 1,0 5.2,0a2.6,2.6 0 1,0 -5.2,0M137.9,147.2a2.6,2.6 0 1,0 5.2,0a2.6,2.6 0 1,0 -5.2,0M140.1,179.4a2.6,2.6 0 1,0 5.2,0a2.6,2.6 0 1,0 -5.2,0M107.0,163.7a2.6,2.6 0 1,0 5.2,0a2.6,2.6 0 1,0 -5.2,0M123.9,162.3a2.6,2.6 0 1,0 5.2,0a2.6,2.6 0 1,0 -5.2,0M147.4,182.9a2.6,2.6 0 1,0 5.2,0a2.6,2.6 0 1,0 -5.2,0M131.9,147.2a2.6,2.6 0 1,0 5.2,0a2.6,2.6 0 1,0 -5.2,0M100.6,169.8a2.6,2.6 0 1,0 5.2,0a2.6,2.6 0 1,0 -5.2,0M114.4,165.5a2.6,2.6 0 1,0 5.2,0a2.6,2.6 0 1,0 -5.2,0M111.2,177.6a2.6,2.6 0 1,0 5.2,0a2.6,2.6 0 1,0 -5.2,0M131.8,168.1a2.6,2.6 0 1,0 5.2,0a2.6,2.6 0 1,0 -5.2,0M113.0,165.8a2.6,2.6 0 1,0 5.2,0a2.6,2.6 0 1,0 -5.2,0M95.2,158.7a2.6,2.6 0 1,0 5.2,0a2.6,2.6 0 1,0 -5.2,0M139.7,182.0a2.6,2.6 0 1,0 5.2,0a2.6,2.6 0 1,0 -5.2,0M105.5,166.9a2.6,2.6 0 1,0 5.2,0a2.6,2.6 0 1,0 -5.2,0M111.9,164.1a2.6,2.6 0 1,0 5.2,0a2.6,2.6 0 1,0 -5.2,0M147.7,137.9a2.6,2.6 0 1,0 5.2,0a2.6,2.6 0 1,0 -5.2,0M139.2,159.0a2.6,2.6 0 1,0 5.2,0a2.6,2.6 0 1,0 -5.2,0M108.2,154.3a2.6,2.6 0 1,0 5.2,0a2.6,2.6 0 1,0 -5.2,0M106.6,166.3a2.6,2.6 0 1,0 5.2,0a2.6,2.6 0 1,0 -5.2,0M94.5,163.9a2.6,2.6 0 1,0 5.2,0a2.6,2.6 0 1,0 -5.2,0M123.6,135.8a2.6,2.6 0 1,0 5.2,0a2.6,2.6 0 1,0 -5.2,0M100.9,167.4a2.6,2.6 0 1,0 5.2,0a2.6,2.6 0 1,0 -5.2,0M124.5,135.0a2.6,2.6 0 1,0 5.2,0a2.6,2.6 0 1,0 -5.2,0M102.6,158.3a2.6,2.6 0 1,0 5.2,0a2.6,2.6 0 1,0 -5.2,0M141.6,140.4a2.6,2.6 0 1,0 5.2,0a2.6,2.6 0 1,0 -5.2,0M94.7,159.9a2.6,2.6 0 1,0 5.2,0a2.6,2.6 0 1,0 -5.2,0M113.0,146.5a2.6,2.6 0 1,0 5.2,0a2.6,2.6 0 1,0 -5.2,0M145.1,146.5a2.6,2.6 0 1,0 5.2,0a2.6,2.6 0 1,0 -5.2,0M104.3,168.7a2.6,2.6 0 1,0 5.2,0a2.6,2.6 0 1,0 -5.2,0M141.5,171.0a2.6,2.6 0 1,0 5.2,0a2.6,2.6 0 1,0 -5.2,0M145.0,138.8a2.6,2.6 0 1,0 5.2,0a2.6,2.6 0 1,0 -5.2,0M100.9,171.0a2.6,2.6 0 1,0 5.2,0a2.6,2.6 0 1,0 -5.2,0M108.1,148.8a2.6,2.6 0 1,0 5.2,0a2.6,2.6 0 1,0 -5.2,0M107.8,177.0a2.6,2.6 0 1,0 5.2,0a2.6,2.6 0 1,0 -5.2,0M146.7,164.1a2.6,2.6 0 1,0 5.2,0a2.6,2.6 0 1,0 -5.2,0M147.4,169.0a2.6,2.6 0 1,0 5.2,0a2.6,2.6 0 1,0 -5.2,0M103.5,173.2a2.6,2.6 0 1,0 5.2,0a2.6,2.6 0 1,0 -5.2,0M124.5,174.7a2.6,2.6 0 1,0 5.2,0a2.6,2.6 0 1,0 -5.2,0M143.1,137.0a2.6,2.6 0 1,0 5.2,0a2.6,2.6 0 1,0 -5.2,0M141.2,155.2a2.6,2.6 0 1,0 5.2,0a2.6,2.6 0 1,0 -5.2,0M135.9,165.2a2.6,2.6 0 1,0 5.2,0a2.6,2.6 0 1,0 -5.2,0M132.2,160.1a2.6,2.6 0 1,0 5.2,0a2.6,2.6 0 1,0 -5.2,0M111.2,145.1a2.6,2.6 0 1,0 5.2,0a2.6,2.6 0 1,0 -5.2,0M124.3,154.8a2.6,2.6 0 1,0 5.2,0a2.6,2.6 0 1,0 -5.2,0M100.4,178.8a2.6,2.6 0 1,0 5.2,0a2.6,2.6 0 1,0 -5.2,0M130.2,175.7a2.6,2.6 0 1,0 5.2,0a2.6,2.6 0 1,0 -5.2,0M116.0,142.1a2.6,2.6 0 1,0 5.2,0a2.6,2.6 0 1,0 -5.2,0M104.1,160.9a2.6,2.6 0 1,0 5.2,0a2.6,2.6 0 1,0 -5.2,0M123.6,159.3a2.6,2.6 0 1,0 5.2,0a2.6,2.6 0 1,0 -5.2,0M117.7,177.5a2.6,2.6 0 1,0 5.2,0a2.6,2.6 0 1,0 -5.2,0M100.8,178.4a2.6,2.6 0 1,0 5.2,0a2.6,2.6 0 1,0 -5.2,0M109.6,175.5a2.6,2.6 0 1,0 5.2,0a2.6,2.6 0 1,0 -5.2,0M140.9,171.2a2.6,2.6 0 1,0 5.2,0a2.6,2.6 0 1,0 -5.2,0M114.3,160.8a2.6,2.6 0 1,0 5.2,0a2.6,2.6 0 1,0 -5.2,0M106.4,169.2a2.6,2.6 0 1,0 5.2,0a2.6,2.6 0 1,0 -5.2,0M100.5,154.8a2.6,2.6 0 1,0 5.2,0a2.6,2.6 0 1,0 -5.2,0M110.4,166.7a2.6,2.6 0 1,0 5.2,0a2.6,2.6 0 1,0 -5.2,0M106.9,162.9a2.6,2.6 0 1,0 5.2,0a2.6,2.6 0 1,0 -5.2,0M138.4,138.0a2.6,2.6 0 1,0 5.2,0a2.6,2.6 0 1,0 -5.2,0M116.0,181.8a2.6,2.6 0 1,0 5.2,0a2.6,2.6 0 1,0 -5.2,0M133.9,156.9a2.6,2.6 0 1,0 5.2,0a2.6,2.6 0 1,0 -5.2,0M141.2,151.6a2.6,2.6 0 1,0 5.2,0a2.6,2.6 0 1,0 -5.2,0M134.3,176.9a2.6,2.6 0 1,0 5.2,0a2.6,2.6 0 1,0 -5.2,0M124.9,144.1a2.6,2.6 0 1,0 5.2,0a2.6,2.6 0 1,0 -5.2,0M145.9,179.0a2.6,2.6 0 1,0 5.2,0a2.6,2.6 0 1,0 -5.2,0M140.9,147.3a2.6,2.6 0 1,0 5.2,0a2.6,2.6 0 1,0 -5.2,0M120.6,176.4a2.6,2.6 0 1,0 5.2,0a2.6,2.6 0 1,0 -5.2,0M100.2,166.9a2.6,2.6 0 1,0 5.2,0a2.6,2.6 0 1,0 -5.2,0M147.1,168.3a2.6,2.6 0 1,0 5.2,0a2.6,2.6 0 1,0 -5.2,0M113.4,160.2a2.6,2.6 0 1,0 5.2,0a2.6,2.6 0 1,0 -5.2,0M98.6,157.0a2.6,2.6 0 1,0 5.2,0a2.6,2.6 0 1,0 -5.2,0M131.8,181.8a2.6,2.6 0 1,0 5.2,0a2.6,2.6 0 1,0 -5.2,0M102.3,147.0a2.6,2.6 0 1,0 5.2,0a2.6,2.6 0 1,0 -5.2,0M94.2,162.4a2.6,2.6 0 1,0 5.2,0a2.6,2.6 0 1,0 -5.2,0M137.5,140.3a2.6,2.6 0 1,0 5.2,0a2.6,2.6 0 1,0 -5.2,0M143.6,177.3a2.6,2.6 0 1,0 5.2,0a2.6,2.6 0 1,0 -5.2,0M123.7,166.1a2.6,2.6 0 1,0 5.2,0a2.6,2.6 0 1,0 -5.2,0M116.7,137.7a2.6,2.6 0 1,0 5.2,0a2.6,2.6 0 1,0 -5.2,0M115.8,157.0a2.6,2.6 0 1,0 5.2,0a2.6,2.6 0 1,0 -5.2,0M127.7,163.3a2.6,2.6 0 1,0 5.2,0a2.6,2.6 0 1,0 -5.2,0M98.9,165.0a2.6,2.6 0 1,0 5.2,0a2.6,2.6 0 1,0 -5.2,0M141.6,140.5a2.6,2.6 0 1,0 5.2,0a2.6,2.6 0 1,0 -5.2,0M142.8,183.0a2.6,2.6 0 1,0 5.2,0a2.6,2.6 0 1,0 -5.2,0M131.1,135.2a2.6,2.6 0 1,0 5.2,0a2.6,2.6 0 1,0 -5.2,0M146.7,164.9a2.6,2.6 0 1,0 5.2,0a2.6,2.6 0 1,0 -5.2,0M140.4,146.5a2.6,2.6 0 1,0 5.2,0a2.6,2.6 0 1,0 -5.2,0M106.9,164.4a2.6,2.6 0 1,0 5.2,0a2.6,2.6 0 1,0 -5.2,0M100.0,146.2a2.6,2.6 0 1,0 5.2,0a2.6,2.6 0 1,0 -5.2,0M110.9,179.8a2.6,2.6 0 1,0 5.2,0a2.6,2.6 0 1,0 -5.2,0M128.3,167.0a2.6,2.6 0 1,0 5.2,0a2.6,2.6 0 1,0 -5.2,0M130.3,149.6a2.6,2.6 0 1,0 5.2,0a2.6,2.6 0 1,0 -5.2,0M140.9,134.8a2.6,2.6 0 1,0 5.2,0a2.6,2.6 0 1,0 -5.2,0M146.9,163.0a2.6,2.6 0 1,0 5.2,0a2.6,2.6 0 1,0 -5.2,0M98.8,180.7a2.6,2.6 0 1,0 5.2,0a2.6,2.6 0 1,0 -5.2,0M108.7,150.9a2.6,2.6 0 1,0 5.2,0a2.6,2.6 0 1,0 -5.2,0M124.1,156.3a2.6,2.6 0 1,0 5.2,0a2.6,2.6 0 1,0 -5.2,0M109.1,178.0a2.6,2.6 0 1,0 5.2,0a2.6,2.6 0 1,0 -5.2,0M122.3,175.8a2.6,2.6 0 1,0 5.2,0a2.6,2.6 0 1,0 -5.2,0M115.2,163.5a2.6,2.6 0 1,0 5.2,0a2.6,2.6 0 1,0 -5.2,0M147.6,177.4a2.6,2.6 0 1,0 5.2,0a2.6,2.6 0 1,0 -5.2,0M94.8,140.4a2.6,2.6 0 1,0 5.2,0a2.6,2.6 0 1,0 -5.2,0M130.4,135.2a2.6,2.6 0 1,0 5.2,0a2.6,2.6 0 1,0 -5.2,0M147.6,150.6a2.6,2.6 0 1,0 5.2,0a2.6,2.6 0 1,0 -5.2,0M109.6,145.2a2.6,2.6 0 1,0 5.2,0a2.6,2.6 0 1,0 -5.2,0M99.2,171.0a2.6,2.6 0 1,0 5.2,0a2.6,2.6 0 1,0 -5.2,0M137.1,179.5a2.6,2.6 0 1,0 5.2,0a2.6,2.6 0 1,0 -5.2,0M105.2,152.0a2.6,2.6 0 1,0 5.2,0a2.6,2.6 0 1,0 -5.2,0M141.3,148.2a2.6,2.6 0 1,0 5.2,0a2.6,2.6 0 1,0 -5.2,0M111.6,153.9a2.6,2.6 0 1,0 5.2,0a2.6,2.6 0 1,0 -5.2,0M131.7,177.0a2.6,2.6 0 1,0 5.2,0a2.6,2.6 0 1,0 -5.2,0M142.7,182.3a2.6,2.6 0 1,0 5.2,0a2.6,2.6 0 1,0 -5.2,0M131.6,161.0a2.6,2.6 0 1,0 5.2,0a2.6,2.6 0 1,0 -5.2,0M136.7,178.0a2.6,2.6 0 1,0 5.2,0a2.6,2.6 0 1,0 -5.2,0M99.5,172.4a2.6,2.6 0 1,0 5.2,0a2.6,2.6 0 1,0 -5.2,0M143.4,164.7a2.6,2.6 0 1,0 5.2,0a2.6,2.6 0 1,0 -5.2,0M94.9,174.2a2.6,2.6 0 1,0 5.2,0a2.6,2.6 0 1,0 -5.2,0M127.7,139.3a2.6,2.6 0 1,0 5.2,0a2.6,2.6 0 1,0 -5.2,0M146.5,171.4a2.6,2.6 0 1,0 5.2,0a2.6,2.6 0 1,0 -5.2,0M126.7,160.7a2.6,2.6 0 1,0 5.2,0a2.6,2.6 0 1,0 -5.2,0M147.4,136.5a2.6,2.6 0 1,0 5.2,0a2.6,2.6 0 1,0 -5.2,0M138.7,155.1a2.6,2.6 0 1,0 5.2,0a2.6,2.6 0 1,0 -5.2,0M103.4,168.7a2.6,2.6 0 1,0 5.2,0a2.6,2.6 0 1,0 -5.2,0M99.2,150.6a2.6,2.6 0 1,0 5.2,0a2.6,2.6 0 1,0 -5.2,0M129.5,176.4a2.6,2.6 0 1,0 5.2,0a2.6,2.6 0 1,0 -5.2,0M108.1,179.6a2.6,2.6 0 1,0 5.2,0a2.6,2.6 0 1,0 -5.2,0M141.8,181.9a2.6,2.6 0 1,0 5.2,0a2.6,2.6 0 1,0 -5.2,0M133.5,155.3a2.6,2.6 0 1,0 5.2,0a2.6,2.6 0 1,0 -5.2,0M142.8,155.8a2.6,2.6 0 1,0 5.2,0a2.6,2.6 0 1,0 -5.2,0M141.6,155.1a2.6,2.6 0 1,0 5.2,0a2.6,2.6 0 1,0 -5.2,0M106.9,155.0a2.6,2.6 0 1,0 5.2,0a2.6,2.6 0 1,0 -5.2,0M110.0,159.7a2.6,2.6 0 1,0 5.2,0a2.6,2.6 0 1,0 -5.2,0M138.2,138.7a2.6,2.6 0 1,0 5.2,0a2.6,2.6 0 1,0 -5.2,0M108.3,165.4a2.6,2.6 0 1,0 5.2,0a2.6,2.6 0 1,0 -5.2,0M128.1,178.9a2.6,2.6 0 1,0 5.2,0a2.6,2.6 0 1,0 -5.2,0M143.0,174.2a2.6,2.6 0 1,0 5.2,0a2.6,2.6 0 1,0 -5.2,0M142.5,167.7a2.6,2.6 0 1,0 5.2,0a2.6,2.6 0 1,0 -5.2,0M117.1,158.2a2.6,2.6 0 1,0 5.2,0a2.6,2.6 0 1,0 -5.2,0M126.7,169.9a2.6,2.6 0 1,0 5.2,0a2.6,2.6 0 1,0 -5.2,0M130.6,166.5a2.6,2.6 0 1,0 5.2,0a2.6,2.6 0 1,0 -5.2,0M124.4,172.5a2.6,2.6 0 1,0 5.2,0a2.6,2.6 0 1,0 -5.2,0M142.1,152.0a2.6,2.6 0 1,0 5.2,0a2.6,2.6 0 1,0 -5.2,0M95.2,145.1a2.6,2.6 0 1,0 5.2,0a2.6,2.6 0 1,0 -5.2,0M138.2,170.6a2.6,2.6 0 1,0 5.2,0a2.6,2.6 0 1,0 -5.2,0M131.1,121.1a2.6,2.6 0 1,0 5.2,0a2.6,2.6 0 1,0 -5.2,0M136.5,131.8a2.6,2.6 0 1,0 5.2,0a2.6,2.6 0 1,0 -5.2,0M137.8,116.9a2.6,2.6 0 1,0 5.2,0a2.6,2.6 0 1,0 -5.2,0M146.7,129.4a2.6,2.6 0 1,0 5.2,0a2.6,2.6 0 1,0 -5.2,0M138.4,124.0a2.6,2.6 0 1,0 5.2,0a2.6,2.6 0 1,0 -5.2,0M143.4,125.2a2.6,2.6 0 1,0 5.2,0a2.6,2.6 0 1,0 -5.2,0M128.1,133.4a2.6,2.6 0 1,0 5.2,0a2.6,2.6 0 1,0 -5.2,0M136.7,125.5a2.6,2.6 0 1,0 5.2,0a2.6,2.6 0 1,0 -5.2,0M128.7,133.9a2.6,2.6 0 1,0 5.2,0a2.6,2.6 0 1,0 -5.2,0M129.3,127.3a2.6,2.6 0 1,0 5.2,0a2.6,2.6 0 1,0 -5.2,0M136.9,126.4a2.6,2.6 0 1,0 5.2,0a2.6,2.6 0 1,0 -5.2,0M142.4,117.5a2.6,2.6 0 1,0 5.2,0a2.6,2.6 0 1,0 -5.2,0M147.7,132.0a2.6,2.6 0 1,0 5.2,0a2.6,2.6 0 1,0 -5.2,0M143.1,133.9a2.6,2.6 0 1,0 5.2,0a2.6,2.6 0 1,0 -5.2,0M117.2,124.7a2.6,2.6 0 1,0 5.2,0a2.6,2.6 0 1,0 -5.2,0M140.9,130.1a2.6,2.6 0 1,0 5.2,0a2.6,2.6 0 1,0 -5.2,0M102.6,126.1a2.6,2.6 0 1,0 5.2,0a2.6,2.6 0 1,0 -5.2,0M100.9,131.0a2.6,2.6 0 1,0 5.2,0a2.6,2.6 0 1,0 -5.2,0M141.1,123.5a2.6,2.6 0 1,0 5.2,0a2.6,2.6 0 1,0 -5.2,0M129.8,132.8a2.6,2.6 0 1,0 5.2,0a2.6,2.6 0 1,0 -5.2,0M144.8,126.8a2.6,2.6 0 1,0 5.2,0a2.6,2.6 0 1,0 -5.2,0M128.8,121.8a2.6,2.6 0 1,0 5.2,0a2.6,2.6 0 1,0 -5.2,0M143.4,119.0a2.6,2.6 0 1,0 5.2,0a2.6,2.6 0 1,0 -5.2,0M128.4,129.9a2.6,2.6 0 1,0 5.2,0a2.6,2.6 0 1,0 -5.2,0M109.9,126.2a2.6,2.6 0 1,0 5.2,0a2.6,2.6 0 1,0 -5.2,0M137.1,117.5a2.6,2.6 0 1,0 5.2,0a2.6,2.6 0 1,0 -5.2,0M127.1,132.7a2.6,2.6 0 1,0 5.2,0a2.6,2.6 0 1,0 -5.2,0M143.0,120.5a2.6,2.6 0 1,0 5.2,0a2.6,2.6 0 1,0 -5.2,0M131.3,122.6a2.6,2.6 0 1,0 5.2,0a2.6,2.6 0 1,0 -5.2,0M145.4,117.1a2.6,2.6 0 1,0 5.2,0a2.6,2.6 0 1,0 -5.2,0M135.6,127.2a2.6,2.6 0 1,0 5.2,0a2.6,2.6 0 1,0 -5.2,0M129.9,127.8a2.6,2.6 0 1,0 5.2,0a2.6,2.6 0 1,0 -5.2,0M135.0,126.2a2.6,2.6 0 1,0 5.2,0a2.6,2.6 0 1,0 -5.2,0M135.4,129.3a2.6,2.6 0 1,0 5.2,0a2.6,2.6 0 1,0 -5.2,0M134.2,133.7a2.6,2.6 0 1,0 5.2,0a2.6,2.6 0 1,0 -5.2,0M127.0,125.8a2.6,2.6 0 1,0 5.2,0a2.6,2.6 0 1,0 -5.2,0M133.2,128.9a2.6,2.6 0 1,0 5.2,0a2.6,2.6 0 1,0 -5.2,0M143.5,126.9a2.6,2.6 0 1,0 5.2,0a2.6,2.6 0 1,0 -5.2,0M138.0,123.3a2.6,2.6 0 1,0 5.2,0a2.6,2.6 0 1,0 -5.2,0M131.6,128.8a2.6,2.6 0 1,0 5.2,0a2.6,2.6 0 1,0 -5.2,0M131.3,132.3a2.6,2.6 0 1,0 5.2,0a2.6,2.6 0 1,0 -5.2,0M134.2,120.4a2.6,2.6 0 1,0 5.2,0a2.6,2.6 0 1,0 -5.2,0M137.8,117.7a2.6,2.6 0 1,0 5.2,0a2.6,2.6 0 1,0 -5.2,0M132.0,131.3a2.6,2.6 0 1,0 5.2,0a2.6,2.6 0 1,0 -5.2,0M127.8,125.0a2.6,2.6 0 1,0 5.2,0a2.6,2.6 0 1,0 -5.2,0M95.6,129.1a2.6,2.6 0 1,0 5.2,0a2.6,2.6 0 1,0 -5.2,0M126.5,123.2a2.6,2.6 0 1,0 5.2,0a2.6,2.6 0 1,0 -5.2,0M138.3,133.8a2.6,2.6 0 1,0 5.2,0a2.6,2.6 0 1,0 -5.2,0M138.2,118.3a2.6,2.6 0 1,0 5.2,0a2.6,2.6 0 1,0 -5.2,0M141.3,119.9a2.6,2.6 0 1,0 5.2,0a2.6,2.6 0 1,0 -5.2,0M93.6,132.6a2.6,2.6 0 1,0 5.2,0a2.6,2.6 0 1,0 -5.2,0M124.4,124.4a2.6,2.6 0 1,0 5.2,0a2.6,2.6 0 1,0 -5.2,0M128.8,129.8a2.6,2.6 0 1,0 5.2,0a2.6,2.6 0 1,0 -5.2,0M108.6,131.6a2.6,2.6 0 1,0 5.2,0a2.6,2.6 0 1,0 -5.2,0M147.0,120.1a2.6,2.6 0 1,0 5.2,0a2.6,2.6 0 1,0 -5.2,0M131.7,122.2a2.6,2.6 0 1,0 5.2,0a2.6,2.6 0 1,0 -5.2,0M133.4,125.7a2.6,2.6 0 1,0 5.2,0a2.6,2.6 0 1,0 -5.2,0M141.4,124.8a2.6,2.6 0 1,0 5.2,0a2.6,2.6 0 1,0 -5.2,0M133.8,119.5a2.6,2.6 0 1,0 5.2,0a2.6,2.6 0 1,0 -5.2,0M140.9,129.7a2.6,2.6 0 1,0 5.2,0a2.6,2.6 0 1,0 -5.2,0M131.6,127.2a2.6,2.6 0 1,0 5.2,0a2.6,2.6 0 1,0 -5.2,0M95.4,131.4a2.6,2.6 0 1,0 5.2,0a2.6,2.6 0 1,0 -5.2,0M129.9,127.8a2.6,2.6 0 1,0 5.2,0a2.6,2.6 0 1,0 -5.2,0M132.8,132.2a2.6,2.6 0 1,0 5.2,0a2.6,2.6 0 1,0 -5.2,0M125.6,129.6a2.6,2.6 0 1,0 5.2,0a2.6,2.6 0 1,0 -5.2,0M136.8,124.4a2.6,2.6 0 1,0 5.2,0a2.6,2.6 0 1,0 -5.2,0M137.4,130.7a2.6,2.6 0 1,0 5.2,0a2.6,2.6 0 1,0 -5.2,0M143.8,124.2a2.6,2.6 0 1,0 5.2,0a2.6,2.6 0 1,0 -5.2,0M127.5,121.2a2.6,2.6 0 1,0 5.2,0a2.6,2.6 0 1,0 -5.2,0M99.0,124.7a2.6,2.6 0 1,0 5.2,0a2.6,2.6 0 1,0 -5.2,0M100.1,127.6a2.6,2.6 0 1,0 5.2,0a2.6,2.6 0 1,0 -5.2,0M138.5,128.9a2.6,2.6 0 1,0 5.2,0a2.6,2.6 0 1,0 -5.2,0M131.5,133.6a2.6,2.6 0 1,0 5.2,0a2.6,2.6 0 1,0 -5.2,0M139.7,121.9a2.6,2.6 0 1,0 5.2,0a2.6,2.6 0 1,0 -5.2,0M129.8,117.4a2.6,2.6 0 1,0 5.2,0a2.6,2.6 0 1,0 -5.2,0M132.5,131.2a2.6,2.6 0 1,0 5.2,0a2.6,2.6 0 1,0 -5.2,0M141.5,123.3a2.6,2.6 0 1,0 5.2,0a2.6,2.6 0 1,0 -5.2,0M126.5,125.2a2.6,2.6 0 1,0 5.2,0a2.6,2.6 0 1,0 -5.2,0M131.2,120.9a2.6,2.6 0 1,0 5.2,0a2.6,2.6 0 1,0 -5.2,0M101.9,123.6a2.6,2.6 0 1,0 5.2,0a2.6,2.6 0 1,0 -5.2,0M144.3,131.8a2.6,2.6 0 1,0 5.2,0a2.6,2.6 0 1,0 -5.2,0M140.2,132.7a2.6,2.6 0 1,0 5.2,0a2.6,2.6 0 1,0 -5.2,0M139.0,129.7a2.6,2.6 0 1,0 5.2,0a2.6,2.6 0 1,0 -5.2,0M134.9,132.0a2.6,2.6 0 1,0 5.2,0a2.6,2.6 0 1,0 -5.2,0M125.5,125.2a2.6,2.6 0 1,0 5.2,0a2.6,2.6 0 1,0 -5.2,0M137.9,72.4a2.6,2.6 0 1,0 5.2,0a2.6,2.6 0 1,0 -5.2,0M140.1,76.2a2.6,2.6 0 1,0 5.2,0a2.6,2.6 0 1,0 -5.2,0M93.9,83.0a2.6,2.6 0 1,0 5.2,0a2.6,2.6 0 1,0 -5.2,0M97.7,81.1a2.6,2.6 0 1,0 5.2,0a2.6,2.6 0 1,0 -5.2,0M96.0,88.1a2.6,2.6 0 1,0 5.2,0a2.6,2.6 0 1,0 -5.2,0M105.0,87.5a2.6,2.6 0 1,0 5.2,0a2.6,2.6 0 1,0 -5.2,0M141.0,91.9a2.6,2.6 0 1,0 5.2,0a2.6,2.6 0 1,0 -5.2,0M144.5,94.7a2.6,2.6 0 1,0 5.2,0a2.6,2.6 0 1,0 -5.2,0M105.4,101.8a2.6,2.6 0 1,0 5.2,0a2.6,2.6 0 1,0 -5.2,0M110.1,102.1a2.6,2.6 0 1,0 5.2,0a2.6,2.6 0 1,0 -5.2,0M106.8,105.6a2.6,2.6 0 1,0 5.2,0a2.6,2.6 0 1,0 -5.2,0M104.0,108.9a2.6,2.6 0 1,0 5.2,0a2.6,2.6 0 1,0 -5.2,0M108.7,110.3a2.6,2.6 0 1,0 5.2,0a2.6,2.6 0 1,0 -5.2,0M113.4,112.9a2.6,2.6 0 1,0 5.2,0a2.6,2.6 0 1,0 -5.2,0M97.9,113.1a2.6,2.6 0 1,0 5.2,0a2.6,2.6 0 1,0 -5.2,0M135.1,100.7a2.6,2.6 0 1,0 5.2,0a2.6,2.6 0 1,0 -5.2,0M127.1,104.5a2.6,2.6 0 1,0 5.2,0a2.6,2.6 0 1,0 -5.2,0M129.0,107.5a2.6,2.6 0 1,0 5.2,0a2.6,2.6 0 1,0 -5.2,0M126.6,109.4a2.6,2.6 0 1,0 5.2,0a2.6,2.6 0 1,0 -5.2,0M134.6,106.5a2.6,2.6 0 1,0 5.2,0a2.6,2.6 0 1,0 -5.2,0M137.5,108.0a2.6,2.6 0 1,0 5.2,0a2.6,2.6 0 1,0 -5.2,0M142.2,111.2a2.6,2.6 0 1,0 5.2,0a2.6,2.6 0 1,0 -5.2,0M146.4,108.9a2.6,2.6 0 1,0 5.2,0a2.6,2.6 0 1,0 -5.2,0M123.8,113.1a2.6,2.6 0 1,0 5.2,0a2.6,2.6 0 1,0 -5.2,0M131.3,115.0a2.6,2.6 0 1,0 5.2,0a2.6,2.6 0 1,0 -5.2,0M136.5,114.1a2.6,2.6 0 1,0 5.2,0a2.6,2.6 0 1,0 -5.2,0M107.3,116.9a2.6,2.6 0 1,0 5.2,0a2.6,2.6 0 1,0 -5.2,0M143.6,115.0a2.6,2.6 0 1,0 5.2,0a2.6,2.6 0 1,0 -5.2,0" fill="#BFBFBF"/>
<circle cx="78.6" cy="34.1" r="2.6" fill="#4DBBD5"/>
<circle cx="66.7" cy="40.3" r="2.6" fill="#4DBBD5"/>
<circle cx="93.8" cy="74.6" r="2.6" fill="#4DBBD5"/>
<circle cx="82.9" cy="89.9" r="2.6" fill="#4DBBD5"/>
<circle cx="93.8" cy="90.6" r="2.6" fill="#4DBBD5"/>
<circle cx="84.6" cy="94.9" r="2.6" fill="#4DBBD5"/>
<circle cx="93" cy="98.3" r="2.6" fill="#4DBBD5"/>
<circle cx="93.8" cy="102.3" r="2.6" fill="#4DBBD5"/>
<circle cx="91.6" cy="105.7" r="2.6" fill="#4DBBD5"/>
<circle cx="81" cy="108.1" r="2.6" fill="#4DBBD5"/>
<circle cx="78.6" cy="112" r="2.6" fill="#4DBBD5"/>
<circle cx="85.8" cy="110.6" r="2.6" fill="#4DBBD5"/>
<circle cx="56.5" cy="126.2" r="2.6" fill="#4DBBD5"/>
<circle cx="74.9" cy="129.9" r="2.6" fill="#4DBBD5"/>
<circle cx="88" cy="125.5" r="2.6" fill="#4DBBD5"/>
<circle cx="88.7" cy="127.4" r="2.6" fill="#4DBBD5"/>
<circle cx="91.6" cy="132" r="2.6" fill="#4DBBD5"/>
<circle cx="87.7" cy="136.7" r="2.6" fill="#4DBBD5"/>
<circle cx="84.3" cy="140" r="2.6" fill="#4DBBD5"/>
<circle cx="76.8" cy="141.4" r="2.6" fill="#4DBBD5"/>
<circle cx="85.1" cy="142.9" r="2.6" fill="#4DBBD5"/>
<circle cx="90.1" cy="144.3" r="2.6" fill="#4DBBD5"/>
<circle cx="93.8" cy="145.1" r="2.6" fill="#4DBBD5"/>
<circle cx="90.9" cy="147.2" r="2.6" fill="#4DBBD5"/>
<circle cx="89.1" cy="152.3" r="2.6" fill="#4DBBD5"/>
<circle cx="88.7" cy="154.5" r="2.6" fill="#4DBBD5"/>
<circle cx="93" cy="153.8" r="2.6" fill="#4DBBD5"/>
<circle cx="90.9" cy="156.7" r="2.6" fill="#4DBBD5"/>
<circle cx="88.7" cy="158.8" r="2.6" fill="#4DBBD5"/>
<circle cx="93.8" cy="158.1" r="2.6" fill="#4DBBD5"/>
<circle cx="95.9" cy="162.5" r="2.6" fill="#4DBBD5"/>
<circle cx="90.9" cy="166.1" r="2.6" fill="#4DBBD5"/>
<circle cx="88" cy="168.3" r="2.6" fill="#4DBBD5"/>
<circle cx="93.8" cy="166.8" r="2.6" fill="#4DBBD5"/>
<circle cx="95.9" cy="136.4" r="2.6" fill="#4DBBD5"/>
<circle cx="89.1" cy="170.7" r="2.6" fill="#4DBBD5"/>
<circle cx="87.2" cy="178" r="2.6" fill="#4DBBD5"/>
<circle cx="93.8" cy="175.1" r="2.6" fill="#4DBBD5"/>
<circle cx="95.9" cy="175.8" r="2.6" fill="#4DBBD5"/>
<circle cx="158.9" cy="93.9" r="2.6" fill="#E64B35"/>
<circle cx="152.4" cy="112.4" r="2.6" fill="#E64B35"/>
<circle cx="153.5" cy="142.8" r="2.6" fill="#E64B35"/>
<circle cx="160.4" cy="145.2" r="2.6" fill="#E64B35"/>
<circle cx="162.6" cy="146.3" r="2.6" fill="#E64B35"/>
<circle cx="151.3" cy="150.4" r="2.6" fill="#E64B35"/>
<circle cx="163.9" cy="153.9" r="2.6" fill="#E64B35"/>
<circle cx="151.3" cy="164.1" r="2.6" fill="#E64B35"/>
<circle cx="163.3" cy="168" r="2.6" fill="#E64B35"/>
<circle cx="153.5" cy="171.7" r="2.6" fill="#E64B35"/>
<circle cx="155.2" cy="175.7" r="2.6" fill="#E64B35"/>
<circle cx="164.3" cy="175.7" r="2.6" fill="#E64B35"/>
<circle cx="167.6" cy="182.6" r="2.6" fill="#E64B35"/>
<g stroke="#111" stroke-width="1.65" stroke-dasharray="6,6.6">
<line x1="96" y1="245.3" x2="96" y2="24.7"/>
<line x1="150.6" y1="245.3" x2="150.6" y2="24.7"/>
<line x1="51.349999999999994" y1="183.2" x2="173" y2="183.2"/>
</g>
<g stroke="#111" stroke-width="0.9">
<line x1="145.6" y1="135" x2="152" y2="142.3" stroke="#000" stroke-width="1.3"/>
</g>
<defs><clipPath id="pa"><rect x="51.55" y="24.7" width="120.85000000000001" height="220.60000000000002"/></clipPath></defs>
<g clip-path="url(#pa)">
<text transform="translate(82.9,32.800000000000004) scale(1.0,1.1)" font-size="7.35" fill="#222" font-family="Liberation Sans, sans-serif">CX3CR1</text>
<text transform="translate(54.9,49.800000000000004) scale(1.0,1.1)" font-size="7.35" fill="#222" font-family="Liberation Sans, sans-serif">CCL5</text>
<text transform="translate(82.9,70.10000000000001) scale(1.0,1.1)" font-size="7.35" fill="#222" font-family="Liberation Sans, sans-serif">CDK2AP1</text>
<text transform="translate(69.9,85.3) scale(1.0,1.1)" font-size="7.35" fill="#222" font-family="Liberation Sans, sans-serif">F13A1</text>
<text transform="translate(88,99.9) scale(1.0,1.1)" font-size="7.35" fill="#222" font-family="Liberation Sans, sans-serif">M6PR</text>
<text transform="translate(144.8,103.10000000000001) scale(1.0,1.1)" font-size="7.35" fill="#222" font-family="Liberation Sans, sans-serif">RNF10</text>
<text transform="translate(140.4,122.0) scale(1.0,1.1)" font-size="7.35" fill="#222" font-family="Liberation Sans, sans-serif">EXT1</text>
<text transform="translate(118.4,137.29999999999998) scale(1.0,1.1)" font-size="7.35" fill="#222" font-family="Liberation Sans, sans-serif">COL9A2</text>
<text transform="translate(152.5,137.29999999999998) scale(1.0,1.1)" font-size="7.35" fill="#222" font-family="Liberation Sans, sans-serif">MAOA</text>
<text transform="translate(146.8,155.7) scale(1.0,1.1)" font-size="7.35" fill="#222" font-family="Liberation Sans, sans-serif">TMCC2</text>
</g>
<rect x="51.55" y="24.7" width="121.45" height="220.60000000000002" fill="none" stroke="#1e1e1e" stroke-width="1.25"/>
<line x1="48.5" y1="236.0" x2="51.55" y2="236.0" stroke="#111" stroke-width="1"/>
<text transform="translate(47,238.8) scale(1.0,1.1)" font-size="7.6" text-anchor="end" fill="#222" font-family="Liberation Sans, sans-serif">0</text>
<line x1="48.5" y1="195.4" x2="51.55" y2="195.4" stroke="#111" stroke-width="1"/>
<text transform="translate(47,198.20000000000002) scale(1.0,1.1)" font-size="7.6" text-anchor="end" fill="#222" font-family="Liberation Sans, sans-serif">1</text>
<line x1="48.5" y1="154.8" x2="51.55" y2="154.8" stroke="#111" stroke-width="1"/>
<text transform="translate(47,157.60000000000002) scale(1.0,1.1)" font-size="7.6" text-anchor="end" fill="#222" font-family="Liberation Sans, sans-serif">2</text>
<line x1="48.5" y1="114.19999999999999" x2="51.55" y2="114.19999999999999" stroke="#111" stroke-width="1"/>
<text transform="translate(47,116.99999999999999) scale(1.0,1.1)" font-size="7.6" text-anchor="end" fill="#222" font-family="Liberation Sans, sans-serif">3</text>
<line x1="48.5" y1="73.6" x2="51.55" y2="73.6" stroke="#111" stroke-width="1"/>
<text transform="translate(47,76.39999999999999) scale(1.0,1.1)" font-size="7.6" text-anchor="end" fill="#222" font-family="Liberation Sans, sans-serif">4</text>
<line x1="48.5" y1="33.0" x2="51.55" y2="33.0" stroke="#111" stroke-width="1"/>
<text transform="translate(47,35.8) scale(1.0,1.1)" font-size="7.6" text-anchor="end" fill="#222" font-family="Liberation Sans, sans-serif">5</text>
<line x1="68.3" y1="245.3" x2="68.3" y2="248.8" stroke="#111" stroke-width="1"/>
<text transform="translate(70.1,255.3) scale(1.0,1.1)" font-size="7.6" text-anchor="middle" fill="#222" font-family="Liberation Sans, sans-serif">−1.0</text>
<line x1="95.69999999999999" y1="245.3" x2="95.69999999999999" y2="248.8" stroke="#111" stroke-width="1"/>
<text transform="translate(96.89999999999999,255.3) scale(1.0,1.1)" font-size="7.6" text-anchor="middle" fill="#222" font-family="Liberation Sans, sans-serif">−0.5</text>
<line x1="123.1" y1="245.3" x2="123.1" y2="248.8" stroke="#111" stroke-width="1"/>
<text transform="translate(124.0,255.3) scale(1.0,1.1)" font-size="7.6" text-anchor="middle" fill="#222" font-family="Liberation Sans, sans-serif">0.0</text>
<line x1="150.5" y1="245.3" x2="150.5" y2="248.8" stroke="#111" stroke-width="1"/>
<text transform="translate(151.4,255.3) scale(1.0,1.1)" font-size="7.6" text-anchor="middle" fill="#222" font-family="Liberation Sans, sans-serif">0.5</text>
<text transform="translate(115.6,263) scale(1.0,1.1)" font-size="7.45" text-anchor="middle" fill="#222" font-family="Liberation Sans, sans-serif">log2(FoldChange)</text>
<text transform="translate(36.3,132.2) rotate(-90) scale(1.0,1.1)" font-size="7.6" text-anchor="middle" fill="#222" font-family="Liberation Sans, sans-serif">−log10(Pvalue)</text>
<text transform="translate(176.3,112) scale(1.0,1.1)" font-size="7.6" fill="#222" font-family="Liberation Sans, sans-serif">Significant</text>
<circle cx="184.3" cy="123.3" r="2.6" fill="#4DBBD5"/>
<text transform="translate(195.9,126.39999999999999) scale(1.0,1.1)" font-size="7.6" fill="#222" font-family="Liberation Sans, sans-serif">down</text>
<circle cx="184.3" cy="139.8" r="2.6" fill="#BFBFBF"/>
<text transform="translate(195.9,142.9) scale(1.0,1.1)" font-size="7.6" fill="#222" font-family="Liberation Sans, sans-serif">no</text>
<circle cx="184.3" cy="156.5" r="2.6" fill="#E64B35"/>
<text transform="translate(195.9,159.6) scale(1.0,1.1)" font-size="7.6" fill="#222" font-family="Liberation Sans, sans-serif">up</text>
<rect x="243.7" y="27.9" width="60.19999999999999" height="7.5" fill="#E64B35"/>
<rect x="303.9" y="27.9" width="33.80000000000001" height="7.5" fill="#4DBBD5"/>
<rect x="243.70" y="38.40" width="1.52" height="21.85" fill="#e8f6fa"/>
<rect x="245.17" y="38.40" width="1.52" height="21.85" fill="#e7f6f9"/>
<rect x="246.64" y="38.40" width="1.52" height="21.85" fill="#fef9f8"/>
<rect x="248.11" y="38.40" width="1.52" height="21.85" fill="#e6f5f9"/>
<rect x="249.57" y="38.40" width="1.52" height="21.85" fill="#fdedeb"/>
<rect x="251.04" y="38.40" width="1.52" height="21.85" fill="#fadad5"/>
<rect x="252.51" y="38.40" width="1.52" height="21.85" fill="#fdf1ef"/>
<rect x="253.98" y="38.40" width="1.52" height="21.85" fill="#feffff"/>
<rect x="255.45" y="38.40" width="1.52" height="21.85" fill="#e6f5f9"/>
<rect x="256.92" y="38.40" width="1.52" height="21.85" fill="#e8f6fa"/>
<rect x="258.39" y="38.40" width="1.52" height="21.85" fill="#fadad6"/>
<rect x="259.86" y="38.40" width="1.52" height="21.85" fill="#fbe2de"/>
<rect x="261.32" y="38.40" width="1.52" height="21.85" fill="#feffff"/>
<rect x="262.79" y="38.40" width="1.52" height="21.85" fill="#fdf0ee"/>
<rect x="264.26" y="38.40" width="1.52" height="21.85" fill="#fdeeec"/>
<rect x="265.73" y="38.40" width="1.52" height="21.85" fill="#fffdfd"/>
<rect x="267.20" y="38.40" width="1.52" height="21.85" fill="#fbe3df"/>
<rect x="268.67" y="38.40" width="1.52" height="21.85" fill="#fbe1dd"/>
<rect x="270.14" y="38.40" width="1.52" height="21.85" fill="#fdf0ee"/>
<rect x="271.61" y="38.40" width="1.52" height="21.85" fill="#fcecea"/>
<rect x="273.07" y="38.40" width="1.52" height="21.85" fill="#fdedeb"/>
<rect x="274.54" y="38.40" width="1.52" height="21.85" fill="#fbe1de"/>
<rect x="276.01" y="38.40" width="1.52" height="21.85" fill="#fadbd7"/>
<rect x="277.48" y="38.40" width="1.52" height="21.85" fill="#f7fcfd"/>
<rect x="278.95" y="38.40" width="1.52" height="21.85" fill="#fffdfc"/>
<rect x="280.42" y="38.40" width="1.52" height="21.85" fill="#fdf0ef"/>
<rect x="281.89" y="38.40" width="1.52" height="21.85" fill="#fdf1ef"/>
<rect x="283.36" y="38.40" width="1.52" height="21.85" fill="#fef7f6"/>
<rect x="284.82" y="38.40" width="1.52" height="21.85" fill="#ebf7fa"/>
<rect x="286.29" y="38.40" width="1.52" height="21.85" fill="#ebf7fa"/>
<rect x="287.76" y="38.40" width="1.52" height="21.85" fill="#fef5f4"/>
<rect x="289.23" y="38.40" width="1.52" height="21.85" fill="#e6f6f9"/>
<rect x="290.70" y="38.40" width="1.52" height="21.85" fill="#eaf7fa"/>
<rect x="292.17" y="38.40" width="1.52" height="21.85" fill="#fcecea"/>
<rect x="293.64" y="38.40" width="1.52" height="21.85" fill="#fdeeec"/>
<rect x="295.11" y="38.40" width="1.52" height="21.85" fill="#fadcd8"/>
<rect x="296.57" y="38.40" width="1.52" height="21.85" fill="#fbe1dd"/>
<rect x="298.04" y="38.40" width="1.52" height="21.85" fill="#f6bbb3"/>
<rect x="299.51" y="38.40" width="1.52" height="21.85" fill="#fdeeeb"/>
<rect x="300.98" y="38.40" width="1.52" height="21.85" fill="#fcecea"/>
<rect x="302.45" y="38.40" width="1.52" height="21.85" fill="#fef7f6"/>
<rect x="303.92" y="38.40" width="1.52" height="21.85" fill="#dbf1f6"/>
<rect x="305.39" y="38.40" width="1.52" height="21.85" fill="#daf1f6"/>
<rect x="306.86" y="38.40" width="1.52" height="21.85" fill="#ebf7fa"/>
<rect x="308.32" y="38.40" width="1.52" height="21.85" fill="#ebf7fa"/>
<rect x="309.79" y="38.40" width="1.52" height="21.85" fill="#ecf8fa"/>
<rect x="311.26" y="38.40" width="1.52" height="21.85" fill="#eaf7fa"/>
<rect x="312.73" y="38.40" width="1.52" height="21.85" fill="#faddd9"/>
<rect x="314.20" y="38.40" width="1.52" height="21.85" fill="#ecf8fb"/>
<rect x="315.67" y="38.40" width="1.52" height="21.85" fill="#e8f6f9"/>
<rect x="317.14" y="38.40" width="1.52" height="21.85" fill="#fcfefe"/>
<rect x="318.61" y="38.40" width="1.52" height="21.85" fill="#fbfdfe"/>
<rect x="320.07" y="38.40" width="1.52" height="21.85" fill="#fef8f7"/>
<rect x="321.54" y="38.40" width="1.52" height="21.85" fill="#fdefed"/>
<rect x="323.01" y="38.40" width="1.52" height="21.85" fill="#fdefee"/>
<rect x="324.48" y="38.40" width="1.52" height="21.85" fill="#ffffff"/>
<rect x="325.95" y="38.40" width="1.52" height="21.85" fill="#fefbfa"/>
<rect x="327.42" y="38.40" width="1.52" height="21.85" fill="#f6fbfd"/>
<rect x="328.89" y="38.40" width="1.52" height="21.85" fill="#fef5f4"/>
<rect x="330.36" y="38.40" width="1.52" height="21.85" fill="#ecf8fb"/>
<rect x="331.82" y="38.40" width="1.52" height="21.85" fill="#fefaf9"/>
<rect x="333.29" y="38.40" width="1.52" height="21.85" fill="#d4eff5"/>
<rect x="334.76" y="38.40" width="1.52" height="21.85" fill="#def2f7"/>
<rect x="336.23" y="38.40" width="1.52" height="21.85" fill="#d5eff5"/>
<text transform="translate(340.7,52.0) scale(1.0,1.1)" font-size="7.4" fill="#222" font-family="Liberation Sans, sans-serif">CCL5</text>
<rect x="243.70" y="60.20" width="1.52" height="21.85" fill="#fcfefe"/>
<rect x="245.17" y="60.20" width="1.52" height="21.85" fill="#fdeeec"/>
<rect x="246.64" y="60.20" width="1.52" height="21.85" fill="#f5fbfd"/>
<rect x="248.11" y="60.20" width="1.52" height="21.85" fill="#ecf8fa"/>
<rect x="249.57" y="60.20" width="1.52" height="21.85" fill="#f8fcfd"/>
<rect x="251.04" y="60.20" width="1.52" height="21.85" fill="#fef5f4"/>
<rect x="252.51" y="60.20" width="1.52" height="21.85" fill="#fdf0ee"/>
<rect x="253.98" y="60.20" width="1.52" height="21.85" fill="#fefaf9"/>
<rect x="255.45" y="60.20" width="1.52" height="21.85" fill="#e6f5f9"/>
<rect x="256.92" y="60.20" width="1.52" height="21.85" fill="#fcecea"/>
<rect x="258.39" y="60.20" width="1.52" height="21.85" fill="#fbe0dc"/>
<rect x="259.86" y="60.20" width="1.52" height="21.85" fill="#fbdfdc"/>
<rect x="261.32" y="60.20" width="1.52" height="21.85" fill="#fffefe"/>
<rect x="262.79" y="60.20" width="1.52" height="21.85" fill="#e7f6f9"/>
<rect x="264.26" y="60.20" width="1.52" height="21.85" fill="#fdf0ef"/>
<rect x="265.73" y="60.20" width="1.52" height="21.85" fill="#fadcd7"/>
<rect x="267.20" y="60.20" width="1.52" height="21.85" fill="#fef9f8"/>
<rect x="268.67" y="60.20" width="1.52" height="21.85" fill="#e6f6f9"/>
<rect x="270.14" y="60.20" width="1.52" height="21.85" fill="#f5fbfd"/>
<rect x="271.61" y="60.20" width="1.52" height="21.85" fill="#fef6f4"/>
<rect x="273.07" y="60.20" width="1.52" height="21.85" fill="#fdf1ef"/>
<rect x="274.54" y="60.20" width="1.52" height="21.85" fill="#fbe0dc"/>
<rect x="276.01" y="60.20" width="1.52" height="21.85" fill="#faddd9"/>
<rect x="277.48" y="60.20" width="1.52" height="21.85" fill="#fef6f5"/>
<rect x="278.95" y="60.20" width="1.52" height="21.85" fill="#fcfefe"/>
<rect x="280.42" y="60.20" width="1.52" height="21.85" fill="#fadad5"/>
<rect x="281.89" y="60.20" width="1.52" height="21.85" fill="#fdeeec"/>
<rect x="283.36" y="60.20" width="1.52" height="21.85" fill="#eaf7fa"/>
<rect x="284.82" y="60.20" width="1.52" height="21.85" fill="#fbfefe"/>
<rect x="286.29" y="60.20" width="1.52" height="21.85" fill="#f8fcfd"/>
<rect x="287.76" y="60.20" width="1.52" height="21.85" fill="#ecf8fa"/>
<rect x="289.23" y="60.20" width="1.52" height="21.85" fill="#ebf7fa"/>
<rect x="290.70" y="60.20" width="1.52" height="21.85" fill="#fadcd8"/>
<rect x="292.17" y="60.20" width="1.52" height="21.85" fill="#fcecea"/>
<rect x="293.64" y="60.20" width="1.52" height="21.85" fill="#fdf0ee"/>
<rect x="295.11" y="60.20" width="1.52" height="21.85" fill="#fdf1ef"/>
<rect x="296.57" y="60.20" width="1.52" height="21.85" fill="#fad9d5"/>
<rect x="298.04" y="60.20" width="1.52" height="21.85" fill="#fffefe"/>
<rect x="299.51" y="60.20" width="1.52" height="21.85" fill="#fdefed"/>
<rect x="300.98" y="60.20" width="1.52" height="21.85" fill="#fafdfe"/>
<rect x="302.45" y="60.20" width="1.52" height="21.85" fill="#e8f6fa"/>
<rect x="303.92" y="60.20" width="1.52" height="21.85" fill="#d5eff5"/>
<rect x="305.39" y="60.20" width="1.52" height="21.85" fill="#d9f0f6"/>
<rect x="306.86" y="60.20" width="1.52" height="21.85" fill="#e9f7fa"/>
<rect x="308.32" y="60.20" width="1.52" height="21.85" fill="#def2f7"/>
<rect x="309.79" y="60.20" width="1.52" height="21.85" fill="#e6f5f9"/>
<rect x="311.26" y="60.20" width="1.52" height="21.85" fill="#fdf1ef"/>
<rect x="312.73" y="60.20" width="1.52" height="21.85" fill="#fadeda"/>
<rect x="314.20" y="60.20" width="1.52" height="21.85" fill="#e6f6f9"/>
<rect x="315.67" y="60.20" width="1.52" height="21.85" fill="#ebf7fa"/>
<rect x="317.14" y="60.20" width="1.52" height="21.85" fill="#e7f6f9"/>
<rect x="318.61" y="60.20" width="1.52" height="21.85" fill="#e6f5f9"/>
<rect x="320.07" y="60.20" width="1.52" height="21.85" fill="#e8f6fa"/>
<rect x="321.54" y="60.20" width="1.52" height="21.85" fill="#e7f6f9"/>
<rect x="323.01" y="60.20" width="1.52" height="21.85" fill="#ebf8fa"/>
<rect x="324.48" y="60.20" width="1.52" height="21.85" fill="#fefeff"/>
<rect x="325.95" y="60.20" width="1.52" height="21.85" fill="#ebf7fa"/>
<rect x="327.42" y="60.20" width="1.52" height="21.85" fill="#fef8f7"/>
<rect x="328.89" y="60.20" width="1.52" height="21.85" fill="#fbfdfe"/>
<rect x="330.36" y="60.20" width="1.52" height="21.85" fill="#fadeda"/>
<rect x="331.82" y="60.20" width="1.52" height="21.85" fill="#fad9d4"/>
<rect x="333.29" y="60.20" width="1.52" height="21.85" fill="#e6f6f9"/>
<rect x="334.76" y="60.20" width="1.52" height="21.85" fill="#d3eef5"/>
<rect x="336.23" y="60.20" width="1.52" height="21.85" fill="#d9f0f6"/>
<text transform="translate(340.7,73.8) scale(1.0,1.1)" font-size="7.4" fill="#222" font-family="Liberation Sans, sans-serif">CX3CR1</text>
<rect x="243.70" y="82.00" width="1.52" height="21.85" fill="#ffffff"/>
<rect x="245.17" y="82.00" width="1.52" height="21.85" fill="#e7f6f9"/>
<rect x="246.64" y="82.00" width="1.52" height="21.85" fill="#fdefed"/>
<rect x="248.11" y="82.00" width="1.52" height="21.85" fill="#fbfdfe"/>
<rect x="249.57" y="82.00" width="1.52" height="21.85" fill="#fbdfdb"/>
<rect x="251.04" y="82.00" width="1.52" height="21.85" fill="#fdf0ee"/>
<rect x="252.51" y="82.00" width="1.52" height="21.85" fill="#fdefed"/>
<rect x="253.98" y="82.00" width="1.52" height="21.85" fill="#fad9d5"/>
<rect x="255.45" y="82.00" width="1.52" height="21.85" fill="#fef5f4"/>
<rect x="256.92" y="82.00" width="1.52" height="21.85" fill="#e8f6fa"/>
<rect x="258.39" y="82.00" width="1.52" height="21.85" fill="#d8f0f6"/>
<rect x="259.86" y="82.00" width="1.52" height="21.85" fill="#fbe0dc"/>
<rect x="261.32" y="82.00" width="1.52" height="21.85" fill="#fbe2df"/>
<rect x="262.79" y="82.00" width="1.52" height="21.85" fill="#fafdfe"/>
<rect x="264.26" y="82.00" width="1.52" height="21.85" fill="#fadbd7"/>
<rect x="265.73" y="82.00" width="1.52" height="21.85" fill="#e6f6f9"/>
<rect x="267.20" y="82.00" width="1.52" height="21.85" fill="#fcfefe"/>
<rect x="268.67" y="82.00" width="1.52" height="21.85" fill="#fadbd7"/>
<rect x="270.14" y="82.00" width="1.52" height="21.85" fill="#fadbd7"/>
<rect x="271.61" y="82.00" width="1.52" height="21.85" fill="#e7f6f9"/>
<rect x="273.07" y="82.00" width="1.52" height="21.85" fill="#fadcd8"/>
<rect x="274.54" y="82.00" width="1.52" height="21.85" fill="#fadbd7"/>
<rect x="276.01" y="82.00" width="1.52" height="21.85" fill="#fbdfdb"/>
<rect x="277.48" y="82.00" width="1.52" height="21.85" fill="#fdedeb"/>
<rect x="278.95" y="82.00" width="1.52" height="21.85" fill="#fafdfe"/>
<rect x="280.42" y="82.00" width="1.52" height="21.85" fill="#e9f7fa"/>
<rect x="281.89" y="82.00" width="1.52" height="21.85" fill="#e7f6f9"/>
<rect x="283.36" y="82.00" width="1.52" height="21.85" fill="#fefbfb"/>
<rect x="284.82" y="82.00" width="1.52" height="21.85" fill="#fbfdfe"/>
<rect x="286.29" y="82.00" width="1.52" height="21.85" fill="#fef6f4"/>
<rect x="287.76" y="82.00" width="1.52" height="21.85" fill="#e8f6fa"/>
<rect x="289.23" y="82.00" width="1.52" height="21.85" fill="#fdeeec"/>
<rect x="290.70" y="82.00" width="1.52" height="21.85" fill="#fbe3df"/>
<rect x="292.17" y="82.00" width="1.52" height="21.85" fill="#faded9"/>
<rect x="293.64" y="82.00" width="1.52" height="21.85" fill="#fafdfe"/>
<rect x="295.11" y="82.00" width="1.52" height="21.85" fill="#fadcd8"/>
<rect x="296.57" y="82.00" width="1.52" height="21.85" fill="#f7c4bc"/>
<rect x="298.04" y="82.00" width="1.52" height="21.85" fill="#e7f6f9"/>
<rect x="299.51" y="82.00" width="1.52" height="21.85" fill="#d7f0f5"/>
<rect x="300.98" y="82.00" width="1.52" height="21.85" fill="#fdedeb"/>
<rect x="302.45" y="82.00" width="1.52" height="21.85" fill="#fbe0dc"/>
<rect x="303.92" y="82.00" width="1.52" height="21.85" fill="#fdeeec"/>
<rect x="305.39" y="82.00" width="1.52" height="21.85" fill="#fefaf9"/>
<rect x="306.86" y="82.00" width="1.52" height="21.85" fill="#e7f6f9"/>
<rect x="308.32" y="82.00" width="1.52" height="21.85" fill="#eaf7fa"/>
<rect x="309.79" y="82.00" width="1.52" height="21.85" fill="#fcedeb"/>
<rect x="311.26" y="82.00" width="1.52" height="21.85" fill="#e6f6f9"/>
<rect x="312.73" y="82.00" width="1.52" height="21.85" fill="#fadcd8"/>
<rect x="314.20" y="82.00" width="1.52" height="21.85" fill="#fef5f4"/>
<rect x="315.67" y="82.00" width="1.52" height="21.85" fill="#fcecea"/>
<rect x="317.14" y="82.00" width="1.52" height="21.85" fill="#fdeeec"/>
<rect x="318.61" y="82.00" width="1.52" height="21.85" fill="#e9f6fa"/>
<rect x="320.07" y="82.00" width="1.52" height="21.85" fill="#f8fcfd"/>
<rect x="321.54" y="82.00" width="1.52" height="21.85" fill="#fcedeb"/>
<rect x="323.01" y="82.00" width="1.52" height="21.85" fill="#fef6f5"/>
<rect x="324.48" y="82.00" width="1.52" height="21.85" fill="#e9f7fa"/>
<rect x="325.95" y="82.00" width="1.52" height="21.85" fill="#e7f6f9"/>
<rect x="327.42" y="82.00" width="1.52" height="21.85" fill="#fefafa"/>
<rect x="328.89" y="82.00" width="1.52" height="21.85" fill="#fefafa"/>
<rect x="330.36" y="82.00" width="1.52" height="21.85" fill="#fbe1de"/>
<rect x="331.82" y="82.00" width="1.52" height="21.85" fill="#e7f6f9"/>
<rect x="333.29" y="82.00" width="1.52" height="21.85" fill="#d7f0f6"/>
<rect x="334.76" y="82.00" width="1.52" height="21.85" fill="#d7f0f5"/>
<rect x="336.23" y="82.00" width="1.52" height="21.85" fill="#d9f1f6"/>
<text transform="translate(340.7,95.6) scale(1.0,1.1)" font-size="7.4" fill="#222" font-family="Liberation Sans, sans-serif">F13A1</text>
<rect x="243.70" y="103.80" width="1.52" height="21.85" fill="#fdeeec"/>
<rect x="245.17" y="103.80" width="1.52" height="21.85" fill="#fadbd7"/>
<rect x="246.64" y="103.80" width="1.52" height="21.85" fill="#e8f6fa"/>
<rect x="248.11" y="103.80" width="1.52" height="21.85" fill="#fdedeb"/>
<rect x="249.57" y="103.80" width="1.52" height="21.85" fill="#f5fbfd"/>
<rect x="251.04" y="103.80" width="1.52" height="21.85" fill="#fbe1de"/>
<rect x="252.51" y="103.80" width="1.52" height="21.85" fill="#feffff"/>
<rect x="253.98" y="103.80" width="1.52" height="21.85" fill="#fffcfb"/>
<rect x="255.45" y="103.80" width="1.52" height="21.85" fill="#f9fdfe"/>
<rect x="256.92" y="103.80" width="1.52" height="21.85" fill="#fdeeeb"/>
<rect x="258.39" y="103.80" width="1.52" height="21.85" fill="#fffcfc"/>
<rect x="259.86" y="103.80" width="1.52" height="21.85" fill="#fbe3df"/>
<rect x="261.32" y="103.80" width="1.52" height="21.85" fill="#e9f7fa"/>
<rect x="262.79" y="103.80" width="1.52" height="21.85" fill="#f9fdfe"/>
<rect x="264.26" y="103.80" width="1.52" height="21.85" fill="#fbe2df"/>
<rect x="265.73" y="103.80" width="1.52" height="21.85" fill="#fbe2de"/>
<rect x="267.20" y="103.80" width="1.52" height="21.85" fill="#dbf1f6"/>
<rect x="268.67" y="103.80" width="1.52" height="21.85" fill="#f8fcfd"/>
<rect x="270.14" y="103.80" width="1.52" height="21.85" fill="#f9fdfd"/>
<rect x="271.61" y="103.80" width="1.52" height="21.85" fill="#f5fbfd"/>
<rect x="273.07" y="103.80" width="1.52" height="21.85" fill="#fdefed"/>
<rect x="274.54" y="103.80" width="1.52" height="21.85" fill="#fbdfdb"/>
<rect x="276.01" y="103.80" width="1.52" height="21.85" fill="#faddd9"/>
<rect x="277.48" y="103.80" width="1.52" height="21.85" fill="#fffdfd"/>
<rect x="278.95" y="103.80" width="1.52" height="21.85" fill="#fbe1dd"/>
<rect x="280.42" y="103.80" width="1.52" height="21.85" fill="#fef7f5"/>
<rect x="281.89" y="103.80" width="1.52" height="21.85" fill="#f5fbfd"/>
<rect x="283.36" y="103.80" width="1.52" height="21.85" fill="#fdfeff"/>
<rect x="284.82" y="103.80" width="1.52" height="21.85" fill="#fafdfe"/>
<rect x="286.29" y="103.80" width="1.52" height="21.85" fill="#fdefed"/>
<rect x="287.76" y="103.80" width="1.52" height="21.85" fill="#ddf2f7"/>
<rect x="289.23" y="103.80" width="1.52" height="21.85" fill="#fef8f7"/>
<rect x="290.70" y="103.80" width="1.52" height="21.85" fill="#eaf7fa"/>
<rect x="292.17" y="103.80" width="1.52" height="21.85" fill="#f5fbfd"/>
<rect x="293.64" y="103.80" width="1.52" height="21.85" fill="#fdeeec"/>
<rect x="295.11" y="103.80" width="1.52" height="21.85" fill="#fdf1ef"/>
<rect x="296.57" y="103.80" width="1.52" height="21.85" fill="#faded9"/>
<rect x="298.04" y="103.80" width="1.52" height="21.85" fill="#fbe0dc"/>
<rect x="299.51" y="103.80" width="1.52" height="21.85" fill="#fffdfd"/>
<rect x="300.98" y="103.80" width="1.52" height="21.85" fill="#fad9d5"/>
<rect x="302.45" y="103.80" width="1.52" height="21.85" fill="#fadbd6"/>
<rect x="303.92" y="103.80" width="1.52" height="21.85" fill="#fbdfdb"/>
<rect x="305.39" y="103.80" width="1.52" height="21.85" fill="#fef8f8"/>
<rect x="306.86" y="103.80" width="1.52" height="21.85" fill="#d7f0f6"/>
<rect x="308.32" y="103.80" width="1.52" height="21.85" fill="#eaf7fa"/>
<rect x="309.79" y="103.80" width="1.52" height="21.85" fill="#f8fcfd"/>
<rect x="311.26" y="103.80" width="1.52" height="21.85" fill="#fdeeec"/>
<rect x="312.73" y="103.80" width="1.52" height="21.85" fill="#faddd9"/>
<rect x="314.20" y="103.80" width="1.52" height="21.85" fill="#fef5f4"/>
<rect x="315.67" y="103.80" width="1.52" height="21.85" fill="#e6f5f9"/>
<rect x="317.14" y="103.80" width="1.52" height="21.85" fill="#fffdfc"/>
<rect x="318.61" y="103.80" width="1.52" height="21.85" fill="#eaf7fa"/>
<rect x="320.07" y="103.80" width="1.52" height="21.85" fill="#fcedea"/>
<rect x="321.54" y="103.80" width="1.52" height="21.85" fill="#f5fbfd"/>
<rect x="323.01" y="103.80" width="1.52" height="21.85" fill="#ebf7fa"/>
<rect x="324.48" y="103.80" width="1.52" height="21.85" fill="#d8f0f6"/>
<rect x="325.95" y="103.80" width="1.52" height="21.85" fill="#fffdfc"/>
<rect x="327.42" y="103.80" width="1.52" height="21.85" fill="#ddf2f7"/>
<rect x="328.89" y="103.80" width="1.52" height="21.85" fill="#fffcfc"/>
<rect x="330.36" y="103.80" width="1.52" height="21.85" fill="#e6f6f9"/>
<rect x="331.82" y="103.80" width="1.52" height="21.85" fill="#fcfefe"/>
<rect x="333.29" y="103.80" width="1.52" height="21.85" fill="#fdefed"/>
<rect x="334.76" y="103.80" width="1.52" height="21.85" fill="#dcf1f7"/>
<rect x="336.23" y="103.80" width="1.52" height="21.85" fill="#dbf1f6"/>
<text transform="translate(340.7,117.4) scale(1.0,1.1)" font-size="7.4" fill="#222" font-family="Liberation Sans, sans-serif">M6PR</text>
<rect x="243.70" y="125.60" width="1.52" height="21.85" fill="#fef5f4"/>
<rect x="245.17" y="125.60" width="1.52" height="21.85" fill="#eaf7fa"/>
<rect x="246.64" y="125.60" width="1.52" height="21.85" fill="#fef5f4"/>
<rect x="248.11" y="125.60" width="1.52" height="21.85" fill="#e6f5f9"/>
<rect x="249.57" y="125.60" width="1.52" height="21.85" fill="#faddd9"/>
<rect x="251.04" y="125.60" width="1.52" height="21.85" fill="#fbe0dd"/>
<rect x="252.51" y="125.60" width="1.52" height="21.85" fill="#fcecea"/>
<rect x="253.98" y="125.60" width="1.52" height="21.85" fill="#ffffff"/>
<rect x="255.45" y="125.60" width="1.52" height="21.85" fill="#fdfeff"/>
<rect x="256.92" y="125.60" width="1.52" height="21.85" fill="#fbfefe"/>
<rect x="258.39" y="125.60" width="1.52" height="21.85" fill="#fcecea"/>
<rect x="259.86" y="125.60" width="1.52" height="21.85" fill="#fadeda"/>
<rect x="261.32" y="125.60" width="1.52" height="21.85" fill="#fbe0dc"/>
<rect x="262.79" y="125.60" width="1.52" height="21.85" fill="#fdefed"/>
<rect x="264.26" y="125.60" width="1.52" height="21.85" fill="#fbe2de"/>
<rect x="265.73" y="125.60" width="1.52" height="21.85" fill="#fffcfc"/>
<rect x="267.20" y="125.60" width="1.52" height="21.85" fill="#feffff"/>
<rect x="268.67" y="125.60" width="1.52" height="21.85" fill="#fbe0dc"/>
<rect x="270.14" y="125.60" width="1.52" height="21.85" fill="#fef9f8"/>
<rect x="271.61" y="125.60" width="1.52" height="21.85" fill="#e7f6f9"/>
<rect x="273.07" y="125.60" width="1.52" height="21.85" fill="#fdf1ef"/>
<rect x="274.54" y="125.60" width="1.52" height="21.85" fill="#fadeda"/>
<rect x="276.01" y="125.60" width="1.52" height="21.85" fill="#fafdfe"/>
<rect x="277.48" y="125.60" width="1.52" height="21.85" fill="#fcecea"/>
<rect x="278.95" y="125.60" width="1.52" height="21.85" fill="#fdedeb"/>
<rect x="280.42" y="125.60" width="1.52" height="21.85" fill="#fbe1dd"/>
<rect x="281.89" y="125.60" width="1.52" height="21.85" fill="#fafdfe"/>
<rect x="283.36" y="125.60" width="1.52" height="21.85" fill="#f8fcfd"/>
<rect x="284.82" y="125.60" width="1.52" height="21.85" fill="#e5f5f9"/>
<rect x="286.29" y="125.60" width="1.52" height="21.85" fill="#fbfdfe"/>
<rect x="287.76" y="125.60" width="1.52" height="21.85" fill="#e8f6fa"/>
<rect x="289.23" y="125.60" width="1.52" height="21.85" fill="#fdefed"/>
<rect x="290.70" y="125.60" width="1.52" height="21.85" fill="#faddd8"/>
<rect x="292.17" y="125.60" width="1.52" height="21.85" fill="#fdeeec"/>
<rect x="293.64" y="125.60" width="1.52" height="21.85" fill="#fdedeb"/>
<rect x="295.11" y="125.60" width="1.52" height="21.85" fill="#fbe2de"/>
<rect x="296.57" y="125.60" width="1.52" height="21.85" fill="#f6beb6"/>
<rect x="298.04" y="125.60" width="1.52" height="21.85" fill="#fbfdfe"/>
<rect x="299.51" y="125.60" width="1.52" height="21.85" fill="#e9f6fa"/>
<rect x="300.98" y="125.60" width="1.52" height="21.85" fill="#fdefed"/>
<rect x="302.45" y="125.60" width="1.52" height="21.85" fill="#fbfdfe"/>
<rect x="303.92" y="125.60" width="1.52" height="21.85" fill="#e9f6fa"/>
<rect x="305.39" y="125.60" width="1.52" height="21.85" fill="#feffff"/>
<rect x="306.86" y="125.60" width="1.52" height="21.85" fill="#eaf7fa"/>
<rect x="308.32" y="125.60" width="1.52" height="21.85" fill="#fefaf9"/>
<rect x="309.79" y="125.60" width="1.52" height="21.85" fill="#d7f0f6"/>
<rect x="311.26" y="125.60" width="1.52" height="21.85" fill="#fbe3df"/>
<rect x="312.73" y="125.60" width="1.52" height="21.85" fill="#fbe0dd"/>
<rect x="314.20" y="125.60" width="1.52" height="21.85" fill="#fadeda"/>
<rect x="315.67" y="125.60" width="1.52" height="21.85" fill="#fcecea"/>
<rect x="317.14" y="125.60" width="1.52" height="21.85" fill="#fef7f6"/>
<rect x="318.61" y="125.60" width="1.52" height="21.85" fill="#e8f6fa"/>
<rect x="320.07" y="125.60" width="1.52" height="21.85" fill="#f5fbfd"/>
<rect x="321.54" y="125.60" width="1.52" height="21.85" fill="#e7f6f9"/>
<rect x="323.01" y="125.60" width="1.52" height="21.85" fill="#fdfeff"/>
<rect x="324.48" y="125.60" width="1.52" height="21.85" fill="#e8f6fa"/>
<rect x="325.95" y="125.60" width="1.52" height="21.85" fill="#fefbfa"/>
<rect x="327.42" y="125.60" width="1.52" height="21.85" fill="#e8f6fa"/>
<rect x="328.89" y="125.60" width="1.52" height="21.85" fill="#e9f7fa"/>
<rect x="330.36" y="125.60" width="1.52" height="21.85" fill="#d4eef5"/>
<rect x="331.82" y="125.60" width="1.52" height="21.85" fill="#fdfefe"/>
<rect x="333.29" y="125.60" width="1.52" height="21.85" fill="#c3e8f1"/>
<rect x="334.76" y="125.60" width="1.52" height="21.85" fill="#d4eff5"/>
<rect x="336.23" y="125.60" width="1.52" height="21.85" fill="#dcf2f7"/>
<text transform="translate(340.7,139.2) scale(1.0,1.1)" font-size="7.4" fill="#222" font-family="Liberation Sans, sans-serif">CDK2AP1</text>
<rect x="243.70" y="147.40" width="1.52" height="21.85" fill="#fbfdfe"/>
<rect x="245.17" y="147.40" width="1.52" height="21.85" fill="#fcedeb"/>
<rect x="246.64" y="147.40" width="1.52" height="21.85" fill="#f6fcfd"/>
<rect x="248.11" y="147.40" width="1.52" height="21.85" fill="#e7f6f9"/>
<rect x="249.57" y="147.40" width="1.52" height="21.85" fill="#d6eff5"/>
<rect x="251.04" y="147.40" width="1.52" height="21.85" fill="#d9f1f6"/>
<rect x="252.51" y="147.40" width="1.52" height="21.85" fill="#fbfdfe"/>
<rect x="253.98" y="147.40" width="1.52" height="21.85" fill="#fdedeb"/>
<rect x="255.45" y="147.40" width="1.52" height="21.85" fill="#fcecea"/>
<rect x="256.92" y="147.40" width="1.52" height="21.85" fill="#f8fcfd"/>
<rect x="258.39" y="147.40" width="1.52" height="21.85" fill="#e9f7fa"/>
<rect x="259.86" y="147.40" width="1.52" height="21.85" fill="#fffefe"/>
<rect x="261.32" y="147.40" width="1.52" height="21.85" fill="#fdefec"/>
<rect x="262.79" y="147.40" width="1.52" height="21.85" fill="#eaf7fa"/>
<rect x="264.26" y="147.40" width="1.52" height="21.85" fill="#ebf7fa"/>
<rect x="265.73" y="147.40" width="1.52" height="21.85" fill="#e8f6fa"/>
<rect x="267.20" y="147.40" width="1.52" height="21.85" fill="#fef8f8"/>
<rect x="268.67" y="147.40" width="1.52" height="21.85" fill="#f6fcfd"/>
<rect x="270.14" y="147.40" width="1.52" height="21.85" fill="#ebf7fa"/>
<rect x="271.61" y="147.40" width="1.52" height="21.85" fill="#e7f6f9"/>
<rect x="273.07" y="147.40" width="1.52" height="21.85" fill="#fdedeb"/>
<rect x="274.54" y="147.40" width="1.52" height="21.85" fill="#fadcd8"/>
<rect x="276.01" y="147.40" width="1.52" height="21.85" fill="#f5fbfd"/>
<rect x="277.48" y="147.40" width="1.52" height="21.85" fill="#fefafa"/>
<rect x="278.95" y="147.40" width="1.52" height="21.85" fill="#fef5f4"/>
<rect x="280.42" y="147.40" width="1.52" height="21.85" fill="#fef5f3"/>
<rect x="281.89" y="147.40" width="1.52" height="21.85" fill="#fdeeeb"/>
<rect x="283.36" y="147.40" width="1.52" height="21.85" fill="#f6fbfd"/>
<rect x="284.82" y="147.40" width="1.52" height="21.85" fill="#e6f6f9"/>
<rect x="286.29" y="147.40" width="1.52" height="21.85" fill="#f9fdfe"/>
<rect x="287.76" y="147.40" width="1.52" height="21.85" fill="#faddd8"/>
<rect x="289.23" y="147.40" width="1.52" height="21.85" fill="#e6f5f9"/>
<rect x="290.70" y="147.40" width="1.52" height="21.85" fill="#e7f6f9"/>
<rect x="292.17" y="147.40" width="1.52" height="21.85" fill="#f7fcfd"/>
<rect x="293.64" y="147.40" width="1.52" height="21.85" fill="#fdf0ee"/>
<rect x="295.11" y="147.40" width="1.52" height="21.85" fill="#e6f5f9"/>
<rect x="296.57" y="147.40" width="1.52" height="21.85" fill="#ebf7fa"/>
<rect x="298.04" y="147.40" width="1.52" height="21.85" fill="#fffdfc"/>
<rect x="299.51" y="147.40" width="1.52" height="21.85" fill="#fdefed"/>
<rect x="300.98" y="147.40" width="1.52" height="21.85" fill="#ebf7fa"/>
<rect x="302.45" y="147.40" width="1.52" height="21.85" fill="#e8f6fa"/>
<rect x="303.92" y="147.40" width="1.52" height="21.85" fill="#f6fbfd"/>
<rect x="305.39" y="147.40" width="1.52" height="21.85" fill="#fdf0ef"/>
<rect x="306.86" y="147.40" width="1.52" height="21.85" fill="#fbdfdb"/>
<rect x="308.32" y="147.40" width="1.52" height="21.85" fill="#fdf1ef"/>
<rect x="309.79" y="147.40" width="1.52" height="21.85" fill="#fbe2df"/>
<rect x="311.26" y="147.40" width="1.52" height="21.85" fill="#fffdfd"/>
<rect x="312.73" y="147.40" width="1.52" height="21.85" fill="#e7f6f9"/>
<rect x="314.20" y="147.40" width="1.52" height="21.85" fill="#e6f6f9"/>
<rect x="315.67" y="147.40" width="1.52" height="21.85" fill="#f7fcfd"/>
<rect x="317.14" y="147.40" width="1.52" height="21.85" fill="#fefeff"/>
<rect x="318.61" y="147.40" width="1.52" height="21.85" fill="#fdefee"/>
<rect x="320.07" y="147.40" width="1.52" height="21.85" fill="#fffdfd"/>
<rect x="321.54" y="147.40" width="1.52" height="21.85" fill="#fdefed"/>
<rect x="323.01" y="147.40" width="1.52" height="21.85" fill="#fef6f5"/>
<rect x="324.48" y="147.40" width="1.52" height="21.85" fill="#eaf7fa"/>
<rect x="325.95" y="147.40" width="1.52" height="21.85" fill="#ecf8fa"/>
<rect x="327.42" y="147.40" width="1.52" height="21.85" fill="#e7f6f9"/>
<rect x="328.89" y="147.40" width="1.52" height="21.85" fill="#fbe1de"/>
<rect x="330.36" y="147.40" width="1.52" height="21.85" fill="#fffcfc"/>
<rect x="331.82" y="147.40" width="1.52" height="21.85" fill="#f7c3bc"/>
<rect x="333.29" y="147.40" width="1.52" height="21.85" fill="#fcecea"/>
<rect x="334.76" y="147.40" width="1.52" height="21.85" fill="#ee8576"/>
<rect x="336.23" y="147.40" width="1.52" height="21.85" fill="#fdeeec"/>
<text transform="translate(340.7,161.0) scale(1.0,1.1)" font-size="7.4" fill="#222" font-family="Liberation Sans, sans-serif">EXT1</text>
<rect x="243.70" y="169.20" width="1.52" height="21.85" fill="#fafdfe"/>
<rect x="245.17" y="169.20" width="1.52" height="21.85" fill="#faddd9"/>
<rect x="246.64" y="169.20" width="1.52" height="21.85" fill="#eaf7fa"/>
<rect x="248.11" y="169.20" width="1.52" height="21.85" fill="#e7f6f9"/>
<rect x="249.57" y="169.20" width="1.52" height="21.85" fill="#fdeeec"/>
<rect x="251.04" y="169.20" width="1.52" height="21.85" fill="#f7fcfd"/>
<rect x="252.51" y="169.20" width="1.52" height="21.85" fill="#ebf7fa"/>
<rect x="253.98" y="169.20" width="1.52" height="21.85" fill="#eaf7fa"/>
<rect x="255.45" y="169.20" width="1.52" height="21.85" fill="#fefaf9"/>
<rect x="256.92" y="169.20" width="1.52" height="21.85" fill="#fdf0ee"/>
<rect x="258.39" y="169.20" width="1.52" height="21.85" fill="#e7f6f9"/>
<rect x="259.86" y="169.20" width="1.52" height="21.85" fill="#fffcfb"/>
<rect x="261.32" y="169.20" width="1.52" height="21.85" fill="#fbe2df"/>
<rect x="262.79" y="169.20" width="1.52" height="21.85" fill="#fdeeec"/>
<rect x="264.26" y="169.20" width="1.52" height="21.85" fill="#ebf8fa"/>
<rect x="265.73" y="169.20" width="1.52" height="21.85" fill="#ebf7fa"/>
<rect x="267.20" y="169.20" width="1.52" height="21.85" fill="#fffdfd"/>
<rect x="268.67" y="169.20" width="1.52" height="21.85" fill="#fafdfe"/>
<rect x="270.14" y="169.20" width="1.52" height="21.85" fill="#fcedea"/>
<rect x="271.61" y="169.20" width="1.52" height="21.85" fill="#ffffff"/>
<rect x="273.07" y="169.20" width="1.52" height="21.85" fill="#eaf7fa"/>
<rect x="274.54" y="169.20" width="1.52" height="21.85" fill="#e7f6f9"/>
<rect x="276.01" y="169.20" width="1.52" height="21.85" fill="#ecf8fa"/>
<rect x="277.48" y="169.20" width="1.52" height="21.85" fill="#e7f6f9"/>
<rect x="278.95" y="169.20" width="1.52" height="21.85" fill="#fdf1ef"/>
<rect x="280.42" y="169.20" width="1.52" height="21.85" fill="#ebf7fa"/>
<rect x="281.89" y="169.20" width="1.52" height="21.85" fill="#e6f5f9"/>
<rect x="283.36" y="169.20" width="1.52" height="21.85" fill="#e8f6f9"/>
<rect x="284.82" y="169.20" width="1.52" height="21.85" fill="#ebf7fa"/>
<rect x="286.29" y="169.20" width="1.52" height="21.85" fill="#fdf0ef"/>
<rect x="287.76" y="169.20" width="1.52" height="21.85" fill="#fef5f4"/>
<rect x="289.23" y="169.20" width="1.52" height="21.85" fill="#e8f6f9"/>
<rect x="290.70" y="169.20" width="1.52" height="21.85" fill="#fcedeb"/>
<rect x="292.17" y="169.20" width="1.52" height="21.85" fill="#ebf7fa"/>
<rect x="293.64" y="169.20" width="1.52" height="21.85" fill="#e8f6fa"/>
<rect x="295.11" y="169.20" width="1.52" height="21.85" fill="#fdefed"/>
<rect x="296.57" y="169.20" width="1.52" height="21.85" fill="#f9fdfe"/>
<rect x="298.04" y="169.20" width="1.52" height="21.85" fill="#fbe0dc"/>
<rect x="299.51" y="169.20" width="1.52" height="21.85" fill="#fdeeec"/>
<rect x="300.98" y="169.20" width="1.52" height="21.85" fill="#eaf7fa"/>
<rect x="302.45" y="169.20" width="1.52" height="21.85" fill="#eaf7fa"/>
<rect x="303.92" y="169.20" width="1.52" height="21.85" fill="#ebf7fa"/>
<rect x="305.39" y="169.20" width="1.52" height="21.85" fill="#e7f6f9"/>
<rect x="306.86" y="169.20" width="1.52" height="21.85" fill="#e8f6fa"/>
<rect x="308.32" y="169.20" width="1.52" height="21.85" fill="#e7f6f9"/>
<rect x="309.79" y="169.20" width="1.52" height="21.85" fill="#fbdfdb"/>
<rect x="311.26" y="169.20" width="1.52" height="21.85" fill="#f6bdb5"/>
<rect x="312.73" y="169.20" width="1.52" height="21.85" fill="#ffffff"/>
<rect x="314.20" y="169.20" width="1.52" height="21.85" fill="#fffdfd"/>
<rect x="315.67" y="169.20" width="1.52" height="21.85" fill="#faddd9"/>
<rect x="317.14" y="169.20" width="1.52" height="21.85" fill="#fdedeb"/>
<rect x="318.61" y="169.20" width="1.52" height="21.85" fill="#fdefed"/>
<rect x="320.07" y="169.20" width="1.52" height="21.85" fill="#fbe2de"/>
<rect x="321.54" y="169.20" width="1.52" height="21.85" fill="#f5fbfd"/>
<rect x="323.01" y="169.20" width="1.52" height="21.85" fill="#fdf0ee"/>
<rect x="324.48" y="169.20" width="1.52" height="21.85" fill="#ecf8fa"/>
<rect x="325.95" y="169.20" width="1.52" height="21.85" fill="#e6f6f9"/>
<rect x="327.42" y="169.20" width="1.52" height="21.85" fill="#e9f7fa"/>
<rect x="328.89" y="169.20" width="1.52" height="21.85" fill="#e7f6f9"/>
<rect x="330.36" y="169.20" width="1.52" height="21.85" fill="#f5fbfd"/>
<rect x="331.82" y="169.20" width="1.52" height="21.85" fill="#fadeda"/>
<rect x="333.29" y="169.20" width="1.52" height="21.85" fill="#f6bcb4"/>
<rect x="334.76" y="169.20" width="1.52" height="21.85" fill="#fffcfc"/>
<rect x="336.23" y="169.20" width="1.52" height="21.85" fill="#fefeff"/>
<text transform="translate(340.7,182.8) scale(1.0,1.1)" font-size="7.4" fill="#222" font-family="Liberation Sans, sans-serif">COL9A2</text>
<rect x="243.70" y="191.00" width="1.52" height="21.85" fill="#feffff"/>
<rect x="245.17" y="191.00" width="1.52" height="21.85" fill="#ebf8fa"/>
<rect x="246.64" y="191.00" width="1.52" height="21.85" fill="#fbe1de"/>
<rect x="248.11" y="191.00" width="1.52" height="21.85" fill="#fdf0ee"/>
<rect x="249.57" y="191.00" width="1.52" height="21.85" fill="#fdefed"/>
<rect x="251.04" y="191.00" width="1.52" height="21.85" fill="#eaf7fa"/>
<rect x="252.51" y="191.00" width="1.52" height="21.85" fill="#fef7f6"/>
<rect x="253.98" y="191.00" width="1.52" height="21.85" fill="#fdf0ee"/>
<rect x="255.45" y="191.00" width="1.52" height="21.85" fill="#fafdfe"/>
<rect x="256.92" y="191.00" width="1.52" height="21.85" fill="#eaf7fa"/>
<rect x="258.39" y="191.00" width="1.52" height="21.85" fill="#f8fcfd"/>
<rect x="259.86" y="191.00" width="1.52" height="21.85" fill="#eaf7fa"/>
<rect x="261.32" y="191.00" width="1.52" height="21.85" fill="#fdf0ee"/>
<rect x="262.79" y="191.00" width="1.52" height="21.85" fill="#ffffff"/>
<rect x="264.26" y="191.00" width="1.52" height="21.85" fill="#def2f7"/>
<rect x="265.73" y="191.00" width="1.52" height="21.85" fill="#d4eef5"/>
<rect x="267.20" y="191.00" width="1.52" height="21.85" fill="#eaf7fa"/>
<rect x="268.67" y="191.00" width="1.52" height="21.85" fill="#fef6f5"/>
<rect x="270.14" y="191.00" width="1.52" height="21.85" fill="#fdeeeb"/>
<rect x="271.61" y="191.00" width="1.52" height="21.85" fill="#fefbfb"/>
<rect x="273.07" y="191.00" width="1.52" height="21.85" fill="#fdefed"/>
<rect x="274.54" y="191.00" width="1.52" height="21.85" fill="#fcecea"/>
<rect x="276.01" y="191.00" width="1.52" height="21.85" fill="#f7fcfd"/>
<rect x="277.48" y="191.00" width="1.52" height="21.85" fill="#fdeeec"/>
<rect x="278.95" y="191.00" width="1.52" height="21.85" fill="#eaf7fa"/>
<rect x="280.42" y="191.00" width="1.52" height="21.85" fill="#e8f6f9"/>
<rect x="281.89" y="191.00" width="1.52" height="21.85" fill="#fefafa"/>
<rect x="283.36" y="191.00" width="1.52" height="21.85" fill="#ebf7fa"/>
<rect x="284.82" y="191.00" width="1.52" height="21.85" fill="#f9fdfe"/>
<rect x="286.29" y="191.00" width="1.52" height="21.85" fill="#f5fbfd"/>
<rect x="287.76" y="191.00" width="1.52" height="21.85" fill="#f9fdfe"/>
<rect x="289.23" y="191.00" width="1.52" height="21.85" fill="#fbe2df"/>
<rect x="290.70" y="191.00" width="1.52" height="21.85" fill="#fdefed"/>
<rect x="292.17" y="191.00" width="1.52" height="21.85" fill="#e6f5f9"/>
<rect x="293.64" y="191.00" width="1.52" height="21.85" fill="#fcfefe"/>
<rect x="295.11" y="191.00" width="1.52" height="21.85" fill="#fbfefe"/>
<rect x="296.57" y="191.00" width="1.52" height="21.85" fill="#fdefed"/>
<rect x="298.04" y="191.00" width="1.52" height="21.85" fill="#fafdfe"/>
<rect x="299.51" y="191.00" width="1.52" height="21.85" fill="#e7f6f9"/>
<rect x="300.98" y="191.00" width="1.52" height="21.85" fill="#e7f6f9"/>
<rect x="302.45" y="191.00" width="1.52" height="21.85" fill="#dcf2f7"/>
<rect x="303.92" y="191.00" width="1.52" height="21.85" fill="#fafdfe"/>
<rect x="305.39" y="191.00" width="1.52" height="21.85" fill="#fadcd8"/>
<rect x="306.86" y="191.00" width="1.52" height="21.85" fill="#fcecea"/>
<rect x="308.32" y="191.00" width="1.52" height="21.85" fill="#faddd8"/>
<rect x="309.79" y="191.00" width="1.52" height="21.85" fill="#fefeff"/>
<rect x="311.26" y="191.00" width="1.52" height="21.85" fill="#fcecea"/>
<rect x="312.73" y="191.00" width="1.52" height="21.85" fill="#fbe3df"/>
<rect x="314.20" y="191.00" width="1.52" height="21.85" fill="#f6fcfd"/>
<rect x="315.67" y="191.00" width="1.52" height="21.85" fill="#fdedeb"/>
<rect x="317.14" y="191.00" width="1.52" height="21.85" fill="#e9f7fa"/>
<rect x="318.61" y="191.00" width="1.52" height="21.85" fill="#fbe3df"/>
<rect x="320.07" y="191.00" width="1.52" height="21.85" fill="#f7c2bb"/>
<rect x="321.54" y="191.00" width="1.52" height="21.85" fill="#f5bab2"/>
<rect x="323.01" y="191.00" width="1.52" height="21.85" fill="#f7c3bb"/>
<rect x="324.48" y="191.00" width="1.52" height="21.85" fill="#fbdfdc"/>
<rect x="325.95" y="191.00" width="1.52" height="21.85" fill="#f7fcfd"/>
<rect x="327.42" y="191.00" width="1.52" height="21.85" fill="#ecf8fa"/>
<rect x="328.89" y="191.00" width="1.52" height="21.85" fill="#fef7f6"/>
<rect x="330.36" y="191.00" width="1.52" height="21.85" fill="#e9f7fa"/>
<rect x="331.82" y="191.00" width="1.52" height="21.85" fill="#fef6f5"/>
<rect x="333.29" y="191.00" width="1.52" height="21.85" fill="#fbe2df"/>
<rect x="334.76" y="191.00" width="1.52" height="21.85" fill="#fafdfe"/>
<rect x="336.23" y="191.00" width="1.52" height="21.85" fill="#f6fbfd"/>
<text transform="translate(340.7,204.6) scale(1.0,1.1)" font-size="7.4" fill="#222" font-family="Liberation Sans, sans-serif">RNF10</text>
<rect x="243.70" y="212.80" width="1.52" height="21.85" fill="#fdfefe"/>
<rect x="245.17" y="212.80" width="1.52" height="21.85" fill="#fbe2df"/>
<rect x="246.64" y="212.80" width="1.52" height="21.85" fill="#eaf7fa"/>
<rect x="248.11" y="212.80" width="1.52" height="21.85" fill="#e9f7fa"/>
<rect x="249.57" y="212.80" width="1.52" height="21.85" fill="#eaf7fa"/>
<rect x="251.04" y="212.80" width="1.52" height="21.85" fill="#ecf8fa"/>
<rect x="252.51" y="212.80" width="1.52" height="21.85" fill="#fdf1ef"/>
<rect x="253.98" y="212.80" width="1.52" height="21.85" fill="#e6f5f9"/>
<rect x="255.45" y="212.80" width="1.52" height="21.85" fill="#f8fcfd"/>
<rect x="256.92" y="212.80" width="1.52" height="21.85" fill="#e9f6fa"/>
<rect x="258.39" y="212.80" width="1.52" height="21.85" fill="#fdfeff"/>
<rect x="259.86" y="212.80" width="1.52" height="21.85" fill="#e9f6fa"/>
<rect x="261.32" y="212.80" width="1.52" height="21.85" fill="#f6fcfd"/>
<rect x="262.79" y="212.80" width="1.52" height="21.85" fill="#fbe0dc"/>
<rect x="264.26" y="212.80" width="1.52" height="21.85" fill="#ebf7fa"/>
<rect x="265.73" y="212.80" width="1.52" height="21.85" fill="#e8f6fa"/>
<rect x="267.20" y="212.80" width="1.52" height="21.85" fill="#e6f5f9"/>
<rect x="268.67" y="212.80" width="1.52" height="21.85" fill="#fffdfd"/>
<rect x="270.14" y="212.80" width="1.52" height="21.85" fill="#fcedeb"/>
<rect x="271.61" y="212.80" width="1.52" height="21.85" fill="#ebf7fa"/>
<rect x="273.07" y="212.80" width="1.52" height="21.85" fill="#f5fbfd"/>
<rect x="274.54" y="212.80" width="1.52" height="21.85" fill="#fdeeec"/>
<rect x="276.01" y="212.80" width="1.52" height="21.85" fill="#e9f7fa"/>
<rect x="277.48" y="212.80" width="1.52" height="21.85" fill="#fdeeec"/>
<rect x="278.95" y="212.80" width="1.52" height="21.85" fill="#eaf7fa"/>
<rect x="280.42" y="212.80" width="1.52" height="21.85" fill="#e8f6fa"/>
<rect x="281.89" y="212.80" width="1.52" height="21.85" fill="#e7f6f9"/>
<rect x="283.36" y="212.80" width="1.52" height="21.85" fill="#e6f5f9"/>
<rect x="284.82" y="212.80" width="1.52" height="21.85" fill="#eaf7fa"/>
<rect x="286.29" y="212.80" width="1.52" height="21.85" fill="#feffff"/>
<rect x="287.76" y="212.80" width="1.52" height="21.85" fill="#e7f6f9"/>
<rect x="289.23" y="212.80" width="1.52" height="21.85" fill="#f9fdfe"/>
<rect x="290.70" y="212.80" width="1.52" height="21.85" fill="#fdf0ef"/>
<rect x="292.17" y="212.80" width="1.52" height="21.85" fill="#fbe0dc"/>
<rect x="293.64" y="212.80" width="1.52" height="21.85" fill="#f6fcfd"/>
<rect x="295.11" y="212.80" width="1.52" height="21.85" fill="#e7f6f9"/>
<rect x="296.57" y="212.80" width="1.52" height="21.85" fill="#fadbd6"/>
<rect x="298.04" y="212.80" width="1.52" height="21.85" fill="#fbfefe"/>
<rect x="299.51" y="212.80" width="1.52" height="21.85" fill="#ebf7fa"/>
<rect x="300.98" y="212.80" width="1.52" height="21.85" fill="#f6fcfd"/>
<rect x="302.45" y="212.80" width="1.52" height="21.85" fill="#fdf0ee"/>
<rect x="303.92" y="212.80" width="1.52" height="21.85" fill="#fdf1ef"/>
<rect x="305.39" y="212.80" width="1.52" height="21.85" fill="#e9f7fa"/>
<rect x="306.86" y="212.80" width="1.52" height="21.85" fill="#fffdfd"/>
<rect x="308.32" y="212.80" width="1.52" height="21.85" fill="#fafdfe"/>
<rect x="309.79" y="212.80" width="1.52" height="21.85" fill="#fbe2df"/>
<rect x="311.26" y="212.80" width="1.52" height="21.85" fill="#fadcd8"/>
<rect x="312.73" y="212.80" width="1.52" height="21.85" fill="#f6fbfd"/>
<rect x="314.20" y="212.80" width="1.52" height="21.85" fill="#fdf0ee"/>
<rect x="315.67" y="212.80" width="1.52" height="21.85" fill="#eaf7fa"/>
<rect x="317.14" y="212.80" width="1.52" height="21.85" fill="#fbdfdb"/>
<rect x="318.61" y="212.80" width="1.52" height="21.85" fill="#f7fcfd"/>
<rect x="320.07" y="212.80" width="1.52" height="21.85" fill="#fbdfdb"/>
<rect x="321.54" y="212.80" width="1.52" height="21.85" fill="#f7c6bf"/>
<rect x="323.01" y="212.80" width="1.52" height="21.85" fill="#fefaf9"/>
<rect x="324.48" y="212.80" width="1.52" height="21.85" fill="#fdeeec"/>
<rect x="325.95" y="212.80" width="1.52" height="21.85" fill="#e6f5f9"/>
<rect x="327.42" y="212.80" width="1.52" height="21.85" fill="#fadcd8"/>
<rect x="328.89" y="212.80" width="1.52" height="21.85" fill="#fefaf9"/>
<rect x="330.36" y="212.80" width="1.52" height="21.85" fill="#fdeeec"/>
<rect x="331.82" y="212.80" width="1.52" height="21.85" fill="#feffff"/>
<rect x="333.29" y="212.80" width="1.52" height="21.85" fill="#fadbd6"/>
<rect x="334.76" y="212.80" width="1.52" height="21.85" fill="#fdeeec"/>
<rect x="336.23" y="212.80" width="1.52" height="21.85" fill="#fef5f4"/>
<text transform="translate(340.7,226.4) scale(1.0,1.1)" font-size="7.4" fill="#222" font-family="Liberation Sans, sans-serif">MAOA</text>
<rect x="243.70" y="234.60" width="1.52" height="21.85" fill="#fefafa"/>
<rect x="245.17" y="234.60" width="1.52" height="21.85" fill="#fdeeeb"/>
<rect x="246.64" y="234.60" width="1.52" height="21.85" fill="#fafdfe"/>
<rect x="248.11" y="234.60" width="1.52" height="21.85" fill="#fcedeb"/>
<rect x="249.57" y="234.60" width="1.52" height="21.85" fill="#fdfefe"/>
<rect x="251.04" y="234.60" width="1.52" height="21.85" fill="#fbe2de"/>
<rect x="252.51" y="234.60" width="1.52" height="21.85" fill="#f6fcfd"/>
<rect x="253.98" y="234.60" width="1.52" height="21.85" fill="#ebf7fa"/>
<rect x="255.45" y="234.60" width="1.52" height="21.85" fill="#eaf7fa"/>
<rect x="256.92" y="234.60" width="1.52" height="21.85" fill="#e8f6f9"/>
<rect x="258.39" y="234.60" width="1.52" height="21.85" fill="#fdf0ee"/>
<rect x="259.86" y="234.60" width="1.52" height="21.85" fill="#f6fcfd"/>
<rect x="261.32" y="234.60" width="1.52" height="21.85" fill="#e7f6f9"/>
<rect x="262.79" y="234.60" width="1.52" height="21.85" fill="#e8f6fa"/>
<rect x="264.26" y="234.60" width="1.52" height="21.85" fill="#ecf8fa"/>
<rect x="265.73" y="234.60" width="1.52" height="21.85" fill="#f6fbfd"/>
<rect x="267.20" y="234.60" width="1.52" height="21.85" fill="#ebf7fa"/>
<rect x="268.67" y="234.60" width="1.52" height="21.85" fill="#fcfefe"/>
<rect x="270.14" y="234.60" width="1.52" height="21.85" fill="#e6f6f9"/>
<rect x="271.61" y="234.60" width="1.52" height="21.85" fill="#fef6f4"/>
<rect x="273.07" y="234.60" width="1.52" height="21.85" fill="#fdeeec"/>
<rect x="274.54" y="234.60" width="1.52" height="21.85" fill="#fdf0ee"/>
<rect x="276.01" y="234.60" width="1.52" height="21.85" fill="#fdefed"/>
<rect x="277.48" y="234.60" width="1.52" height="21.85" fill="#fcfefe"/>
<rect x="278.95" y="234.60" width="1.52" height="21.85" fill="#fdefed"/>
<rect x="280.42" y="234.60" width="1.52" height="21.85" fill="#ecf8fb"/>
<rect x="281.89" y="234.60" width="1.52" height="21.85" fill="#e8f6fa"/>
<rect x="283.36" y="234.60" width="1.52" height="21.85" fill="#e7f6f9"/>
<rect x="284.82" y="234.60" width="1.52" height="21.85" fill="#e7f6f9"/>
<rect x="286.29" y="234.60" width="1.52" height="21.85" fill="#ebf8fa"/>
<rect x="287.76" y="234.60" width="1.52" height="21.85" fill="#fffefe"/>
<rect x="289.23" y="234.60" width="1.52" height="21.85" fill="#f8fcfd"/>
<rect x="290.70" y="234.60" width="1.52" height="21.85" fill="#fadcd8"/>
<rect x="292.17" y="234.60" width="1.52" height="21.85" fill="#feffff"/>
<rect x="293.64" y="234.60" width="1.52" height="21.85" fill="#e6f5f9"/>
<rect x="295.11" y="234.60" width="1.52" height="21.85" fill="#fdedeb"/>
<rect x="296.57" y="234.60" width="1.52" height="21.85" fill="#ebf7fa"/>
<rect x="298.04" y="234.60" width="1.52" height="21.85" fill="#eaf7fa"/>
<rect x="299.51" y="234.60" width="1.52" height="21.85" fill="#e6f5f9"/>
<rect x="300.98" y="234.60" width="1.52" height="21.85" fill="#feffff"/>
<rect x="302.45" y="234.60" width="1.52" height="21.85" fill="#e9f7fa"/>
<rect x="303.92" y="234.60" width="1.52" height="21.85" fill="#feffff"/>
<rect x="305.39" y="234.60" width="1.52" height="21.85" fill="#fadbd7"/>
<rect x="306.86" y="234.60" width="1.52" height="21.85" fill="#fef6f5"/>
<rect x="308.32" y="234.60" width="1.52" height="21.85" fill="#fadeda"/>
<rect x="309.79" y="234.60" width="1.52" height="21.85" fill="#fef5f4"/>
<rect x="311.26" y="234.60" width="1.52" height="21.85" fill="#f6c1ba"/>
<rect x="312.73" y="234.60" width="1.52" height="21.85" fill="#f7fcfd"/>
<rect x="314.20" y="234.60" width="1.52" height="21.85" fill="#fef8f8"/>
<rect x="315.67" y="234.60" width="1.52" height="21.85" fill="#fdfeff"/>
<rect x="317.14" y="234.60" width="1.52" height="21.85" fill="#fdf1ef"/>
<rect x="318.61" y="234.60" width="1.52" height="21.85" fill="#fef5f4"/>
<rect x="320.07" y="234.60" width="1.52" height="21.85" fill="#fbe3df"/>
<rect x="321.54" y="234.60" width="1.52" height="21.85" fill="#faddd9"/>
<rect x="323.01" y="234.60" width="1.52" height="21.85" fill="#f7c3bc"/>
<rect x="324.48" y="234.60" width="1.52" height="21.85" fill="#fadad6"/>
<rect x="325.95" y="234.60" width="1.52" height="21.85" fill="#fdfefe"/>
<rect x="327.42" y="234.60" width="1.52" height="21.85" fill="#ebf7fa"/>
<rect x="328.89" y="234.60" width="1.52" height="21.85" fill="#fdf0ee"/>
<rect x="330.36" y="234.60" width="1.52" height="21.85" fill="#f9fdfe"/>
<rect x="331.82" y="234.60" width="1.52" height="21.85" fill="#e8f6fa"/>
<rect x="333.29" y="234.60" width="1.52" height="21.85" fill="#fbdfdc"/>
<rect x="334.76" y="234.60" width="1.52" height="21.85" fill="#fefaf9"/>
<rect x="336.23" y="234.60" width="1.52" height="21.85" fill="#fafdfe"/>
<text transform="translate(340.7,248.2) scale(1.0,1.1)" font-size="7.4" fill="#222" font-family="Liberation Sans, sans-serif">TMCC2</text>
<text transform="translate(340.7,35.1) scale(1.0,1.1)" font-size="7.4" fill="#222" font-family="Liberation Sans, sans-serif">group</text>
<defs><linearGradient id="cb" x1="0" y1="0" x2="0" y2="1"><stop offset="0" stop-color="#E64B35"/><stop offset="0.5" stop-color="#ffffff"/><stop offset="1" stop-color="#4DBBD5"/></linearGradient></defs>
<rect x="380.6" y="27.2" width="10.2" height="153.4" fill="url(#cb)"/>
<text transform="translate(393.5,32.6) scale(1.0,1.1)" font-size="7.4" fill="#222" font-family="Liberation Sans, sans-serif">6</text>
<text transform="translate(393.5,57.3) scale(1.0,1.1)" font-size="7.4" fill="#222" font-family="Liberation Sans, sans-serif">4</text>
<text transform="translate(393.5,82.0) scale(1.0,1.1)" font-size="7.4" fill="#222" font-family="Liberation Sans, sans-serif">2</text>
<text transform="translate(393.5,106.8) scale(1.0,1.1)" font-size="7.4" fill="#222" font-family="Liberation Sans, sans-serif">0</text>
<text transform="translate(393.5,131.5) scale(1.0,1.1)" font-size="7.4" fill="#222" font-family="Liberation Sans, sans-serif">−2</text>
<text transform="translate(393.5,156.2) scale(1.0,1.1)" font-size="7.4" fill="#222" font-family="Liberation Sans, sans-serif">−4</text>
<text transform="translate(393.5,180.9) scale(1.0,1.1)" font-size="7.4" fill="#222" font-family="Liberation Sans, sans-serif">−6</text>
<text transform="translate(415.8,32.7) scale(1.0,1.1)" font-size="7.4" fill="#222" font-family="Liberation Sans, sans-serif">group</text>
<rect x="416" y="34.9" width="9.9" height="9.8" fill="#E64B35"/>
<rect x="416" y="44.7" width="9.9" height="10.3" fill="#4DBBD5"/>
<text transform="translate(428.5,43.1) scale(1.0,1.1)" font-size="7.4" fill="#222" font-family="Liberation Sans, sans-serif">Control</text>
<text transform="translate(428.5,53.0) scale(1.0,1.1)" font-size="7.4" fill="#222" font-family="Liberation Sans, sans-serif">Sepsis_ALI</text>
<text transform="translate(514.3,52.2) scale(1.0,1.1)" font-size="10.3" fill="#F98A2A" font-family="Liberation Sans, sans-serif">Autophagy_related</text>
<text transform="translate(514.3,64.6) scale(1.0,1.1)" font-size="10.3" fill="#F98A2A" font-family="Liberation Sans, sans-serif">module_gene</text>
<circle cx="557.2" cy="154.5" r="81.5" fill="#FDBE87" stroke="#111" stroke-width="1.2"/>
<defs><clipPath id="bigc"><circle cx="557.2" cy="154.5" r="81.5"/></clipPath></defs>
<circle cx="642.8" cy="154.8" r="16.3" fill="#8DBCDD" stroke="#111" stroke-width="1.2"/>
<circle cx="642.8" cy="154.8" r="16.3" fill="#959FA4" clip-path="url(#bigc)"/>
<circle cx="557.2" cy="154.5" r="81.5" fill="none" stroke="#111" stroke-width="1.2"/>
<circle cx="642.8" cy="154.8" r="16.3" fill="none" stroke="#111" stroke-width="1.2"/>
<line x1="632.5" y1="93.5" x2="632.5" y2="155.5" stroke="#000" stroke-width="1.25"/>
<line x1="653.5" y1="135" x2="653.5" y2="149.3" stroke="#000" stroke-width="1.25"/>
<text transform="translate(557.7,157.2) scale(1.0,1.1)" font-size="10.3" text-anchor="middle" fill="#222" font-family="Liberation Sans, sans-serif">1403</text>
<text transform="translate(633,88.6) scale(1.0,1.1)" font-size="10.3" text-anchor="middle" fill="#222" font-family="Liberation Sans, sans-serif">18</text>
<text transform="translate(652.6,132.8) scale(1.0,1.1)" font-size="10.3" text-anchor="middle" fill="#222" font-family="Liberation Sans, sans-serif">38</text>
<text transform="translate(657.6,173.7) scale(1.0,1.1)" font-size="10.3" fill="#3A8DC2" font-family="Liberation Sans, sans-serif">DEGs</text>
<text transform="translate(274.7,307.7) scale(1.0,1.1)" font-size="9.4" fill="#222" font-family="Liberation Sans, sans-serif">group</text>
<line x1="315.59999999999997" y1="294.9" x2="315.59999999999997" y2="313.4" stroke="#E64B35" stroke-width="1.4"/><rect x="306.5" y="298.3" width="18.3" height="12.1" fill="#F6BAB0" stroke="#E64B35" stroke-width="1.4"/><line x1="306.5" y1="304.5" x2="324.8" y2="304.5" stroke="#E64B35" stroke-width="1.6"/><text x="315.59999999999997" y="308.6" font-size="6.5" text-anchor="middle" fill="#E64B35" font-family="Liberation Sans, sans-serif">a</text><polygon points="315.59999999999997,301.9 317.7,304.1 315.59999999999997,306.3 313.49999999999994,304.1" fill="white" stroke="#E64B35" stroke-width="0.7"/>
<text transform="translate(333,307.7) scale(1.0,1.1)" font-size="9.4" fill="#222" font-family="Liberation Sans, sans-serif">Control</text>
<line x1="380.29999999999995" y1="294.9" x2="380.29999999999995" y2="313.4" stroke="#4DBBD5" stroke-width="1.4"/><rect x="371.2" y="298.3" width="18.3" height="12.1" fill="#B9E3EC" stroke="#4DBBD5" stroke-width="1.4"/><line x1="371.2" y1="304.5" x2="389.5" y2="304.5" stroke="#4DBBD5" stroke-width="1.6"/><text x="380.29999999999995" y="308.6" font-size="6.5" text-anchor="middle" fill="#4DBBD5" font-family="Liberation Sans, sans-serif">a</text><polygon points="380.29999999999995,301.9 382.4,304.1 380.29999999999995,306.3 378.19999999999993,304.1" fill="white" stroke="#4DBBD5" stroke-width="0.7"/>
<text transform="translate(397.9,307.7) scale(1.0,1.1)" font-size="9.4" fill="#222" font-family="Liberation Sans, sans-serif">Sepsis_ALI</text>
<text transform="translate(60.3,338.8) scale(1.0,1.1)" font-size="12" text-anchor="middle" fill="#222" font-family="Liberation Sans, sans-serif">**</text>
<circle cx="53.699999999999996" cy="419.5" r="1.85" fill="#E64B35" fill-opacity="0.5"/>
<circle cx="53.699999999999996" cy="426" r="1.85" fill="#E64B35" fill-opacity="0.5"/>
<circle cx="53.699999999999996" cy="429" r="1.85" fill="#E64B35" fill-opacity="0.5"/>
<circle cx="53.699999999999996" cy="440" r="1.85" fill="#E64B35" fill-opacity="0.5"/>
<circle cx="53.699999999999996" cy="442.5" r="1.85" fill="#E64B35" fill-opacity="0.5"/>
<circle cx="53.699999999999996" cy="445" r="1.85" fill="#E64B35" fill-opacity="0.5"/>
<circle cx="53.699999999999996" cy="447.5" r="1.85" fill="#E64B35" fill-opacity="0.5"/>
<circle cx="53.699999999999996" cy="450" r="1.85" fill="#E64B35" fill-opacity="0.5"/>
<circle cx="53.699999999999996" cy="454" r="1.85" fill="#E64B35" fill-opacity="0.5"/>
<circle cx="53.699999999999996" cy="454.3" r="1.85" fill="#E64B35" fill-opacity="0.5"/>
<line x1="53.699999999999996" y1="459.7" x2="53.699999999999996" y2="485" stroke="#E64B35" stroke-width="1.4"/>
<rect x="47.849999999999994" y="467.3" width="11.7" height="7.800000000000011" fill="#F6BAB0" stroke="#E64B35" stroke-width="1.5"/>
<line x1="47.849999999999994" y1="471.5" x2="59.55" y2="471.5" stroke="#E64B35" stroke-width="2.2"/>
<polygon points="53.699999999999996,465.45 56.15,467.9 53.699999999999996,470.34999999999997 51.24999999999999,467.9" fill="white" stroke="#E64B35" stroke-width="0.9"/>
<line x1="67.0" y1="412.3" x2="67.0" y2="477.5" stroke="#4DBBD5" stroke-width="1.4"/>
<rect x="61.15" y="446.2" width="11.7" height="28.0" fill="#B9E3EC" stroke="#4DBBD5" stroke-width="1.5"/>
<line x1="61.15" y1="467" x2="72.85" y2="467" stroke="#4DBBD5" stroke-width="2.2"/>
<polygon points="67.0,457.25 69.45,459.7 67.0,462.15 64.55,459.7" fill="white" stroke="#4DBBD5" stroke-width="0.9"/>
<line x1="60.3" y1="493.35" x2="60.3" y2="497.35" stroke="#222" stroke-width="1.2"/>
<text transform="translate(63.699999999999996,501.15000000000003) rotate(-90) scale(1.0,1.1)" font-size="9.4" text-anchor="end" fill="#222" font-family="Liberation Sans, sans-serif">AMPH</text>
<text transform="translate(95.59,338.8) scale(1.0,1.1)" font-size="12" text-anchor="middle" fill="#222" font-family="Liberation Sans, sans-serif">**</text>
<circle cx="88.99000000000001" cy="410.7" r="1.85" fill="#E64B35" fill-opacity="0.5"/>
<circle cx="88.99000000000001" cy="410.9" r="1.85" fill="#E64B35" fill-opacity="0.5"/>
<circle cx="88.99000000000001" cy="424.6" r="1.85" fill="#E64B35" fill-opacity="0.5"/>
<circle cx="88.99000000000001" cy="429.5" r="1.85" fill="#E64B35" fill-opacity="0.5"/>
<circle cx="88.99000000000001" cy="437.3" r="1.85" fill="#E64B35" fill-opacity="0.5"/>
<line x1="88.99000000000001" y1="353.9" x2="88.99000000000001" y2="406.6" stroke="#E64B35" stroke-width="1.4"/>
<rect x="83.14000000000001" y="373.5" width="11.7" height="14.899999999999977" fill="#F6BAB0" stroke="#E64B35" stroke-width="1.5"/>
<line x1="83.14000000000001" y1="378.4" x2="94.84" y2="378.4" stroke="#E64B35" stroke-width="2.2"/>
<polygon points="88.99000000000001,379.75 91.44000000000001,382.2 88.99000000000001,384.65 86.54,382.2" fill="white" stroke="#E64B35" stroke-width="0.9"/>
<circle cx="102.29" cy="347.7" r="1.85" fill="#4DBBD5" fill-opacity="0.5"/>
<circle cx="102.29" cy="453.6" r="1.85" fill="#4DBBD5" fill-opacity="0.5"/>
<circle cx="102.29" cy="455.6" r="1.85" fill="#4DBBD5" fill-opacity="0.5"/>
<circle cx="102.29" cy="457.7" r="1.85" fill="#4DBBD5" fill-opacity="0.5"/>
<line x1="102.29" y1="364.8" x2="102.29" y2="413.4" stroke="#4DBBD5" stroke-width="1.4"/>
<rect x="96.44000000000001" y="378.9" width="11.7" height="16.900000000000034" fill="#B9E3EC" stroke="#4DBBD5" stroke-width="1.5"/>
<line x1="96.44000000000001" y1="383.8" x2="108.14" y2="383.8" stroke="#4DBBD5" stroke-width="2.2"/>
<polygon points="102.29,387.85 104.74000000000001,390.3 102.29,392.75 99.84,390.3" fill="white" stroke="#4DBBD5" stroke-width="0.9"/>
<line x1="95.59" y1="493.35" x2="95.59" y2="497.35" stroke="#222" stroke-width="1.2"/>
<text transform="translate(98.99000000000001,501.15000000000003) rotate(-90) scale(1.0,1.1)" font-size="9.4" text-anchor="end" fill="#222" font-family="Liberation Sans, sans-serif">BTG1</text>
<text transform="translate(130.88,338.8) scale(1.0,1.1)" font-size="12" text-anchor="middle" fill="#222" font-family="Liberation Sans, sans-serif">***</text>
<line x1="124.28" y1="411" x2="124.28" y2="463.2" stroke="#E64B35" stroke-width="1.4"/>
<rect x="118.43" y="426.7" width="11.7" height="22.30000000000001" fill="#F6BAB0" stroke="#E64B35" stroke-width="1.5"/>
<line x1="118.43" y1="438.2" x2="130.13" y2="438.2" stroke="#E64B35" stroke-width="2.2"/>
<polygon points="124.28,435.75 126.73,438.2 124.28,440.65 121.83,438.2" fill="white" stroke="#E64B35" stroke-width="0.9"/>
<line x1="137.57999999999998" y1="423" x2="137.57999999999998" y2="463.7" stroke="#4DBBD5" stroke-width="1.4"/>
<rect x="131.73" y="440" width="11.7" height="14.5" fill="#B9E3EC" stroke="#4DBBD5" stroke-width="1.5"/>
<line x1="131.73" y1="449" x2="143.42999999999998" y2="449" stroke="#4DBBD5" stroke-width="2.2"/>
<polygon points="137.57999999999998,443.85 140.02999999999997,446.3 137.57999999999998,448.75 135.13,446.3" fill="white" stroke="#4DBBD5" stroke-width="0.9"/>
<line x1="130.88" y1="493.35" x2="130.88" y2="497.35" stroke="#222" stroke-width="1.2"/>
<text transform="translate(134.28,501.15000000000003) rotate(-90) scale(1.0,1.1)" font-size="9.4" text-anchor="end" fill="#222" font-family="Liberation Sans, sans-serif">CD4</text>
<text transform="translate(166.17000000000002,338.8) scale(1.0,1.1)" font-size="12" text-anchor="middle" fill="#222" font-family="Liberation Sans, sans-serif">****</text>
<circle cx="159.57000000000002" cy="374.3" r="1.85" fill="#E64B35" fill-opacity="0.5"/>
<circle cx="159.57000000000002" cy="433.8" r="1.85" fill="#E64B35" fill-opacity="0.5"/>
<circle cx="159.57000000000002" cy="439.2" r="1.85" fill="#E64B35" fill-opacity="0.5"/>
<line x1="159.57000000000002" y1="391.4" x2="159.57000000000002" y2="427" stroke="#E64B35" stroke-width="1.4"/>
<rect x="153.72000000000003" y="403.9" width="11.7" height="11.700000000000045" fill="#F6BAB0" stroke="#E64B35" stroke-width="1.5"/>
<line x1="153.72000000000003" y1="410.2" x2="165.42000000000002" y2="410.2" stroke="#E64B35" stroke-width="2.2"/>
<polygon points="159.57000000000002,407.95 162.02,410.4 159.57000000000002,412.84999999999997 157.12000000000003,410.4" fill="white" stroke="#E64B35" stroke-width="0.9"/>
<circle cx="172.87" cy="392" r="1.85" fill="#4DBBD5" fill-opacity="0.5"/>
<circle cx="172.87" cy="398" r="1.85" fill="#4DBBD5" fill-opacity="0.5"/>
<circle cx="172.87" cy="438" r="1.85" fill="#4DBBD5" fill-opacity="0.5"/>
<circle cx="172.87" cy="440.5" r="1.85" fill="#4DBBD5" fill-opacity="0.5"/>
<circle cx="172.87" cy="443" r="1.85" fill="#4DBBD5" fill-opacity="0.5"/>
<circle cx="172.87" cy="446" r="1.85" fill="#4DBBD5" fill-opacity="0.5"/>
<line x1="172.87" y1="401.5" x2="172.87" y2="434.6" stroke="#4DBBD5" stroke-width="1.4"/>
<rect x="167.02" y="413.4" width="11.7" height="9.0" fill="#B9E3EC" stroke="#4DBBD5" stroke-width="1.5"/>
<line x1="167.02" y1="416.4" x2="178.72" y2="416.4" stroke="#4DBBD5" stroke-width="2.2"/>
<polygon points="172.87,416.15000000000003 175.32,418.6 172.87,421.05 170.42000000000002,418.6" fill="white" stroke="#4DBBD5" stroke-width="0.9"/>
<line x1="166.17000000000002" y1="493.35" x2="166.17000000000002" y2="497.35" stroke="#222" stroke-width="1.2"/>
<text transform="translate(169.57000000000002,501.15000000000003) rotate(-90) scale(1.0,1.1)" font-size="9.4" text-anchor="end" fill="#222" font-family="Liberation Sans, sans-serif">CDK2AP1</text>
<text transform="translate(201.45999999999998,338.8) scale(1.0,1.1)" font-size="12" text-anchor="middle" fill="#222" font-family="Liberation Sans, sans-serif">*</text>
<circle cx="194.85999999999999" cy="452.3" r="1.85" fill="#E64B35" fill-opacity="0.5"/>
<circle cx="194.85999999999999" cy="454" r="1.85" fill="#E64B35" fill-opacity="0.5"/>
<circle cx="194.85999999999999" cy="455.5" r="1.85" fill="#E64B35" fill-opacity="0.5"/>
<line x1="194.85999999999999" y1="385.7" x2="194.85999999999999" y2="434.6" stroke="#E64B35" stroke-width="1.4"/>
<rect x="189.01" y="405.5" width="11.7" height="16.30000000000001" fill="#F6BAB0" stroke="#E64B35" stroke-width="1.5"/>
<line x1="189.01" y1="414.2" x2="200.70999999999998" y2="414.2" stroke="#E64B35" stroke-width="2.2"/>
<polygon points="194.85999999999999,412.35 197.30999999999997,414.8 194.85999999999999,417.25 192.41,414.8" fill="white" stroke="#E64B35" stroke-width="0.9"/>
<line x1="208.15999999999997" y1="405.5" x2="208.15999999999997" y2="453.6" stroke="#4DBBD5" stroke-width="1.4"/>
<rect x="202.30999999999997" y="410.2" width="11.7" height="19.0" fill="#B9E3EC" stroke="#4DBBD5" stroke-width="1.5"/>
<line x1="202.30999999999997" y1="416.4" x2="214.00999999999996" y2="416.4" stroke="#4DBBD5" stroke-width="2.2"/>
<polygon points="208.15999999999997,419.35 210.60999999999996,421.8 208.15999999999997,424.25 205.70999999999998,421.8" fill="white" stroke="#4DBBD5" stroke-width="0.9"/>
<line x1="201.45999999999998" y1="493.35" x2="201.45999999999998" y2="497.35" stroke="#222" stroke-width="1.2"/>
<text transform="translate(204.85999999999999,501.15000000000003) rotate(-90) scale(1.0,1.1)" font-size="9.4" text-anchor="end" fill="#222" font-family="Liberation Sans, sans-serif">CDKN1A</text>
<text transform="translate(236.75,338.8) scale(1.0,1.1)" font-size="12" text-anchor="middle" fill="#222" font-family="Liberation Sans, sans-serif">*</text>
<circle cx="230.15" cy="354.8" r="1.85" fill="#E64B35" fill-opacity="0.5"/>
<circle cx="230.15" cy="356.6" r="1.85" fill="#E64B35" fill-opacity="0.5"/>
<circle cx="230.15" cy="411.5" r="1.85" fill="#E64B35" fill-opacity="0.5"/>
<circle cx="230.15" cy="475.4" r="1.85" fill="#E64B35" fill-opacity="0.5"/>
<circle cx="230.15" cy="477.2" r="1.85" fill="#E64B35" fill-opacity="0.5"/>
<circle cx="230.15" cy="479" r="1.85" fill="#E64B35" fill-opacity="0.5"/>
<line x1="230.15" y1="415" x2="230.15" y2="453.1" stroke="#E64B35" stroke-width="1.4"/>
<rect x="224.3" y="431.6" width="11.7" height="13.099999999999966" fill="#F6BAB0" stroke="#E64B35" stroke-width="1.5"/>
<line x1="224.3" y1="441.4" x2="236.0" y2="441.4" stroke="#E64B35" stroke-width="2.2"/>
<polygon points="230.15,434.85 232.6,437.3 230.15,439.75 227.70000000000002,437.3" fill="white" stroke="#E64B35" stroke-width="0.9"/>
<circle cx="243.45" cy="328.6" r="1.85" fill="#4DBBD5" fill-opacity="0.5"/>
<circle cx="243.45" cy="335.2" r="1.85" fill="#4DBBD5" fill-opacity="0.5"/>
<circle cx="243.45" cy="362.6" r="1.85" fill="#4DBBD5" fill-opacity="0.5"/>
<circle cx="243.45" cy="477.3" r="1.85" fill="#4DBBD5" fill-opacity="0.5"/>
<line x1="243.45" y1="408.3" x2="243.45" y2="460.4" stroke="#4DBBD5" stroke-width="1.4"/>
<rect x="237.6" y="421.8" width="11.7" height="20.19999999999999" fill="#B9E3EC" stroke="#4DBBD5" stroke-width="1.5"/>
<line x1="237.6" y1="434.6" x2="249.29999999999998" y2="434.6" stroke="#4DBBD5" stroke-width="2.2"/>
<polygon points="243.45,425.95 245.89999999999998,428.4 243.45,430.84999999999997 241.0,428.4" fill="white" stroke="#4DBBD5" stroke-width="0.9"/>
<line x1="236.75" y1="493.35" x2="236.75" y2="497.35" stroke="#222" stroke-width="1.2"/>
<text transform="translate(240.15,501.15000000000003) rotate(-90) scale(1.0,1.1)" font-size="9.4" text-anchor="end" fill="#222" font-family="Liberation Sans, sans-serif">CEACAM21</text>
<text transform="translate(272.04,338.8) scale(1.0,1.1)" font-size="12" text-anchor="middle" fill="#222" font-family="Liberation Sans, sans-serif">*</text>
<circle cx="265.44" cy="459.1" r="1.85" fill="#E64B35" fill-opacity="0.5"/>
<circle cx="265.44" cy="467.2" r="1.85" fill="#E64B35" fill-opacity="0.5"/>
<line x1="265.44" y1="345" x2="265.44" y2="433.8" stroke="#E64B35" stroke-width="1.4"/>
<rect x="259.59" y="370.2" width="11.7" height="33.19999999999999" fill="#F6BAB0" stroke="#E64B35" stroke-width="1.5"/>
<line x1="259.59" y1="391.1" x2="271.29" y2="391.1" stroke="#E64B35" stroke-width="2.2"/>
<polygon points="265.44,385.95 267.89,388.4 265.44,390.84999999999997 262.99,388.4" fill="white" stroke="#E64B35" stroke-width="0.9"/>
<circle cx="278.74" cy="463.2" r="1.85" fill="#4DBBD5" fill-opacity="0.5"/>
<line x1="278.74" y1="348.5" x2="278.74" y2="457.7" stroke="#4DBBD5" stroke-width="1.4"/>
<rect x="272.89" y="380.3" width="11.7" height="31.80000000000001" fill="#B9E3EC" stroke="#4DBBD5" stroke-width="1.5"/>
<line x1="272.89" y1="395.2" x2="284.59000000000003" y2="395.2" stroke="#4DBBD5" stroke-width="2.2"/>
<polygon points="278.74,396.05 281.19,398.5 278.74,400.95 276.29,398.5" fill="white" stroke="#4DBBD5" stroke-width="0.9"/>
<line x1="272.04" y1="493.35" x2="272.04" y2="497.35" stroke="#222" stroke-width="1.2"/>
<text transform="translate(275.44,501.15000000000003) rotate(-90) scale(1.0,1.1)" font-size="9.4" text-anchor="end" fill="#222" font-family="Liberation Sans, sans-serif">CFD</text>
<text transform="translate(307.33,338.8) scale(1.0,1.1)" font-size="12" text-anchor="middle" fill="#222" font-family="Liberation Sans, sans-serif">**</text>
<circle cx="300.72999999999996" cy="398.5" r="1.85" fill="#E64B35" fill-opacity="0.5"/>
<circle cx="300.72999999999996" cy="404.2" r="1.85" fill="#E64B35" fill-opacity="0.5"/>
<circle cx="300.72999999999996" cy="425.9" r="1.85" fill="#E64B35" fill-opacity="0.5"/>
<line x1="300.72999999999996" y1="340.9" x2="300.72999999999996" y2="393.9" stroke="#E64B35" stroke-width="1.4"/>
<rect x="294.87999999999994" y="355.8" width="11.7" height="16.30000000000001" fill="#F6BAB0" stroke="#E64B35" stroke-width="1.5"/>
<line x1="294.87999999999994" y1="363.2" x2="306.58" y2="363.2" stroke="#E64B35" stroke-width="2.2"/>
<polygon points="300.72999999999996,363.65000000000003 303.17999999999995,366.1 300.72999999999996,368.55 298.28,366.1" fill="white" stroke="#E64B35" stroke-width="0.9"/>
<circle cx="314.03" cy="422.4" r="1.85" fill="#4DBBD5" fill-opacity="0.5"/>
<circle cx="314.03" cy="436.8" r="1.85" fill="#4DBBD5" fill-opacity="0.5"/>
<circle cx="314.03" cy="439" r="1.85" fill="#4DBBD5" fill-opacity="0.5"/>
<circle cx="314.03" cy="441.4" r="1.85" fill="#4DBBD5" fill-opacity="0.5"/>
<line x1="314.03" y1="340.3" x2="314.03" y2="404.7" stroke="#4DBBD5" stroke-width="1.4"/>
<rect x="308.17999999999995" y="363.2" width="11.7" height="17.900000000000034" fill="#B9E3EC" stroke="#4DBBD5" stroke-width="1.5"/>
<line x1="308.17999999999995" y1="370.2" x2="319.88" y2="370.2" stroke="#4DBBD5" stroke-width="2.2"/>
<polygon points="314.03,372.95 316.47999999999996,375.4 314.03,377.84999999999997 311.58,375.4" fill="white" stroke="#4DBBD5" stroke-width="0.9"/>
<line x1="307.33" y1="493.35" x2="307.33" y2="497.35" stroke="#222" stroke-width="1.2"/>
<text transform="translate(310.72999999999996,501.15000000000003) rotate(-90) scale(1.0,1.1)" font-size="9.4" text-anchor="end" fill="#222" font-family="Liberation Sans, sans-serif">CST3</text>
<text transform="translate(342.62,338.8) scale(1.0,1.1)" font-size="12" text-anchor="middle" fill="#222" font-family="Liberation Sans, sans-serif">***</text>
<circle cx="336.02" cy="446.3" r="1.85" fill="#E64B35" fill-opacity="0.5"/>
<circle cx="336.02" cy="446.5" r="1.85" fill="#E64B35" fill-opacity="0.5"/>
<line x1="336.02" y1="357.7" x2="336.02" y2="418.3" stroke="#E64B35" stroke-width="1.4"/>
<rect x="330.16999999999996" y="376.2" width="11.7" height="18.19999999999999" fill="#F6BAB0" stroke="#E64B35" stroke-width="1.5"/>
<line x1="330.16999999999996" y1="381.6" x2="341.87" y2="381.6" stroke="#E64B35" stroke-width="2.2"/>
<polygon points="336.02,383.25 338.46999999999997,385.7 336.02,388.15 333.57,385.7" fill="white" stroke="#E64B35" stroke-width="0.9"/>
<circle cx="349.32" cy="426.5" r="1.85" fill="#4DBBD5" fill-opacity="0.5"/>
<line x1="349.32" y1="368.6" x2="349.32" y2="422.4" stroke="#4DBBD5" stroke-width="1.4"/>
<rect x="343.46999999999997" y="384.3" width="11.7" height="15.800000000000011" fill="#B9E3EC" stroke="#4DBBD5" stroke-width="1.5"/>
<line x1="343.46999999999997" y1="391.1" x2="355.17" y2="391.1" stroke="#4DBBD5" stroke-width="2.2"/>
<polygon points="349.32,391.45 351.77,393.9 349.32,396.34999999999997 346.87,393.9" fill="white" stroke="#4DBBD5" stroke-width="0.9"/>
<line x1="342.62" y1="493.35" x2="342.62" y2="497.35" stroke="#222" stroke-width="1.2"/>
<text transform="translate(346.02,501.15000000000003) rotate(-90) scale(1.0,1.1)" font-size="9.4" text-anchor="end" fill="#222" font-family="Liberation Sans, sans-serif">FGL2</text>
<text transform="translate(377.91,338.8) scale(1.0,1.1)" font-size="12" text-anchor="middle" fill="#222" font-family="Liberation Sans, sans-serif">*</text>
<circle cx="371.31" cy="451.5" r="1.85" fill="#E64B35" fill-opacity="0.5"/>
<circle cx="371.31" cy="455.5" r="1.85" fill="#E64B35" fill-opacity="0.5"/>
<line x1="371.31" y1="369.4" x2="371.31" y2="431.9" stroke="#E64B35" stroke-width="1.4"/>
<rect x="365.46" y="396" width="11.7" height="20.399999999999977" fill="#F6BAB0" stroke="#E64B35" stroke-width="1.5"/>
<line x1="365.46" y1="406.1" x2="377.16" y2="406.1" stroke="#E64B35" stroke-width="2.2"/>
<polygon points="371.31,403.05 373.76,405.5 371.31,407.95 368.86,405.5" fill="white" stroke="#E64B35" stroke-width="0.9"/>
<line x1="384.61" y1="383.8" x2="384.61" y2="455" stroke="#4DBBD5" stroke-width="1.4"/>
<rect x="378.76" y="400.1" width="11.7" height="23.099999999999966" fill="#B9E3EC" stroke="#4DBBD5" stroke-width="1.5"/>
<line x1="378.76" y1="411.5" x2="390.46000000000004" y2="411.5" stroke="#4DBBD5" stroke-width="2.2"/>
<polygon points="384.61,411.75 387.06,414.2 384.61,416.65 382.16,414.2" fill="white" stroke="#4DBBD5" stroke-width="0.9"/>
<line x1="377.91" y1="493.35" x2="377.91" y2="497.35" stroke="#222" stroke-width="1.2"/>
<text transform="translate(381.31,501.15000000000003) rotate(-90) scale(1.0,1.1)" font-size="9.4" text-anchor="end" fill="#222" font-family="Liberation Sans, sans-serif">HSPB1</text>
<text transform="translate(413.2,338.8) scale(1.0,1.1)" font-size="12" text-anchor="middle" fill="#222" font-family="Liberation Sans, sans-serif">**</text>
<line x1="406.59999999999997" y1="370.2" x2="406.59999999999997" y2="451.5" stroke="#E64B35" stroke-width="1.4"/>
<rect x="400.74999999999994" y="401.5" width="11.7" height="23.600000000000023" fill="#F6BAB0" stroke="#E64B35" stroke-width="1.5"/>
<line x1="400.74999999999994" y1="414.2" x2="412.45" y2="414.2" stroke="#E64B35" stroke-width="2.2"/>
<polygon points="406.59999999999997,411.75 409.04999999999995,414.2 406.59999999999997,416.65 404.15,414.2" fill="white" stroke="#E64B35" stroke-width="0.9"/>
<circle cx="419.9" cy="380.3" r="1.85" fill="#4DBBD5" fill-opacity="0.5"/>
<line x1="419.9" y1="400.7" x2="419.9" y2="457.7" stroke="#4DBBD5" stroke-width="1.4"/>
<rect x="414.04999999999995" y="413.4" width="11.7" height="20.700000000000045" fill="#B9E3EC" stroke="#4DBBD5" stroke-width="1.5"/>
<line x1="414.04999999999995" y1="422.4" x2="425.75" y2="422.4" stroke="#4DBBD5" stroke-width="2.2"/>
<polygon points="419.9,421.85 422.34999999999997,424.3 419.9,426.75 417.45,424.3" fill="white" stroke="#4DBBD5" stroke-width="0.9"/>
<line x1="413.2" y1="493.35" x2="413.2" y2="497.35" stroke="#222" stroke-width="1.2"/>
<text transform="translate(416.59999999999997,501.15000000000003) rotate(-90) scale(1.0,1.1)" font-size="9.4" text-anchor="end" fill="#222" font-family="Liberation Sans, sans-serif">LIPA</text>
<text transform="translate(448.49,338.8) scale(1.0,1.1)" font-size="12" text-anchor="middle" fill="#222" font-family="Liberation Sans, sans-serif">***</text>
<circle cx="441.89" cy="404.7" r="1.85" fill="#E64B35" fill-opacity="0.5"/>
<circle cx="441.89" cy="404.9" r="1.85" fill="#E64B35" fill-opacity="0.5"/>
<circle cx="441.89" cy="446.8" r="1.85" fill="#E64B35" fill-opacity="0.5"/>
<circle cx="441.89" cy="450.9" r="1.85" fill="#E64B35" fill-opacity="0.5"/>
<circle cx="441.89" cy="464.5" r="1.85" fill="#E64B35" fill-opacity="0.5"/>
<circle cx="441.89" cy="470.8" r="1.85" fill="#E64B35" fill-opacity="0.5"/>
<line x1="441.89" y1="408.3" x2="441.89" y2="442.2" stroke="#E64B35" stroke-width="1.4"/>
<rect x="436.03999999999996" y="421" width="11.7" height="9.5" fill="#F6BAB0" stroke="#E64B35" stroke-width="1.5"/>
<line x1="436.03999999999996" y1="423.8" x2="447.74" y2="423.8" stroke="#E64B35" stroke-width="2.2"/>
<polygon points="441.89,424.55 444.34,427 441.89,429.45 439.44,427" fill="white" stroke="#E64B35" stroke-width="0.9"/>
<circle cx="455.19" cy="464.5" r="1.85" fill="#4DBBD5" fill-opacity="0.5"/>
<circle cx="455.19" cy="468.6" r="1.85" fill="#4DBBD5" fill-opacity="0.5"/>
<circle cx="455.19" cy="472.7" r="1.85" fill="#4DBBD5" fill-opacity="0.5"/>
<line x1="455.19" y1="419.1" x2="455.19" y2="457.7" stroke="#4DBBD5" stroke-width="1.4"/>
<rect x="449.34" y="425.7" width="11.7" height="13.800000000000011" fill="#B9E3EC" stroke="#4DBBD5" stroke-width="1.5"/>
<line x1="449.34" y1="430.5" x2="461.04" y2="430.5" stroke="#4DBBD5" stroke-width="2.2"/>
<polygon points="455.19,432.15000000000003 457.64,434.6 455.19,437.05 452.74,434.6" fill="white" stroke="#4DBBD5" stroke-width="0.9"/>
<line x1="448.49" y1="493.35" x2="448.49" y2="497.35" stroke="#222" stroke-width="1.2"/>
<text transform="translate(451.89,501.15000000000003) rotate(-90) scale(1.0,1.1)" font-size="9.4" text-anchor="end" fill="#222" font-family="Liberation Sans, sans-serif">M6PR</text>
<text transform="translate(483.78000000000003,338.8) scale(1.0,1.1)" font-size="12" text-anchor="middle" fill="#222" font-family="Liberation Sans, sans-serif">**</text>
<circle cx="477.18" cy="461.8" r="1.85" fill="#E64B35" fill-opacity="0.5"/>
<circle cx="477.18" cy="463.2" r="1.85" fill="#E64B35" fill-opacity="0.5"/>
<circle cx="477.18" cy="464.5" r="1.85" fill="#E64B35" fill-opacity="0.5"/>
<circle cx="477.18" cy="463" r="1.85" fill="#E64B35" fill-opacity="0.5"/>
<circle cx="477.18" cy="470" r="1.85" fill="#E64B35" fill-opacity="0.5"/>
<line x1="477.18" y1="393" x2="477.18" y2="446.8" stroke="#E64B35" stroke-width="1.4"/>
<rect x="471.33" y="414.2" width="11.7" height="16.30000000000001" fill="#F6BAB0" stroke="#E64B35" stroke-width="1.5"/>
<line x1="471.33" y1="421" x2="483.03000000000003" y2="421" stroke="#E64B35" stroke-width="2.2"/>
<polygon points="477.18,421.85 479.63,424.3 477.18,426.75 474.73,424.3" fill="white" stroke="#E64B35" stroke-width="0.9"/>
<line x1="490.48" y1="407.4" x2="490.48" y2="466.7" stroke="#4DBBD5" stroke-width="1.4"/>
<rect x="484.63" y="421.6" width="11.7" height="19.799999999999955" fill="#B9E3EC" stroke="#4DBBD5" stroke-width="1.5"/>
<line x1="484.63" y1="429.2" x2="496.33000000000004" y2="429.2" stroke="#4DBBD5" stroke-width="2.2"/>
<polygon points="490.48,429.95 492.93,432.4 490.48,434.84999999999997 488.03000000000003,432.4" fill="white" stroke="#4DBBD5" stroke-width="0.9"/>
<line x1="483.78000000000003" y1="493.35" x2="483.78000000000003" y2="497.35" stroke="#222" stroke-width="1.2"/>
<text transform="translate(487.18,501.15000000000003) rotate(-90) scale(1.0,1.1)" font-size="9.4" text-anchor="end" fill="#222" font-family="Liberation Sans, sans-serif">MARCKSL1</text>
<text transform="translate(519.0699999999999,338.8) scale(1.0,1.1)" font-size="12" text-anchor="middle" fill="#222" font-family="Liberation Sans, sans-serif">***</text>
<line x1="512.4699999999999" y1="348.5" x2="512.4699999999999" y2="474.6" stroke="#E64B35" stroke-width="1.4"/>
<rect x="506.6199999999999" y="370.8" width="11.7" height="41.30000000000001" fill="#F6BAB0" stroke="#E64B35" stroke-width="1.5"/>
<line x1="506.6199999999999" y1="387.6" x2="518.3199999999999" y2="387.6" stroke="#E64B35" stroke-width="2.2"/>
<polygon points="512.4699999999999,392.75 514.92,395.2 512.4699999999999,397.65 510.0199999999999,395.2" fill="white" stroke="#E64B35" stroke-width="0.9"/>
<line x1="525.77" y1="359.9" x2="525.77" y2="470.8" stroke="#4DBBD5" stroke-width="1.4"/>
<rect x="519.92" y="393" width="11.7" height="37.5" fill="#B9E3EC" stroke="#4DBBD5" stroke-width="1.5"/>
<line x1="519.92" y1="408.8" x2="531.62" y2="408.8" stroke="#4DBBD5" stroke-width="2.2"/>
<polygon points="525.77,411.25 528.22,413.7 525.77,416.15 523.3199999999999,413.7" fill="white" stroke="#4DBBD5" stroke-width="0.9"/>
<line x1="519.0699999999999" y1="493.35" x2="519.0699999999999" y2="497.35" stroke="#222" stroke-width="1.2"/>
<text transform="translate(522.4699999999999,501.15000000000003) rotate(-90) scale(1.0,1.1)" font-size="9.4" text-anchor="end" fill="#222" font-family="Liberation Sans, sans-serif">PI3</text>
<text transform="translate(554.36,338.8) scale(1.0,1.1)" font-size="12" text-anchor="middle" fill="#222" font-family="Liberation Sans, sans-serif">*</text>
<circle cx="547.76" cy="358" r="1.85" fill="#E64B35" fill-opacity="0.5"/>
<circle cx="547.76" cy="364.5" r="1.85" fill="#E64B35" fill-opacity="0.5"/>
<circle cx="547.76" cy="455.8" r="1.85" fill="#E64B35" fill-opacity="0.5"/>
<circle cx="547.76" cy="462.6" r="1.85" fill="#E64B35" fill-opacity="0.5"/>
<line x1="547.76" y1="370.2" x2="547.76" y2="435.4" stroke="#E64B35" stroke-width="1.4"/>
<rect x="541.91" y="397.1" width="11.7" height="19.899999999999977" fill="#F6BAB0" stroke="#E64B35" stroke-width="1.5"/>
<line x1="541.91" y1="408.8" x2="553.61" y2="408.8" stroke="#E64B35" stroke-width="2.2"/>
<polygon points="547.76,404.45 550.21,406.9 547.76,409.34999999999997 545.31,406.9" fill="white" stroke="#E64B35" stroke-width="0.9"/>
<circle cx="561.0600000000001" cy="453.6" r="1.85" fill="#4DBBD5" fill-opacity="0.5"/>
<circle cx="561.0600000000001" cy="456.3" r="1.85" fill="#4DBBD5" fill-opacity="0.5"/>
<circle cx="561.0600000000001" cy="459.1" r="1.85" fill="#4DBBD5" fill-opacity="0.5"/>
<line x1="561.0600000000001" y1="379.7" x2="561.0600000000001" y2="448.2" stroke="#4DBBD5" stroke-width="1.4"/>
<rect x="555.21" y="404.7" width="11.7" height="19.600000000000023" fill="#B9E3EC" stroke="#4DBBD5" stroke-width="1.5"/>
<line x1="555.21" y1="416.4" x2="566.9100000000001" y2="416.4" stroke="#4DBBD5" stroke-width="2.2"/>
<polygon points="561.0600000000001,413.95 563.5100000000001,416.4 561.0600000000001,418.84999999999997 558.61,416.4" fill="white" stroke="#4DBBD5" stroke-width="0.9"/>
<line x1="554.36" y1="493.35" x2="554.36" y2="497.35" stroke="#222" stroke-width="1.2"/>
<text transform="translate(557.76,501.15000000000003) rotate(-90) scale(1.0,1.1)" font-size="9.4" text-anchor="end" fill="#222" font-family="Liberation Sans, sans-serif">RARRES3</text>
<text transform="translate(589.65,338.8) scale(1.0,1.1)" font-size="12" text-anchor="middle" fill="#222" font-family="Liberation Sans, sans-serif">***</text>
<circle cx="583.05" cy="461.8" r="1.85" fill="#E64B35" fill-opacity="0.5"/>
<line x1="583.05" y1="380.8" x2="583.05" y2="453.6" stroke="#E64B35" stroke-width="1.4"/>
<rect x="577.1999999999999" y="410.2" width="11.7" height="19.80000000000001" fill="#F6BAB0" stroke="#E64B35" stroke-width="1.5"/>
<line x1="577.1999999999999" y1="418.3" x2="588.9" y2="418.3" stroke="#E64B35" stroke-width="2.2"/>
<polygon points="583.05,418.05 585.5,420.5 583.05,422.95 580.5999999999999,420.5" fill="white" stroke="#E64B35" stroke-width="0.9"/>
<circle cx="596.35" cy="478.9" r="1.85" fill="#4DBBD5" fill-opacity="0.5"/>
<line x1="596.35" y1="402" x2="596.35" y2="458.3" stroke="#4DBBD5" stroke-width="1.4"/>
<rect x="590.5" y="419.7" width="11.7" height="23.100000000000023" fill="#B9E3EC" stroke="#4DBBD5" stroke-width="1.5"/>
<line x1="590.5" y1="426.5" x2="602.2" y2="426.5" stroke="#4DBBD5" stroke-width="2.2"/>
<polygon points="596.35,428.65000000000003 598.8000000000001,431.1 596.35,433.55 593.9,431.1" fill="white" stroke="#4DBBD5" stroke-width="0.9"/>
<line x1="589.65" y1="493.35" x2="589.65" y2="497.35" stroke="#222" stroke-width="1.2"/>
<text transform="translate(593.05,501.15000000000003) rotate(-90) scale(1.0,1.1)" font-size="9.4" text-anchor="end" fill="#222" font-family="Liberation Sans, sans-serif">SGK1</text>
<text transform="translate(624.9399999999999,338.8) scale(1.0,1.1)" font-size="12" text-anchor="middle" fill="#222" font-family="Liberation Sans, sans-serif">*</text>
<circle cx="618.3399999999999" cy="427.8" r="1.85" fill="#E64B35" fill-opacity="0.5"/>
<circle cx="618.3399999999999" cy="430.5" r="1.85" fill="#E64B35" fill-opacity="0.5"/>
<circle cx="618.3399999999999" cy="446.3" r="1.85" fill="#E64B35" fill-opacity="0.5"/>
<circle cx="618.3399999999999" cy="446.5" r="1.85" fill="#E64B35" fill-opacity="0.5"/>
<line x1="618.3399999999999" y1="372.1" x2="618.3399999999999" y2="420.5" stroke="#E64B35" stroke-width="1.4"/>
<rect x="612.4899999999999" y="387.1" width="11.7" height="15.5" fill="#F6BAB0" stroke="#E64B35" stroke-width="1.5"/>
<line x1="612.4899999999999" y1="395.2" x2="624.1899999999999" y2="395.2" stroke="#E64B35" stroke-width="2.2"/>
<polygon points="618.3399999999999,394.15000000000003 620.79,396.6 618.3399999999999,399.05 615.8899999999999,396.6" fill="white" stroke="#E64B35" stroke-width="0.9"/>
<circle cx="631.64" cy="452.3" r="1.85" fill="#4DBBD5" fill-opacity="0.5"/>
<line x1="631.64" y1="373.5" x2="631.64" y2="448.2" stroke="#4DBBD5" stroke-width="1.4"/>
<rect x="625.79" y="392" width="11.7" height="21.69999999999999" fill="#B9E3EC" stroke="#4DBBD5" stroke-width="1.5"/>
<line x1="625.79" y1="397.4" x2="637.49" y2="397.4" stroke="#4DBBD5" stroke-width="2.2"/>
<polygon points="631.64,401.45 634.09,403.9 631.64,406.34999999999997 629.1899999999999,403.9" fill="white" stroke="#4DBBD5" stroke-width="0.9"/>
<line x1="624.9399999999999" y1="493.35" x2="624.9399999999999" y2="497.35" stroke="#222" stroke-width="1.2"/>
<text transform="translate(628.3399999999999,501.15000000000003) rotate(-90) scale(1.0,1.1)" font-size="9.4" text-anchor="end" fill="#222" font-family="Liberation Sans, sans-serif">SLC7A7</text>
<text transform="translate(660.2299999999999,338.8) scale(1.0,1.1)" font-size="12" text-anchor="middle" fill="#222" font-family="Liberation Sans, sans-serif">*</text>
<circle cx="653.6299999999999" cy="464.6" r="1.85" fill="#E64B35" fill-opacity="0.5"/>
<circle cx="653.6299999999999" cy="471.4" r="1.85" fill="#E64B35" fill-opacity="0.5"/>
<line x1="653.6299999999999" y1="360.5" x2="653.6299999999999" y2="449.7" stroke="#E64B35" stroke-width="1.4"/>
<rect x="647.7799999999999" y="389.3" width="11.7" height="29.599999999999966" fill="#F6BAB0" stroke="#E64B35" stroke-width="1.5"/>
<line x1="647.7799999999999" y1="402.9" x2="659.4799999999999" y2="402.9" stroke="#E64B35" stroke-width="2.2"/>
<polygon points="653.6299999999999,403.15000000000003 656.0799999999999,405.6 653.6299999999999,408.05 651.1799999999998,405.6" fill="white" stroke="#E64B35" stroke-width="0.9"/>
<line x1="666.93" y1="381.7" x2="666.93" y2="465.2" stroke="#4DBBD5" stroke-width="1.4"/>
<rect x="661.0799999999999" y="399.4" width="11.7" height="29.900000000000034" fill="#B9E3EC" stroke="#4DBBD5" stroke-width="1.5"/>
<line x1="661.0799999999999" y1="408.9" x2="672.78" y2="408.9" stroke="#4DBBD5" stroke-width="2.2"/>
<polygon points="666.93,412.65000000000003 669.38,415.1 666.93,417.55 664.4799999999999,415.1" fill="white" stroke="#4DBBD5" stroke-width="0.9"/>
<line x1="660.2299999999999" y1="493.35" x2="660.2299999999999" y2="497.35" stroke="#222" stroke-width="1.2"/>
<text transform="translate(663.6299999999999,501.15000000000003) rotate(-90) scale(1.0,1.1)" font-size="9.4" text-anchor="end" fill="#222" font-family="Liberation Sans, sans-serif">TGFBI</text>
<rect x="39.5" y="321" width="641.55" height="172.35000000000002" fill="none" stroke="#1e1e1e" stroke-width="1.25"/>
<line x1="35.3" y1="461.37999999999994" x2="39.5" y2="461.37999999999994" stroke="#222" stroke-width="1.2"/>
<text transform="translate(33.6,464.67999999999995) scale(1.0,1.1)" font-size="9" text-anchor="end" fill="#222" font-family="Liberation Sans, sans-serif">6</text>
<line x1="35.3" y1="416.16999999999996" x2="39.5" y2="416.16999999999996" stroke="#222" stroke-width="1.2"/>
<text transform="translate(33.6,419.46999999999997) scale(1.0,1.1)" font-size="9" text-anchor="end" fill="#222" font-family="Liberation Sans, sans-serif">9</text>
<line x1="35.3" y1="370.9599999999999" x2="39.5" y2="370.9599999999999" stroke="#222" stroke-width="1.2"/>
<text transform="translate(33.6,374.25999999999993) scale(1.0,1.1)" font-size="9" text-anchor="end" fill="#222" font-family="Liberation Sans, sans-serif">12</text>
<line x1="35.3" y1="325.74999999999994" x2="39.5" y2="325.74999999999994" stroke="#222" stroke-width="1.2"/>
<text transform="translate(33.6,329.04999999999995) scale(1.0,1.1)" font-size="9" text-anchor="end" fill="#222" font-family="Liberation Sans, sans-serif">15</text>
<text transform="translate(17.2,407) rotate(-90) scale(1.0,1.1)" font-size="9.6" text-anchor="middle" fill="#222" font-family="Liberation Sans, sans-serif">Expression Level</text></svg></body></html>
